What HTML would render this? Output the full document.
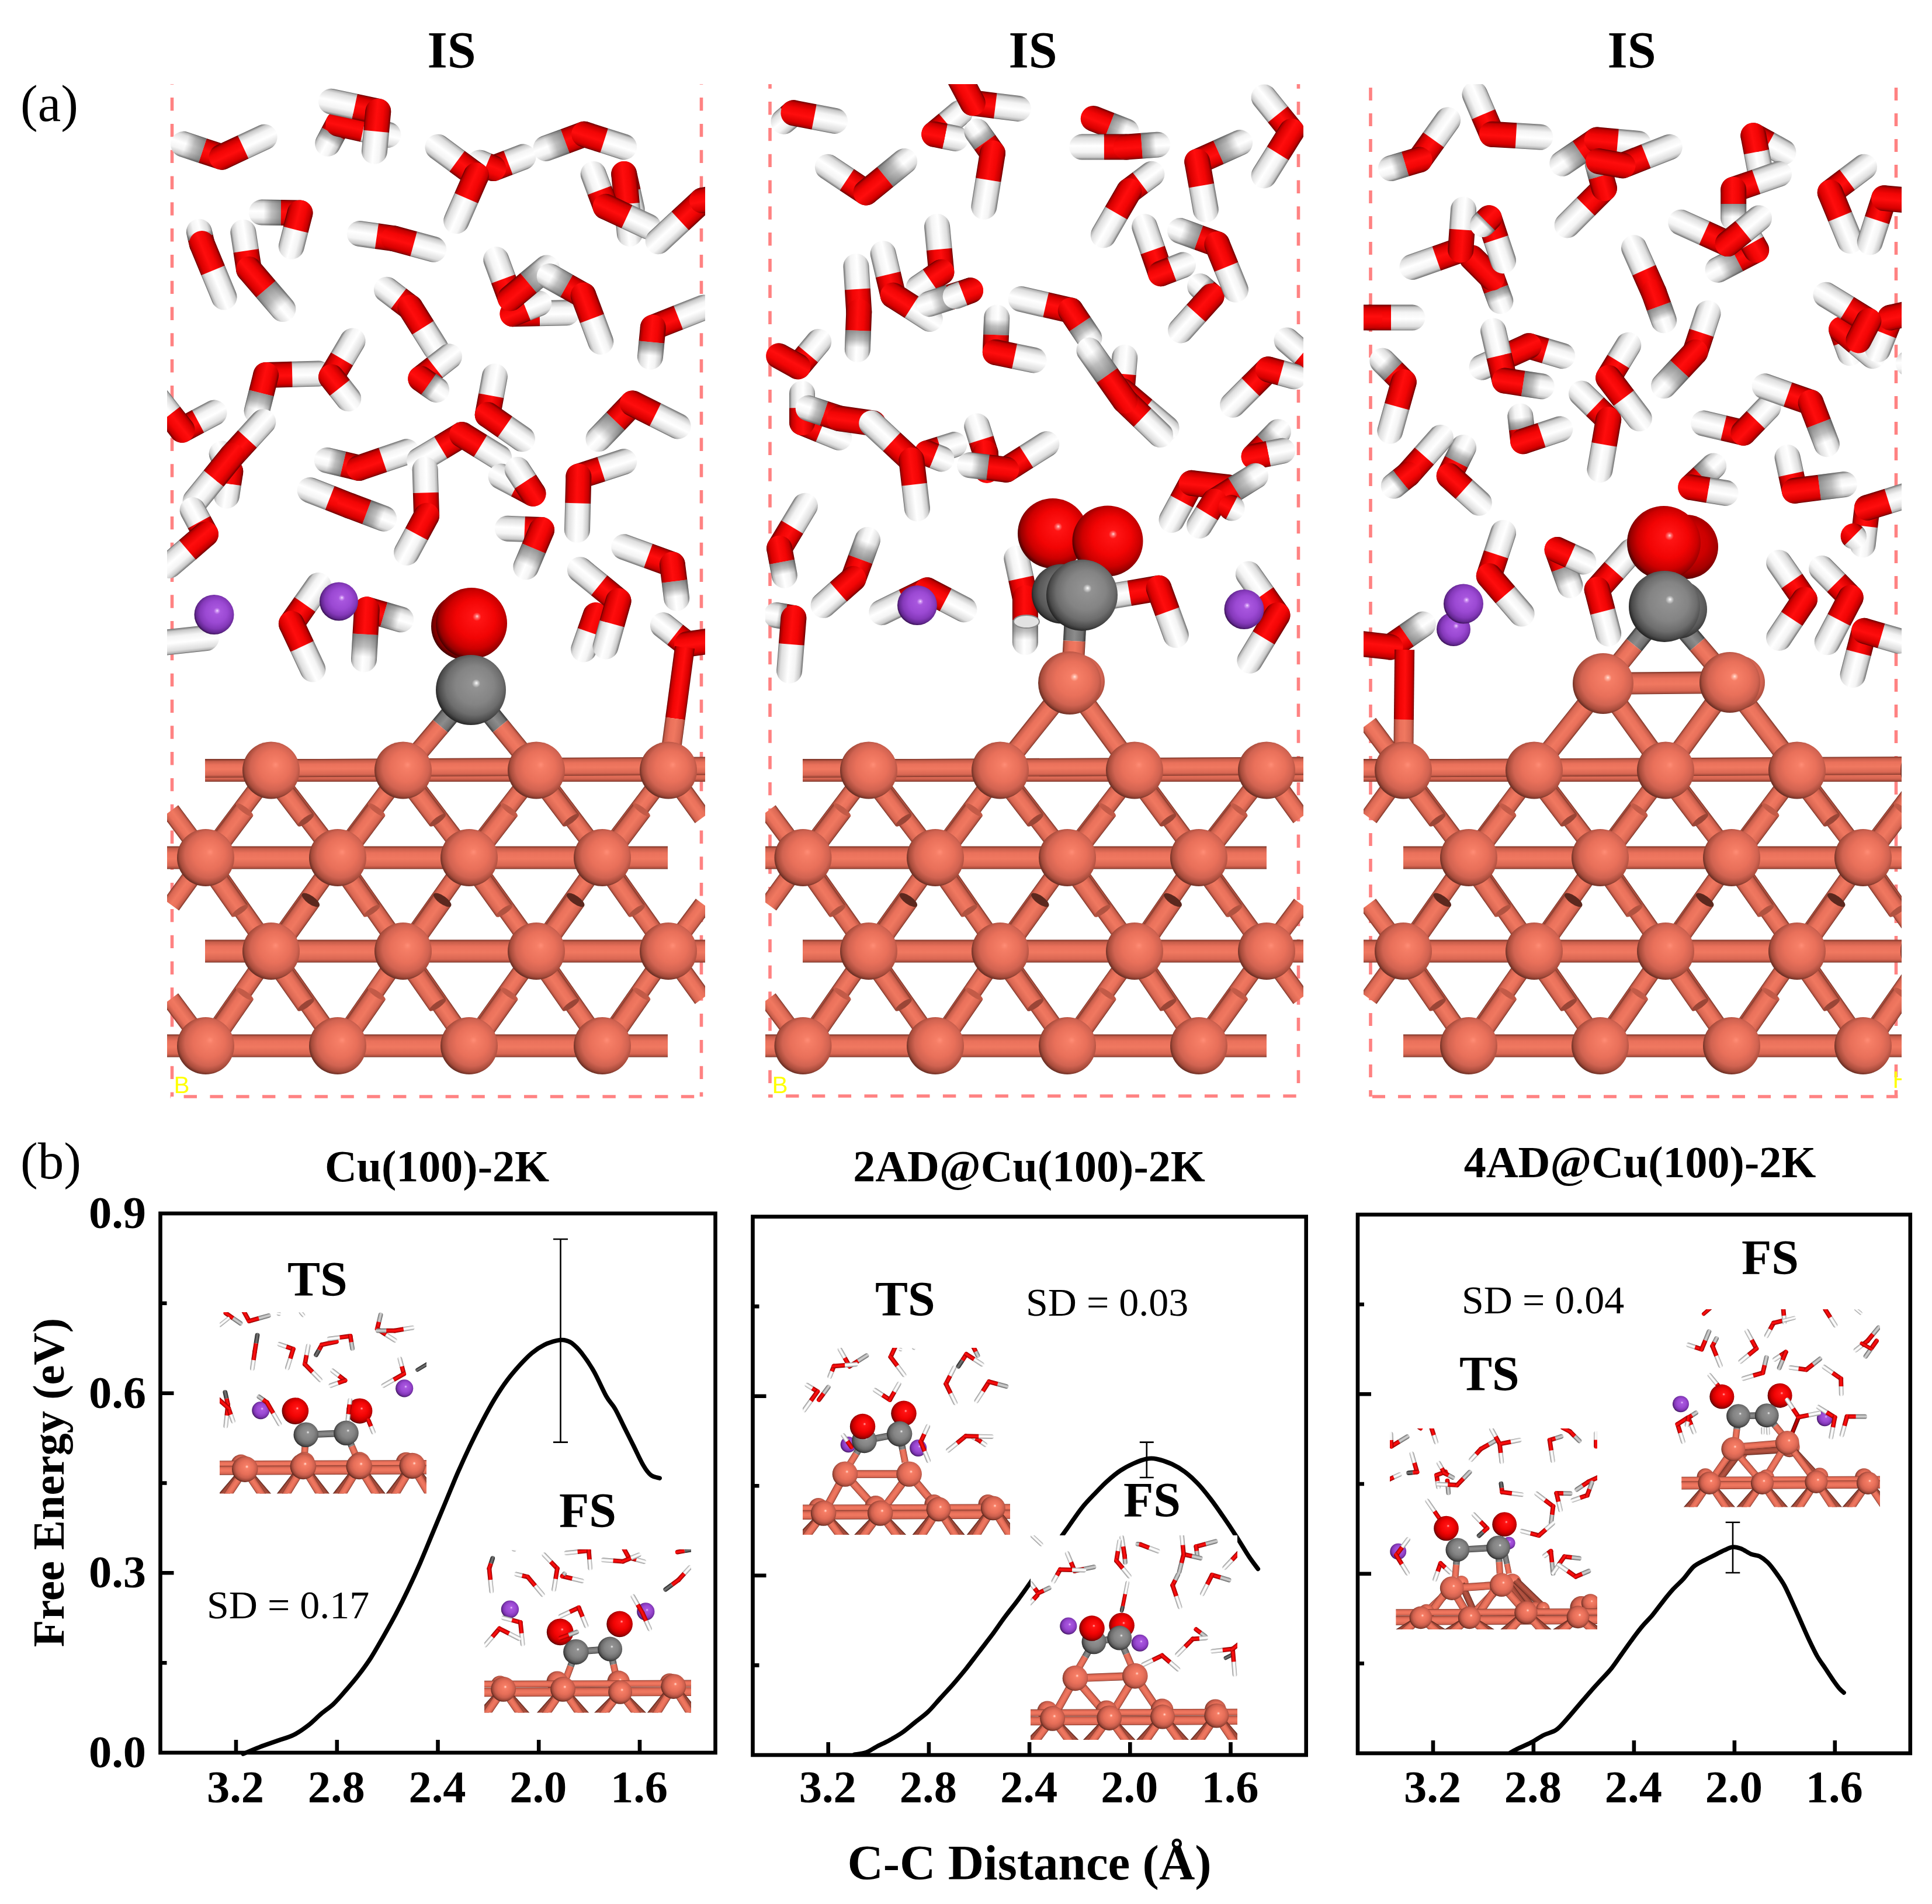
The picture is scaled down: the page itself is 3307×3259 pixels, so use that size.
<!DOCTYPE html><html><head><meta charset="utf-8"><title>figure</title><style>html,body{margin:0;padding:0;background:#fff}svg{display:block}text{font-family:"Liberation Serif",serif;fill:#000}.b{font-weight:bold}</style></head><body><svg width="3307" height="3259" viewBox="0 0 3307 3259"><defs><linearGradient id="sW" x1="0" y1="0" x2="0" y2="1"><stop offset="0" stop-color="#6e6e6e"/><stop offset="0.1" stop-color="#c9c9c9"/><stop offset="0.3" stop-color="#f4f4f4"/><stop offset="0.55" stop-color="#ffffff"/><stop offset="0.85" stop-color="#dedede"/><stop offset="0.95" stop-color="#b4b4b4"/><stop offset="1" stop-color="#6a6a6a"/></linearGradient><linearGradient id="sG" x1="0" y1="0" x2="0" y2="1"><stop offset="0" stop-color="#3c3c3c"/><stop offset="0.12" stop-color="#8d8d8d"/><stop offset="0.4" stop-color="#c4c4c4"/><stop offset="0.6" stop-color="#c8c8c8"/><stop offset="0.88" stop-color="#909090"/><stop offset="1" stop-color="#3a3a3a"/></linearGradient><linearGradient id="sR" x1="0" y1="0" x2="0" y2="1"><stop offset="0" stop-color="#6a0000"/><stop offset="0.1" stop-color="#c40000"/><stop offset="0.3" stop-color="#f20505"/><stop offset="0.55" stop-color="#ff0d0d"/><stop offset="0.85" stop-color="#d80000"/><stop offset="0.95" stop-color="#a80000"/><stop offset="1" stop-color="#600000"/></linearGradient><linearGradient id="sD" x1="0" y1="0" x2="0" y2="1"><stop offset="0" stop-color="#4a0000"/><stop offset="0.15" stop-color="#a00000"/><stop offset="0.5" stop-color="#c80000"/><stop offset="0.85" stop-color="#980000"/><stop offset="1" stop-color="#400000"/></linearGradient><linearGradient id="sC" x1="0" y1="0" x2="0" y2="1"><stop offset="0" stop-color="#7c3427"/><stop offset="0.1" stop-color="#c65d4a"/><stop offset="0.3" stop-color="#ea715b"/><stop offset="0.55" stop-color="#f07860"/><stop offset="0.85" stop-color="#d96753"/><stop offset="0.95" stop-color="#b0503f"/><stop offset="1" stop-color="#6e2d22"/></linearGradient><linearGradient id="sCd" x1="0" y1="0" x2="0" y2="1"><stop offset="0" stop-color="#5a251c"/><stop offset="0.15" stop-color="#9c4636"/><stop offset="0.5" stop-color="#b85543"/><stop offset="0.85" stop-color="#984434"/><stop offset="1" stop-color="#52211a"/></linearGradient><linearGradient id="sGy" x1="0" y1="0" x2="0" y2="1"><stop offset="0" stop-color="#3a3a3a"/><stop offset="0.15" stop-color="#747474"/><stop offset="0.5" stop-color="#8c8c8c"/><stop offset="0.85" stop-color="#707070"/><stop offset="1" stop-color="#363636"/></linearGradient><linearGradient id="fG" x1="0" y1="0" x2="1" y2="0"><stop offset="0" stop-color="#404040" stop-opacity="0.55"/><stop offset="0.55" stop-color="#505050" stop-opacity="0.35"/><stop offset="1" stop-color="#606060" stop-opacity="0"/></linearGradient><linearGradient id="tW" x1="0" y1="0" x2="0" y2="1"><stop offset="0" stop-color="#9a9a9a"/><stop offset="0.3" stop-color="#f6f6f6"/><stop offset="0.6" stop-color="#ffffff"/><stop offset="1" stop-color="#8c8c8c"/></linearGradient><linearGradient id="tR" x1="0" y1="0" x2="0" y2="1"><stop offset="0" stop-color="#9a0000"/><stop offset="0.35" stop-color="#f40a0a"/><stop offset="0.6" stop-color="#ff1010"/><stop offset="1" stop-color="#8a0000"/></linearGradient><linearGradient id="tG" x1="0" y1="0" x2="0" y2="1"><stop offset="0" stop-color="#6a6a6a"/><stop offset="0.35" stop-color="#c6c6c6"/><stop offset="0.6" stop-color="#d0d0d0"/><stop offset="1" stop-color="#5c5c5c"/></linearGradient><linearGradient id="tK" x1="0" y1="0" x2="0" y2="1"><stop offset="0" stop-color="#202020"/><stop offset="0.4" stop-color="#6a6a6a"/><stop offset="0.6" stop-color="#727272"/><stop offset="1" stop-color="#1c1c1c"/></linearGradient><linearGradient id="tD" x1="0" y1="0" x2="0" y2="1"><stop offset="0" stop-color="#500000"/><stop offset="0.4" stop-color="#c00000"/><stop offset="0.6" stop-color="#c80000"/><stop offset="1" stop-color="#480000"/></linearGradient><radialGradient id="bCu" cx="0.535" cy="0.465" r="0.55" fx="0.58" fy="0.4"><stop offset="0" stop-color="#ff8d76"/><stop offset="0.12" stop-color="#f67e66"/><stop offset="0.5" stop-color="#e9705a"/><stop offset="0.74" stop-color="#d16351"/><stop offset="0.9" stop-color="#a64b3b"/><stop offset="1" stop-color="#612a20"/></radialGradient><radialGradient id="bCuS" cx="0.535" cy="0.465" r="0.55" fx="0.58" fy="0.4"><stop offset="0" stop-color="#ffe9e2"/><stop offset="0.045" stop-color="#ffb5a2"/><stop offset="0.12" stop-color="#f67e66"/><stop offset="0.5" stop-color="#e9705a"/><stop offset="0.74" stop-color="#d16351"/><stop offset="0.9" stop-color="#a64b3b"/><stop offset="1" stop-color="#612a20"/></radialGradient><radialGradient id="bCuI" cx="0.535" cy="0.465" r="0.55" fx="0.58" fy="0.4"><stop offset="0" stop-color="#ffe9e2"/><stop offset="0.05" stop-color="#ffb5a2"/><stop offset="0.12" stop-color="#f67e66"/><stop offset="0.5" stop-color="#e66e58"/><stop offset="0.72" stop-color="#cb5f4d"/><stop offset="0.88" stop-color="#9c4637"/><stop offset="1" stop-color="#55241b"/></radialGradient><radialGradient id="bC" cx="0.535" cy="0.465" r="0.55" fx="0.58" fy="0.4"><stop offset="0" stop-color="#ffffff"/><stop offset="0.045" stop-color="#cdcdcd"/><stop offset="0.11" stop-color="#929292"/><stop offset="0.5" stop-color="#848484"/><stop offset="0.74" stop-color="#6d6d6d"/><stop offset="0.9" stop-color="#4a4a4a"/><stop offset="1" stop-color="#202020"/></radialGradient><radialGradient id="bCb" cx="0.535" cy="0.465" r="0.55" fx="0.58" fy="0.4"><stop offset="0" stop-color="#7c7c7c"/><stop offset="0.5" stop-color="#707070"/><stop offset="0.78" stop-color="#585858"/><stop offset="0.92" stop-color="#3c3c3c"/><stop offset="1" stop-color="#1c1c1c"/></radialGradient><radialGradient id="bO" cx="0.535" cy="0.465" r="0.55" fx="0.58" fy="0.4"><stop offset="0" stop-color="#ffd6d6"/><stop offset="0.045" stop-color="#ff6a6a"/><stop offset="0.11" stop-color="#ff1414"/><stop offset="0.5" stop-color="#f20404"/><stop offset="0.74" stop-color="#cd0000"/><stop offset="0.9" stop-color="#960000"/><stop offset="1" stop-color="#420000"/></radialGradient><radialGradient id="bOb" cx="0.535" cy="0.465" r="0.55" fx="0.58" fy="0.4"><stop offset="0" stop-color="#dc0606"/><stop offset="0.5" stop-color="#cc0000"/><stop offset="0.78" stop-color="#a60000"/><stop offset="0.92" stop-color="#780000"/><stop offset="1" stop-color="#380000"/></radialGradient><radialGradient id="bK" cx="0.535" cy="0.465" r="0.55" fx="0.58" fy="0.4"><stop offset="0" stop-color="#f6e2ff"/><stop offset="0.06" stop-color="#cf95f3"/><stop offset="0.15" stop-color="#a856de"/><stop offset="0.5" stop-color="#9b49d3"/><stop offset="0.74" stop-color="#8539ba"/><stop offset="0.9" stop-color="#632791"/><stop offset="1" stop-color="#340f4c"/></radialGradient></defs><rect width="3307" height="3259" fill="#fff"/><clipPath id="cp1"><rect x="286" y="144" width="921" height="1740"/></clipPath><clipPath id="cp2"><rect x="1310" y="144" width="921" height="1740"/></clipPath><clipPath id="cp3"><rect x="2334" y="144" width="921" height="1740"/></clipPath><g clip-path="url(#cp1)"><path d="M294.5 144V1877M1200.5 144V1877M291.5 1877H1203.5" fill="none" stroke="#ff8282" stroke-width="5.6" stroke-dasharray="22.4 22.4" stroke-dashoffset="21.7"/><path transform="translate(579.2 211.7) rotate(117.9)" d="M19.3 -22H38.5A22 22 0 0 1 38.5 22H19.3Z" fill="url(#sW)"/><path transform="translate(579.2 211.7) rotate(117.9)" d="M19.3 -22H0A22 22 0 0 0 0 22H19.3Z" fill="url(#sR)"/><rect transform="translate(579.2 211.7) rotate(117.9)" x="19.3" y="-22" width="17.3" height="44" fill="url(#fG)"/><path transform="translate(579.2 211.7) rotate(12.6)" d="M43.6 -22H87.2A22 22 0 0 1 87.2 22H43.6Z" fill="url(#sW)"/><path transform="translate(579.2 211.7) rotate(12.6)" d="M43.6 -22H0A22 22 0 0 0 0 22H43.6Z" fill="url(#sR)"/><path transform="translate(1068.2 297.9) rotate(77.4)" d="M31.2 -22H62.3A22 22 0 0 1 62.3 22H31.2Z" fill="url(#sW)"/><path transform="translate(1068.2 297.9) rotate(77.4)" d="M31.2 -22H0A22 22 0 0 0 0 22H31.2Z" fill="url(#sR)"/><path transform="translate(1068.2 297.9) rotate(84.6)" d="M51.3 -22H102.6A22 22 0 0 1 102.6 22H51.3Z" fill="url(#sW)"/><path transform="translate(1068.2 297.9) rotate(84.6)" d="M51.3 -22H0A22 22 0 0 0 0 22H51.3Z" fill="url(#sR)"/><path transform="translate(877.5 537.2) rotate(-1.2)" d="M46.2 -22H92.5A22 22 0 0 1 92.5 22H46.2Z" fill="url(#sW)"/><path transform="translate(877.5 537.2) rotate(-1.2)" d="M46.2 -22H0A22 22 0 0 0 0 22H46.2Z" fill="url(#sR)"/><path transform="translate(877.5 537.2) rotate(-21.9)" d="M24.1 -22H48.2A22 22 0 0 1 48.2 22H24.1Z" fill="url(#sW)"/><path transform="translate(877.5 537.2) rotate(-21.9)" d="M24.1 -22H0A22 22 0 0 0 0 22H24.1Z" fill="url(#sR)"/><path transform="translate(379.7 268.7) rotate(-161.6)" d="M34.6 -22H69.2A22 22 0 0 1 69.2 22H34.6Z" fill="url(#sW)"/><path transform="translate(379.7 268.7) rotate(-161.6)" d="M34.6 -22H0A22 22 0 0 0 0 22H34.6Z" fill="url(#sR)"/><rect transform="translate(379.7 268.7) rotate(-161.6)" x="34.6" y="-22" width="31.2" height="44" fill="url(#fG)"/><path transform="translate(379.7 268.7) rotate(-25)" d="M40.3 -22H80.5A22 22 0 0 1 80.5 22H40.3Z" fill="url(#sW)"/><path transform="translate(379.7 268.7) rotate(-25)" d="M40.3 -22H0A22 22 0 0 0 0 22H40.3Z" fill="url(#sR)"/><path transform="translate(647.3 190.8) rotate(-168)" d="M41 -22H82.1A22 22 0 0 1 82.1 22H41Z" fill="url(#sW)"/><path transform="translate(647.3 190.8) rotate(-168)" d="M41 -22H0A22 22 0 0 0 0 22H41Z" fill="url(#sR)"/><path transform="translate(647.3 190.8) rotate(95.3)" d="M34.2 -22H68.4A22 22 0 0 1 68.4 22H34.2Z" fill="url(#sW)"/><path transform="translate(647.3 190.8) rotate(95.3)" d="M34.2 -22H0A22 22 0 0 0 0 22H34.2Z" fill="url(#sR)"/><path transform="translate(844.4 288.1) rotate(-20.9)" d="M27.3 -22H54.7A22 22 0 0 1 54.7 22H27.3Z" fill="url(#sW)"/><path transform="translate(844.4 288.1) rotate(-20.9)" d="M27.3 -22H0A22 22 0 0 0 0 22H27.3Z" fill="url(#sR)"/><path transform="translate(844.4 288.1) rotate(-157.4)" d="M12.7 -22H25.3A22 22 0 0 1 25.3 22H12.7Z" fill="url(#sW)"/><path transform="translate(844.4 288.1) rotate(-157.4)" d="M12.7 -22H0A22 22 0 0 0 0 22H12.7Z" fill="url(#sR)"/><path transform="translate(815.2 300.3) rotate(-143.5)" d="M40.9 -22H81.7A22 22 0 0 1 81.7 22H40.9Z" fill="url(#sW)"/><path transform="translate(815.2 300.3) rotate(-143.5)" d="M40.9 -22H0A22 22 0 0 0 0 22H40.9Z" fill="url(#sR)"/><path transform="translate(815.2 300.3) rotate(113.6)" d="M42.5 -22H85A22 22 0 0 1 85 22H42.5Z" fill="url(#sW)"/><path transform="translate(815.2 300.3) rotate(113.6)" d="M42.5 -22H0A22 22 0 0 0 0 22H42.5Z" fill="url(#sR)"/><path transform="translate(1000.1 229.7) rotate(159.7)" d="M35 -22H70A22 22 0 0 1 70 22H35Z" fill="url(#sW)"/><path transform="translate(1000.1 229.7) rotate(159.7)" d="M35 -22H0A22 22 0 0 0 0 22H35Z" fill="url(#sR)"/><rect transform="translate(1000.1 229.7) rotate(159.7)" x="35" y="-22" width="31.5" height="44" fill="url(#fG)"/><path transform="translate(1000.1 229.7) rotate(17.8)" d="M35.8 -22H71.5A22 22 0 0 1 71.5 22H35.8Z" fill="url(#sW)"/><path transform="translate(1000.1 229.7) rotate(17.8)" d="M35.8 -22H0A22 22 0 0 0 0 22H35.8Z" fill="url(#sR)"/><path transform="translate(1036.6 353.8) rotate(-110.5)" d="M29.9 -22H59.7A22 22 0 0 1 59.7 22H29.9Z" fill="url(#sW)"/><path transform="translate(1036.6 353.8) rotate(-110.5)" d="M29.9 -22H0A22 22 0 0 0 0 22H29.9Z" fill="url(#sR)"/><path transform="translate(1036.6 353.8) rotate(25)" d="M40.3 -22H80.5A22 22 0 0 1 80.5 22H40.3Z" fill="url(#sW)"/><path transform="translate(1036.6 353.8) rotate(25)" d="M40.3 -22H0A22 22 0 0 0 0 22H40.3Z" fill="url(#sR)"/><path transform="translate(1202 343.1) rotate(137.1)" d="M51.5 -22H102.9A22 22 0 0 1 102.9 22H51.5Z" fill="url(#sW)"/><path transform="translate(1202 343.1) rotate(137.1)" d="M51.5 -22H0A22 22 0 0 0 0 22H51.5Z" fill="url(#sR)"/><path transform="translate(1202 343.1) rotate(-10.7)" d="M23.5 -22H47A22 22 0 0 1 47 22H23.5Z" fill="url(#sW)"/><path transform="translate(1202 343.1) rotate(-10.7)" d="M23.5 -22H0A22 22 0 0 0 0 22H23.5Z" fill="url(#sR)"/><path transform="translate(513.5 364.5) rotate(-179.2)" d="M32.8 -22H65.7A22 22 0 0 1 65.7 22H32.8Z" fill="url(#sW)"/><path transform="translate(513.5 364.5) rotate(-179.2)" d="M32.8 -22H0A22 22 0 0 0 0 22H32.8Z" fill="url(#sR)"/><rect transform="translate(513.5 364.5) rotate(-179.2)" x="32.8" y="-22" width="29.6" height="44" fill="url(#fG)"/><path transform="translate(513.5 364.5) rotate(104.3)" d="M29.6 -22H59.2A22 22 0 0 1 59.2 22H29.6Z" fill="url(#sW)"/><path transform="translate(513.5 364.5) rotate(104.3)" d="M29.6 -22H0A22 22 0 0 0 0 22H29.6Z" fill="url(#sR)"/><path transform="translate(345.7 417.1) rotate(-103.4)" d="M10.5 -22H21A22 22 0 0 1 21 22H10.5Z" fill="url(#sW)"/><path transform="translate(345.7 417.1) rotate(-103.4)" d="M10.5 -22H0A22 22 0 0 0 0 22H10.5Z" fill="url(#sR)"/><rect transform="translate(345.7 417.1) rotate(-103.4)" x="10.5" y="-22" width="9.5" height="44" fill="url(#fG)"/><path transform="translate(345.7 417.1) rotate(67.5)" d="M49.5 -22H99A22 22 0 0 1 99 22H49.5Z" fill="url(#sW)"/><path transform="translate(345.7 417.1) rotate(67.5)" d="M49.5 -22H0A22 22 0 0 0 0 22H49.5Z" fill="url(#sR)"/><path transform="translate(426 460.9) rotate(-98.7)" d="M32 -22H64A22 22 0 0 1 64 22H32Z" fill="url(#sW)"/><path transform="translate(426 460.9) rotate(-98.7)" d="M32 -22H0A22 22 0 0 0 0 22H32Z" fill="url(#sR)"/><path transform="translate(426 460.9) rotate(49.4)" d="M44.9 -22H89.7A22 22 0 0 1 89.7 22H44.9Z" fill="url(#sW)"/><path transform="translate(426 460.9) rotate(49.4)" d="M44.9 -22H0A22 22 0 0 0 0 22H44.9Z" fill="url(#sR)"/><rect transform="translate(426 460.9) rotate(49.4)" x="44.9" y="-22" width="40.4" height="44" fill="url(#fG)"/><path transform="translate(674.1 408.3) rotate(-171.9)" d="M29.5 -22H59A22 22 0 0 1 59 22H29.5Z" fill="url(#sW)"/><path transform="translate(674.1 408.3) rotate(-171.9)" d="M29.5 -22H0A22 22 0 0 0 0 22H29.5Z" fill="url(#sR)"/><path transform="translate(674.1 408.3) rotate(15.2)" d="M35.3 -22H70.6A22 22 0 0 1 70.6 22H35.3Z" fill="url(#sW)"/><path transform="translate(674.1 408.3) rotate(15.2)" d="M35.3 -22H0A22 22 0 0 0 0 22H35.3Z" fill="url(#sR)"/><path transform="translate(702.3 526.5) rotate(-142.8)" d="M25.3 -22H50.7A22 22 0 0 1 50.7 22H25.3Z" fill="url(#sW)"/><path transform="translate(702.3 526.5) rotate(-142.8)" d="M25.3 -22H0A22 22 0 0 0 0 22H25.3Z" fill="url(#sR)"/><path transform="translate(702.3 526.5) rotate(57.9)" d="M40.8 -22H81.5A22 22 0 0 1 81.5 22H40.8Z" fill="url(#sW)"/><path transform="translate(702.3 526.5) rotate(57.9)" d="M40.8 -22H0A22 22 0 0 0 0 22H40.8Z" fill="url(#sR)"/><path transform="translate(873.6 510.5) rotate(-110.2)" d="M35.3 -22H70.5A22 22 0 0 1 70.5 22H35.3Z" fill="url(#sW)"/><path transform="translate(873.6 510.5) rotate(-110.2)" d="M35.3 -22H0A22 22 0 0 0 0 22H35.3Z" fill="url(#sR)"/><path transform="translate(873.6 510.5) rotate(-39.9)" d="M40.6 -22H81.2A22 22 0 0 1 81.2 22H40.6Z" fill="url(#sW)"/><path transform="translate(873.6 510.5) rotate(-39.9)" d="M40.6 -22H0A22 22 0 0 0 0 22H40.6Z" fill="url(#sR)"/><rect transform="translate(873.6 510.5) rotate(-39.9)" x="40.6" y="-22" width="36.5" height="44" fill="url(#fG)"/><path transform="translate(998.6 505.6) rotate(-150.6)" d="M33.2 -22H66.4A22 22 0 0 1 66.4 22H33.2Z" fill="url(#sW)"/><path transform="translate(998.6 505.6) rotate(-150.6)" d="M33.2 -22H0A22 22 0 0 0 0 22H33.2Z" fill="url(#sR)"/><rect transform="translate(998.6 505.6) rotate(-150.6)" x="33.2" y="-22" width="29.9" height="44" fill="url(#fG)"/><path transform="translate(998.6 505.6) rotate(69.5)" d="M42.3 -22H84.7A22 22 0 0 1 84.7 22H42.3Z" fill="url(#sW)"/><path transform="translate(998.6 505.6) rotate(69.5)" d="M42.3 -22H0A22 22 0 0 0 0 22H42.3Z" fill="url(#sR)"/><path transform="translate(1117.8 560.6) rotate(-21.5)" d="M46.5 -22H93.1A22 22 0 0 1 93.1 22H46.5Z" fill="url(#sW)"/><path transform="translate(1117.8 560.6) rotate(-21.5)" d="M46.5 -22H0A22 22 0 0 0 0 22H46.5Z" fill="url(#sR)"/><path transform="translate(1117.8 560.6) rotate(95.5)" d="M25.2 -22H50.3A22 22 0 0 1 50.3 22H25.2Z" fill="url(#sW)"/><path transform="translate(1117.8 560.6) rotate(95.5)" d="M25.2 -22H0A22 22 0 0 0 0 22H25.2Z" fill="url(#sR)"/><rect transform="translate(1117.8 560.6) rotate(95.5)" x="25.2" y="-22" width="22.7" height="44" fill="url(#fG)"/><path transform="translate(394.3 807.3) rotate(-115.5)" d="M17 -22H34A22 22 0 0 1 34 22H17Z" fill="url(#sW)"/><path transform="translate(394.3 807.3) rotate(-115.5)" d="M17 -22H0A22 22 0 0 0 0 22H17Z" fill="url(#sR)"/><rect transform="translate(394.3 807.3) rotate(-115.5)" x="17" y="-22" width="15.3" height="44" fill="url(#fG)"/><path transform="translate(394.3 807.3) rotate(98.7)" d="M20.9 -22H41.8A22 22 0 0 1 41.8 22H20.9Z" fill="url(#sW)"/><path transform="translate(394.3 807.3) rotate(98.7)" d="M20.9 -22H0A22 22 0 0 0 0 22H20.9Z" fill="url(#sR)"/><path transform="translate(455.2 641.9) rotate(-1.5)" d="M45 -22H90A22 22 0 0 1 90 22H45Z" fill="url(#sW)"/><path transform="translate(455.2 641.9) rotate(-1.5)" d="M45 -22H0A22 22 0 0 0 0 22H45Z" fill="url(#sR)"/><path transform="translate(455.2 641.9) rotate(104.1)" d="M31.9 -22H63.7A22 22 0 0 1 63.7 22H31.9Z" fill="url(#sW)"/><path transform="translate(455.2 641.9) rotate(104.1)" d="M31.9 -22H0A22 22 0 0 0 0 22H31.9Z" fill="url(#sR)"/><rect transform="translate(455.2 641.9) rotate(104.1)" x="31.9" y="-22" width="28.7" height="44" fill="url(#fG)"/><path transform="translate(567.1 645.3) rotate(-59.4)" d="M35.9 -22H71.8A22 22 0 0 1 71.8 22H35.9Z" fill="url(#sW)"/><path transform="translate(567.1 645.3) rotate(-59.4)" d="M35.9 -22H0A22 22 0 0 0 0 22H35.9Z" fill="url(#sR)"/><path transform="translate(567.1 645.3) rotate(51.7)" d="M23.6 -22H47.1A22 22 0 0 1 47.1 22H23.6Z" fill="url(#sW)"/><path transform="translate(567.1 645.3) rotate(51.7)" d="M23.6 -22H0A22 22 0 0 0 0 22H23.6Z" fill="url(#sR)"/><path transform="translate(720.3 648.2) rotate(-38)" d="M30.9 -22H61.7A22 22 0 0 1 61.7 22H30.9Z" fill="url(#sW)"/><path transform="translate(720.3 648.2) rotate(-38)" d="M30.9 -22H0A22 22 0 0 0 0 22H30.9Z" fill="url(#sR)"/><path transform="translate(720.3 648.2) rotate(35.3)" d="M16.4 -22H32.8A22 22 0 0 1 32.8 22H16.4Z" fill="url(#sW)"/><path transform="translate(720.3 648.2) rotate(35.3)" d="M16.4 -22H0A22 22 0 0 0 0 22H16.4Z" fill="url(#sR)"/><rect transform="translate(720.3 648.2) rotate(35.3)" x="16.4" y="-22" width="14.8" height="44" fill="url(#fG)"/><path transform="translate(834.7 710) rotate(-79.5)" d="M33.4 -22H66.8A22 22 0 0 1 66.8 22H33.4Z" fill="url(#sW)"/><path transform="translate(834.7 710) rotate(-79.5)" d="M33.4 -22H0A22 22 0 0 0 0 22H33.4Z" fill="url(#sR)"/><path transform="translate(834.7 710) rotate(34.9)" d="M36.2 -22H72.3A22 22 0 0 1 72.3 22H36.2Z" fill="url(#sW)"/><path transform="translate(834.7 710) rotate(34.9)" d="M36.2 -22H0A22 22 0 0 0 0 22H36.2Z" fill="url(#sR)"/><path transform="translate(311.6 735.8) rotate(-28)" d="M31.1 -22H62.2A22 22 0 0 1 62.2 22H31.1Z" fill="url(#sW)"/><path transform="translate(311.6 735.8) rotate(-28)" d="M31.1 -22H0A22 22 0 0 0 0 22H31.1Z" fill="url(#sR)"/><path transform="translate(311.6 735.8) rotate(-128.2)" d="M33.4 -22H66.9A22 22 0 0 1 66.9 22H33.4Z" fill="url(#sW)"/><path transform="translate(311.6 735.8) rotate(-128.2)" d="M33.4 -22H0A22 22 0 0 0 0 22H33.4Z" fill="url(#sR)"/><path transform="translate(396.8 780.6) rotate(-47.5)" d="M39.6 -22H79.2A22 22 0 0 1 79.2 22H39.6Z" fill="url(#sW)"/><path transform="translate(396.8 780.6) rotate(-47.5)" d="M39.6 -22H0A22 22 0 0 0 0 22H39.6Z" fill="url(#sR)"/><path transform="translate(396.8 780.6) rotate(129)" d="M49.5 -22H98.9A22 22 0 0 1 98.9 22H49.5Z" fill="url(#sW)"/><path transform="translate(396.8 780.6) rotate(129)" d="M49.5 -22H0A22 22 0 0 0 0 22H49.5Z" fill="url(#sR)"/><path transform="translate(352 914.4) rotate(-118.4)" d="M23.5 -22H47A22 22 0 0 1 47 22H23.5Z" fill="url(#sW)"/><path transform="translate(352 914.4) rotate(-118.4)" d="M23.5 -22H0A22 22 0 0 0 0 22H23.5Z" fill="url(#sR)"/><path transform="translate(352 914.4) rotate(139.3)" d="M41.1 -22H82.1A22 22 0 0 1 82.1 22H41.1Z" fill="url(#sW)"/><path transform="translate(352 914.4) rotate(139.3)" d="M41.1 -22H0A22 22 0 0 0 0 22H41.1Z" fill="url(#sR)"/><path transform="translate(614.7 801) rotate(-166.6)" d="M28.3 -22H56.5A22 22 0 0 1 56.5 22H28.3Z" fill="url(#sW)"/><path transform="translate(614.7 801) rotate(-166.6)" d="M28.3 -22H0A22 22 0 0 0 0 22H28.3Z" fill="url(#sR)"/><rect transform="translate(614.7 801) rotate(-166.6)" x="28.3" y="-22" width="25.4" height="44" fill="url(#fG)"/><path transform="translate(614.7 801) rotate(-18.8)" d="M42.9 -22H85.9A22 22 0 0 1 85.9 22H42.9Z" fill="url(#sW)"/><path transform="translate(614.7 801) rotate(-18.8)" d="M42.9 -22H0A22 22 0 0 0 0 22H42.9Z" fill="url(#sR)"/><path transform="translate(790.9 744.1) rotate(149)" d="M42.6 -22H85.1A22 22 0 0 1 85.1 22H42.6Z" fill="url(#sW)"/><path transform="translate(790.9 744.1) rotate(149)" d="M42.6 -22H0A22 22 0 0 0 0 22H42.6Z" fill="url(#sR)"/><path transform="translate(790.9 744.1) rotate(31.6)" d="M37.1 -22H74.3A22 22 0 0 1 74.3 22H37.1Z" fill="url(#sW)"/><path transform="translate(790.9 744.1) rotate(31.6)" d="M37.1 -22H0A22 22 0 0 0 0 22H37.1Z" fill="url(#sR)"/><path transform="translate(730.1 882.7) rotate(-91.8)" d="M39.4 -22H78.9A22 22 0 0 1 78.9 22H39.4Z" fill="url(#sW)"/><path transform="translate(730.1 882.7) rotate(-91.8)" d="M39.4 -22H0A22 22 0 0 0 0 22H39.4Z" fill="url(#sR)"/><path transform="translate(730.1 882.7) rotate(118.3)" d="M35.9 -22H71.8A22 22 0 0 1 71.8 22H35.9Z" fill="url(#sW)"/><path transform="translate(730.1 882.7) rotate(118.3)" d="M35.9 -22H0A22 22 0 0 0 0 22H35.9Z" fill="url(#sR)"/><path transform="translate(912.5 844.8) rotate(-152)" d="M31.1 -22H62.2A22 22 0 0 1 62.2 22H31.1Z" fill="url(#sW)"/><path transform="translate(912.5 844.8) rotate(-152)" d="M31.1 -22H0A22 22 0 0 0 0 22H31.1Z" fill="url(#sR)"/><path transform="translate(912.5 844.8) rotate(-123.2)" d="M24.4 -22H48.9A22 22 0 0 1 48.9 22H24.4Z" fill="url(#sW)"/><path transform="translate(912.5 844.8) rotate(-123.2)" d="M24.4 -22H0A22 22 0 0 0 0 22H24.4Z" fill="url(#sR)"/><path transform="translate(598.7 865.7) rotate(-158.6)" d="M36.6 -22H73.2A22 22 0 0 1 73.2 22H36.6Z" fill="url(#sW)"/><path transform="translate(598.7 865.7) rotate(-158.6)" d="M36.6 -22H0A22 22 0 0 0 0 22H36.6Z" fill="url(#sR)"/><path transform="translate(598.7 865.7) rotate(20.6)" d="M31.2 -22H62.4A22 22 0 0 1 62.4 22H31.2Z" fill="url(#sW)"/><path transform="translate(598.7 865.7) rotate(20.6)" d="M31.2 -22H0A22 22 0 0 0 0 22H31.2Z" fill="url(#sR)"/><rect transform="translate(598.7 865.7) rotate(20.6)" x="31.2" y="-22" width="28.1" height="44" fill="url(#fG)"/><path transform="translate(990.4 815.6) rotate(-18)" d="M40.9 -22H81.9A22 22 0 0 1 81.9 22H40.9Z" fill="url(#sW)"/><path transform="translate(990.4 815.6) rotate(-18)" d="M40.9 -22H0A22 22 0 0 0 0 22H40.9Z" fill="url(#sR)"/><path transform="translate(990.4 815.6) rotate(91.5)" d="M45.8 -22H91.5A22 22 0 0 1 91.5 22H45.8Z" fill="url(#sW)"/><path transform="translate(990.4 815.6) rotate(91.5)" d="M45.8 -22H0A22 22 0 0 0 0 22H45.8Z" fill="url(#sR)"/><path transform="translate(1082.8 690.5) rotate(133.8)" d="M42.2 -22H84.3A22 22 0 0 1 84.3 22H42.2Z" fill="url(#sW)"/><path transform="translate(1082.8 690.5) rotate(133.8)" d="M42.2 -22H0A22 22 0 0 0 0 22H42.2Z" fill="url(#sR)"/><rect transform="translate(1082.8 690.5) rotate(133.8)" x="42.2" y="-22" width="37.9" height="44" fill="url(#fG)"/><path transform="translate(1082.8 690.5) rotate(26.6)" d="M43.5 -22H87A22 22 0 0 1 87 22H43.5Z" fill="url(#sW)"/><path transform="translate(1082.8 690.5) rotate(26.6)" d="M43.5 -22H0A22 22 0 0 0 0 22H43.5Z" fill="url(#sR)"/><path transform="translate(927.1 907.1) rotate(-177.6)" d="M29.2 -22H58.4A22 22 0 0 1 58.4 22H29.2Z" fill="url(#sW)"/><path transform="translate(927.1 907.1) rotate(-177.6)" d="M29.2 -22H0A22 22 0 0 0 0 22H29.2Z" fill="url(#sR)"/><path transform="translate(927.1 907.1) rotate(112.9)" d="M34.3 -22H68.7A22 22 0 0 1 68.7 22H34.3Z" fill="url(#sW)"/><path transform="translate(927.1 907.1) rotate(112.9)" d="M34.3 -22H0A22 22 0 0 0 0 22H34.3Z" fill="url(#sR)"/><rect transform="translate(927.1 907.1) rotate(112.9)" x="34.3" y="-22" width="30.9" height="44" fill="url(#fG)"/><path transform="translate(1150.9 966.4) rotate(-160)" d="M44 -22H88A22 22 0 0 1 88 22H44Z" fill="url(#sW)"/><path transform="translate(1150.9 966.4) rotate(-160)" d="M44 -22H0A22 22 0 0 0 0 22H44Z" fill="url(#sR)"/><path transform="translate(1150.9 966.4) rotate(82.8)" d="M28.9 -22H57.9A22 22 0 0 1 57.9 22H28.9Z" fill="url(#sW)"/><path transform="translate(1150.9 966.4) rotate(82.8)" d="M28.9 -22H0A22 22 0 0 0 0 22H28.9Z" fill="url(#sR)"/><rect transform="translate(1150.9 966.4) rotate(82.8)" x="28.9" y="-22" width="26" height="44" fill="url(#fG)"/><path transform="translate(1019.6 1053) rotate(109.3)" d="M30.9 -22H61.9A22 22 0 0 1 61.9 22H30.9Z" fill="url(#sW)"/><path transform="translate(1019.6 1053) rotate(109.3)" d="M30.9 -22H0A22 22 0 0 0 0 22H30.9Z" fill="url(#sR)"/><path transform="translate(1058.5 1028.7) rotate(-140.8)" d="M42.4 -22H84.7A22 22 0 0 1 84.7 22H42.4Z" fill="url(#sW)"/><path transform="translate(1058.5 1028.7) rotate(-140.8)" d="M42.4 -22H0A22 22 0 0 0 0 22H42.4Z" fill="url(#sR)"/><path transform="translate(1058.5 1028.7) rotate(105.7)" d="M40.4 -22H80.9A22 22 0 0 1 80.9 22H40.4Z" fill="url(#sW)"/><path transform="translate(1058.5 1028.7) rotate(105.7)" d="M40.4 -22H0A22 22 0 0 0 0 22H40.4Z" fill="url(#sR)"/><path transform="translate(498.9 1067.6) rotate(-54.9)" d="M40.2 -22H80.3A22 22 0 0 1 80.3 22H40.2Z" fill="url(#sW)"/><path transform="translate(498.9 1067.6) rotate(-54.9)" d="M40.2 -22H0A22 22 0 0 0 0 22H40.2Z" fill="url(#sR)"/><path transform="translate(498.9 1067.6) rotate(64.9)" d="M43 -22H86A22 22 0 0 1 86 22H43Z" fill="url(#sW)"/><path transform="translate(498.9 1067.6) rotate(64.9)" d="M43 -22H0A22 22 0 0 0 0 22H43Z" fill="url(#sR)"/><path transform="translate(627.9 1043.3) rotate(16.3)" d="M30.4 -22H60.8A22 22 0 0 1 60.8 22H30.4Z" fill="url(#sW)"/><path transform="translate(627.9 1043.3) rotate(16.3)" d="M30.4 -22H0A22 22 0 0 0 0 22H30.4Z" fill="url(#sR)"/><rect transform="translate(627.9 1043.3) rotate(16.3)" x="30.4" y="-22" width="27.4" height="44" fill="url(#fG)"/><path transform="translate(627.9 1043.3) rotate(93.3)" d="M42.6 -22H85.3A22 22 0 0 1 85.3 22H42.6Z" fill="url(#sW)"/><path transform="translate(627.9 1043.3) rotate(93.3)" d="M42.6 -22H0A22 22 0 0 0 0 22H42.6Z" fill="url(#sR)"/><rect transform="translate(627.9 1043.3) rotate(93.3)" x="42.6" y="-22" width="38.4" height="44" fill="url(#fG)"/><path transform="translate(197.3 1109) rotate(-6.2)" d="M78.3 -22H156.6A22 22 0 0 1 156.6 22H78.3Z" fill="url(#sW)"/><path transform="translate(197.3 1109) rotate(-6.2)" d="M78.3 -22H0A22 22 0 0 0 0 22H78.3Z" fill="url(#sR)"/><path transform="translate(1176.2 1102.7) rotate(-141.8)" d="M26.3 -22H52.7A22 22 0 0 1 52.7 22H26.3Z" fill="url(#sW)"/><path transform="translate(1176.2 1102.7) rotate(-141.8)" d="M26.3 -22H0A22 22 0 0 0 0 22H26.3Z" fill="url(#sR)"/><rect transform="translate(1176.2 1102.7) rotate(-8.2)" x="-22" y="-22" width="102" height="44" rx="22" fill="url(#sR)"/><rect transform="translate(1144 1318.5) rotate(-82.4)" x="89.2" y="-17" width="123.2" height="34" fill="url(#sR)"/><rect transform="translate(1144 1318.5) rotate(-82.4)" x="0" y="-17" width="89.2" height="34" fill="url(#sC)"/><circle cx="366.5" cy="1052" r="34" fill="url(#bK)"/><circle cx="580" cy="1029.5" r="33" fill="url(#bK)"/><rect transform="translate(690 1318.5) rotate(-49.8)" x="98.9" y="-17" width="81" height="34" fill="url(#sGy)"/><rect transform="translate(690 1318.5) rotate(-49.8)" x="0" y="-17" width="98.9" height="34" fill="url(#sC)"/><rect transform="translate(918 1318.5) rotate(-129.2)" x="97.5" y="-17" width="79.8" height="34" fill="url(#sGy)"/><rect transform="translate(918 1318.5) rotate(-129.2)" x="0" y="-17" width="97.5" height="34" fill="url(#sC)"/><circle cx="795" cy="1072" r="57" fill="url(#bOb)"/><circle cx="807" cy="1067" r="61" fill="url(#bO)"/><circle cx="806" cy="1181" r="60" fill="url(#bC)"/><rect transform="translate(351 1318.5) rotate(0)" x="0" y="-19.5" width="949" height="39" fill="url(#sC)"/><rect transform="translate(351 1315.5) rotate(-0.3)" x="0" y="-15.5" width="949" height="31" fill="url(#sC)"/><rect transform="translate(200 1468) rotate(0)" x="0" y="-19.5" width="943" height="39" fill="url(#sC)"/><rect transform="translate(351 1628) rotate(0)" x="0" y="-19.5" width="949" height="39" fill="url(#sC)"/><rect transform="translate(200 1790) rotate(0)" x="0" y="-19.5" width="943" height="39" fill="url(#sC)"/><rect transform="translate(464 1318.5) rotate(126.8)" x="0" y="-16" width="186.8" height="32" fill="url(#sC)"/><rect transform="translate(356 1470) rotate(-53.2)" x="37.4" y="-18" width="67.2" height="36" fill="url(#sC)"/><ellipse transform="translate(356 1470) rotate(-53.2)" cx="104.6" cy="0" rx="5" ry="18" fill="#c25a47"/><rect transform="translate(464 1318.5) rotate(52.7)" x="0" y="-16" width="188" height="32" fill="url(#sC)"/><rect transform="translate(461 1321.5) rotate(52.7)" x="37.6" y="-17" width="65.8" height="34" fill="url(#sC)"/><ellipse transform="translate(461 1321.5) rotate(52.7)" cx="103.4" cy="0" rx="5" ry="17" fill="#9a4536"/><rect transform="translate(690 1318.5) rotate(126.8)" x="0" y="-16" width="186.8" height="32" fill="url(#sC)"/><rect transform="translate(582 1470) rotate(-53.2)" x="37.4" y="-18" width="67.2" height="36" fill="url(#sC)"/><ellipse transform="translate(582 1470) rotate(-53.2)" cx="104.6" cy="0" rx="5" ry="18" fill="#c25a47"/><rect transform="translate(690 1318.5) rotate(52.9)" x="0" y="-16" width="187.4" height="32" fill="url(#sC)"/><rect transform="translate(687 1321.5) rotate(52.9)" x="37.5" y="-17" width="65.6" height="34" fill="url(#sC)"/><ellipse transform="translate(687 1321.5) rotate(52.9)" cx="103.1" cy="0" rx="5" ry="17" fill="#9a4536"/><rect transform="translate(918 1318.5) rotate(127.6)" x="0" y="-16" width="188.6" height="32" fill="url(#sC)"/><rect transform="translate(807 1470) rotate(-52.4)" x="37.7" y="-18" width="67.9" height="36" fill="url(#sC)"/><ellipse transform="translate(807 1470) rotate(-52.4)" cx="105.6" cy="0" rx="5" ry="18" fill="#c25a47"/><rect transform="translate(918 1318.5) rotate(52.9)" x="0" y="-16" width="187.4" height="32" fill="url(#sC)"/><rect transform="translate(915 1321.5) rotate(52.9)" x="37.5" y="-17" width="65.6" height="34" fill="url(#sC)"/><ellipse transform="translate(915 1321.5) rotate(52.9)" cx="103.1" cy="0" rx="5" ry="17" fill="#9a4536"/><rect transform="translate(1144 1318.5) rotate(127.1)" x="0" y="-16" width="187.4" height="32" fill="url(#sC)"/><rect transform="translate(1035 1470) rotate(-52.9)" x="37.5" y="-18" width="67.5" height="36" fill="url(#sC)"/><ellipse transform="translate(1035 1470) rotate(-52.9)" cx="104.9" cy="0" rx="5" ry="18" fill="#c25a47"/><rect transform="translate(352 1468) rotate(55)" x="0" y="-16" width="195.3" height="32" fill="url(#sC)"/><rect transform="translate(349 1471) rotate(55)" x="39.1" y="-17" width="68.4" height="34" fill="url(#sC)"/><ellipse transform="translate(349 1471) rotate(55)" cx="107.4" cy="0" rx="5" ry="17" fill="#b05240"/><rect transform="translate(578 1468) rotate(125.5)" x="0" y="-16" width="196.5" height="32" fill="url(#sC)"/><rect transform="translate(468 1630) rotate(-54.5)" x="39.3" y="-18" width="70.7" height="36" fill="url(#sC)"/><ellipse transform="translate(468 1630) rotate(-54.5)" cx="110" cy="0" rx="7" ry="18" fill="#5c281e"/><rect transform="translate(578 1468) rotate(55)" x="0" y="-16" width="195.3" height="32" fill="url(#sC)"/><rect transform="translate(575 1471) rotate(55)" x="39.1" y="-17" width="68.4" height="34" fill="url(#sC)"/><ellipse transform="translate(575 1471) rotate(55)" cx="107.4" cy="0" rx="5" ry="17" fill="#b05240"/><rect transform="translate(803 1468) rotate(125.2)" x="0" y="-16" width="195.9" height="32" fill="url(#sC)"/><rect transform="translate(694 1630) rotate(-54.8)" x="39.2" y="-18" width="70.5" height="36" fill="url(#sC)"/><ellipse transform="translate(694 1630) rotate(-54.8)" cx="109.7" cy="0" rx="7" ry="18" fill="#5c281e"/><rect transform="translate(803 1468) rotate(54.3)" x="0" y="-16" width="197" height="32" fill="url(#sC)"/><rect transform="translate(800 1471) rotate(54.3)" x="39.4" y="-17" width="69" height="34" fill="url(#sC)"/><ellipse transform="translate(800 1471) rotate(54.3)" cx="108.4" cy="0" rx="5" ry="17" fill="#b05240"/><rect transform="translate(1031 1468) rotate(125.2)" x="0" y="-16" width="195.9" height="32" fill="url(#sC)"/><rect transform="translate(922 1630) rotate(-54.8)" x="39.2" y="-18" width="70.5" height="36" fill="url(#sC)"/><ellipse transform="translate(922 1630) rotate(-54.8)" cx="109.7" cy="0" rx="7" ry="18" fill="#5c281e"/><rect transform="translate(1031 1468) rotate(54.8)" x="0" y="-16" width="195.9" height="32" fill="url(#sC)"/><rect transform="translate(1028 1471) rotate(54.8)" x="39.2" y="-17" width="68.6" height="34" fill="url(#sC)"/><ellipse transform="translate(1028 1471) rotate(54.8)" cx="107.7" cy="0" rx="5" ry="17" fill="#b05240"/><rect transform="translate(464 1628) rotate(124.7)" x="0" y="-16" width="196.9" height="32" fill="url(#sC)"/><rect transform="translate(356 1792) rotate(-55.3)" x="39.4" y="-18" width="70.9" height="36" fill="url(#sC)"/><ellipse transform="translate(356 1792) rotate(-55.3)" cx="110.3" cy="0" rx="5" ry="18" fill="#c25a47"/><rect transform="translate(464 1628) rotate(54.9)" x="0" y="-16" width="198.1" height="32" fill="url(#sC)"/><rect transform="translate(461 1631) rotate(54.9)" x="39.6" y="-17" width="69.3" height="34" fill="url(#sC)"/><ellipse transform="translate(461 1631) rotate(54.9)" cx="108.9" cy="0" rx="5" ry="17" fill="#9a4536"/><rect transform="translate(690 1628) rotate(124.7)" x="0" y="-16" width="196.9" height="32" fill="url(#sC)"/><rect transform="translate(582 1792) rotate(-55.3)" x="39.4" y="-18" width="70.9" height="36" fill="url(#sC)"/><ellipse transform="translate(582 1792) rotate(-55.3)" cx="110.3" cy="0" rx="5" ry="18" fill="#c25a47"/><rect transform="translate(690 1628) rotate(55.1)" x="0" y="-16" width="197.5" height="32" fill="url(#sC)"/><rect transform="translate(687 1631) rotate(55.1)" x="39.5" y="-17" width="69.1" height="34" fill="url(#sC)"/><ellipse transform="translate(687 1631) rotate(55.1)" cx="108.6" cy="0" rx="5" ry="17" fill="#9a4536"/><rect transform="translate(918 1628) rotate(125.4)" x="0" y="-16" width="198.7" height="32" fill="url(#sC)"/><rect transform="translate(807 1792) rotate(-54.6)" x="39.7" y="-18" width="71.5" height="36" fill="url(#sC)"/><ellipse transform="translate(807 1792) rotate(-54.6)" cx="111.3" cy="0" rx="5" ry="18" fill="#c25a47"/><rect transform="translate(918 1628) rotate(55.1)" x="0" y="-16" width="197.5" height="32" fill="url(#sC)"/><rect transform="translate(915 1631) rotate(55.1)" x="39.5" y="-17" width="69.1" height="34" fill="url(#sC)"/><ellipse transform="translate(915 1631) rotate(55.1)" cx="108.6" cy="0" rx="5" ry="17" fill="#9a4536"/><rect transform="translate(1144 1628) rotate(124.9)" x="0" y="-16" width="197.5" height="32" fill="url(#sC)"/><rect transform="translate(1035 1792) rotate(-55.1)" x="39.5" y="-18" width="71.1" height="36" fill="url(#sC)"/><ellipse transform="translate(1035 1792) rotate(-55.1)" cx="110.6" cy="0" rx="5" ry="18" fill="#c25a47"/><rect transform="translate(352 1468) rotate(-126.7)" x="0" y="-16" width="100" height="32" fill="url(#sC)"/><rect transform="translate(352 1468) rotate(125.9)" x="0" y="-16" width="100" height="32" fill="url(#sC)"/><rect transform="translate(352 1790) rotate(-126.7)" x="0" y="-16" width="100" height="32" fill="url(#sC)"/><rect transform="translate(1144 1318.5) rotate(54.1)" x="0" y="-16" width="100" height="32" fill="url(#sC)"/><rect transform="translate(1144 1628) rotate(54.1)" x="0" y="-16" width="100" height="32" fill="url(#sC)"/><rect transform="translate(1144 1628) rotate(-53.3)" x="0" y="-16" width="100" height="32" fill="url(#sC)"/><circle cx="464" cy="1318.5" r="49" fill="url(#bCu)"/><circle cx="690" cy="1318.5" r="49" fill="url(#bCu)"/><circle cx="918" cy="1318.5" r="49" fill="url(#bCu)"/><circle cx="1144" cy="1318.5" r="49" fill="url(#bCu)"/><circle cx="352" cy="1468" r="49" fill="url(#bCu)"/><circle cx="578" cy="1468" r="49" fill="url(#bCu)"/><circle cx="803" cy="1468" r="49" fill="url(#bCu)"/><circle cx="1031" cy="1468" r="49" fill="url(#bCu)"/><circle cx="464" cy="1628" r="49" fill="url(#bCu)"/><circle cx="690" cy="1628" r="49" fill="url(#bCu)"/><circle cx="918" cy="1628" r="49" fill="url(#bCu)"/><circle cx="1144" cy="1628" r="49" fill="url(#bCu)"/><circle cx="352" cy="1790" r="49" fill="url(#bCu)"/><circle cx="578" cy="1790" r="49" fill="url(#bCu)"/><circle cx="803" cy="1790" r="49" fill="url(#bCu)"/><circle cx="1031" cy="1790" r="49" fill="url(#bCu)"/><text x="298" y="1871" font-size="40" style="font-family:'Liberation Sans',sans-serif;fill:#ffff00">B</text></g><g clip-path="url(#cp2)"><path d="M1318 144V1876M2222.5 144V1876M1315 1876H2225.5" fill="none" stroke="#ff8282" stroke-width="5.6" stroke-dasharray="22.4 22.4" stroke-dashoffset="14.7"/><path transform="translate(1599.2 229.7) rotate(-39.8)" d="M28.5 -22H57A22 22 0 0 1 57 22H28.5Z" fill="url(#sW)"/><path transform="translate(1599.2 229.7) rotate(-39.8)" d="M28.5 -22H0A22 22 0 0 0 0 22H28.5Z" fill="url(#sR)"/><path transform="translate(1599.2 229.7) rotate(11.3)" d="M18.6 -22H37.2A22 22 0 0 1 37.2 22H18.6Z" fill="url(#sW)"/><path transform="translate(1599.2 229.7) rotate(11.3)" d="M18.6 -22H0A22 22 0 0 0 0 22H18.6Z" fill="url(#sR)"/><path transform="translate(1358.4 193.3) rotate(139.4)" d="M11.2 -22H22.4A22 22 0 0 1 22.4 22H11.2Z" fill="url(#sW)"/><path transform="translate(1358.4 193.3) rotate(139.4)" d="M11.2 -22H0A22 22 0 0 0 0 22H11.2Z" fill="url(#sR)"/><path transform="translate(1358.4 193.3) rotate(10.9)" d="M35.9 -22H71.9A22 22 0 0 1 71.9 22H35.9Z" fill="url(#sW)"/><path transform="translate(1358.4 193.3) rotate(10.9)" d="M35.9 -22H0A22 22 0 0 0 0 22H35.9Z" fill="url(#sR)"/><path transform="translate(1482.5 329.5) rotate(-146.3)" d="M39.5 -22H78.9A22 22 0 0 1 78.9 22H39.5Z" fill="url(#sW)"/><path transform="translate(1482.5 329.5) rotate(-146.3)" d="M39.5 -22H0A22 22 0 0 0 0 22H39.5Z" fill="url(#sR)"/><path transform="translate(1482.5 329.5) rotate(-39.2)" d="M42.4 -22H84.7A22 22 0 0 1 84.7 22H42.4Z" fill="url(#sW)"/><path transform="translate(1482.5 329.5) rotate(-39.2)" d="M42.4 -22H0A22 22 0 0 0 0 22H42.4Z" fill="url(#sR)"/><rect transform="translate(1482.5 329.5) rotate(-39.2)" x="42.4" y="-22" width="38.1" height="44" fill="url(#fG)"/><path transform="translate(1664.9 176.2) rotate(7.1)" d="M39.2 -22H78.5A22 22 0 0 1 78.5 22H39.2Z" fill="url(#sW)"/><path transform="translate(1664.9 176.2) rotate(7.1)" d="M39.2 -22H0A22 22 0 0 0 0 22H39.2Z" fill="url(#sR)"/><rect transform="translate(1664.9 176.2) rotate(-117.9)" x="-22" y="-22" width="90.8" height="44" rx="22" fill="url(#sR)"/><path transform="translate(1699 262.3) rotate(-125.5)" d="M23 -22H46A22 22 0 0 1 46 22H23Z" fill="url(#sW)"/><path transform="translate(1699 262.3) rotate(-125.5)" d="M23 -22H0A22 22 0 0 0 0 22H23Z" fill="url(#sR)"/><rect transform="translate(1699 262.3) rotate(-125.5)" x="23" y="-22" width="20.7" height="44" fill="url(#fG)"/><path transform="translate(1699 262.3) rotate(99.1)" d="M46.3 -22H92.6A22 22 0 0 1 92.6 22H46.3Z" fill="url(#sW)"/><path transform="translate(1699 262.3) rotate(99.1)" d="M46.3 -22H0A22 22 0 0 0 0 22H46.3Z" fill="url(#sR)"/><path transform="translate(1871.7 203) rotate(21.4)" d="M30 -22H60.1A22 22 0 0 1 60.1 22H30Z" fill="url(#sW)"/><path transform="translate(1871.7 203) rotate(21.4)" d="M30 -22H0A22 22 0 0 0 0 22H30Z" fill="url(#sR)"/><rect transform="translate(1871.7 203) rotate(21.4)" x="30" y="-22" width="27" height="44" fill="url(#fG)"/><path transform="translate(1927.6 251.6) rotate(180)" d="M37.7 -22H75.4A22 22 0 0 1 75.4 22H37.7Z" fill="url(#sW)"/><path transform="translate(1927.6 251.6) rotate(180)" d="M37.7 -22H0A22 22 0 0 0 0 22H37.7Z" fill="url(#sR)"/><path transform="translate(1927.6 251.6) rotate(-4.2)" d="M26.8 -22H53.7A22 22 0 0 1 53.7 22H26.8Z" fill="url(#sW)"/><path transform="translate(1927.6 251.6) rotate(-4.2)" d="M26.8 -22H0A22 22 0 0 0 0 22H26.8Z" fill="url(#sR)"/><rect transform="translate(1927.6 251.6) rotate(-4.2)" x="26.8" y="-22" width="24.1" height="44" fill="url(#fG)"/><path transform="translate(1932.5 327.1) rotate(-36.9)" d="M24.3 -22H48.7A22 22 0 0 1 48.7 22H24.3Z" fill="url(#sW)"/><path transform="translate(1932.5 327.1) rotate(-36.9)" d="M24.3 -22H0A22 22 0 0 0 0 22H24.3Z" fill="url(#sR)"/><path transform="translate(1932.5 327.1) rotate(120.1)" d="M43.6 -22H87.2A22 22 0 0 1 87.2 22H43.6Z" fill="url(#sW)"/><path transform="translate(1932.5 327.1) rotate(120.1)" d="M43.6 -22H0A22 22 0 0 0 0 22H43.6Z" fill="url(#sR)"/><path transform="translate(2049.3 276.9) rotate(-24.1)" d="M40 -22H79.9A22 22 0 0 1 79.9 22H40Z" fill="url(#sW)"/><path transform="translate(2049.3 276.9) rotate(-24.1)" d="M40 -22H0A22 22 0 0 0 0 22H40Z" fill="url(#sR)"/><rect transform="translate(2049.3 276.9) rotate(-24.1)" x="40" y="-22" width="36" height="44" fill="url(#fG)"/><path transform="translate(2049.3 276.9) rotate(79.9)" d="M41.5 -22H83A22 22 0 0 1 83 22H41.5Z" fill="url(#sW)"/><path transform="translate(2049.3 276.9) rotate(79.9)" d="M41.5 -22H0A22 22 0 0 0 0 22H41.5Z" fill="url(#sR)"/><path transform="translate(2210.8 224.9) rotate(-128.9)" d="M37.5 -22H75.1A22 22 0 0 1 75.1 22H37.5Z" fill="url(#sW)"/><path transform="translate(2210.8 224.9) rotate(-128.9)" d="M37.5 -22H0A22 22 0 0 0 0 22H37.5Z" fill="url(#sR)"/><path transform="translate(2210.8 224.9) rotate(122)" d="M44.5 -22H89A22 22 0 0 1 89 22H44.5Z" fill="url(#sW)"/><path transform="translate(2210.8 224.9) rotate(122)" d="M44.5 -22H0A22 22 0 0 0 0 22H44.5Z" fill="url(#sR)"/><path transform="translate(1611.4 465.7) rotate(-95.4)" d="M39.1 -22H78.2A22 22 0 0 1 78.2 22H39.1Z" fill="url(#sW)"/><path transform="translate(1611.4 465.7) rotate(-95.4)" d="M39.1 -22H0A22 22 0 0 0 0 22H39.1Z" fill="url(#sR)"/><path transform="translate(1611.4 465.7) rotate(145.5)" d="M23.6 -22H47.2A22 22 0 0 1 47.2 22H23.6Z" fill="url(#sW)"/><path transform="translate(1611.4 465.7) rotate(145.5)" d="M23.6 -22H0A22 22 0 0 0 0 22H23.6Z" fill="url(#sR)"/><path transform="translate(1528.7 505.6) rotate(-103.4)" d="M36.8 -22H73.5A22 22 0 0 1 73.5 22H36.8Z" fill="url(#sW)"/><path transform="translate(1528.7 505.6) rotate(-103.4)" d="M36.8 -22H0A22 22 0 0 0 0 22H36.8Z" fill="url(#sR)"/><path transform="translate(1528.7 505.6) rotate(32.6)" d="M37.5 -22H75A22 22 0 0 1 75 22H37.5Z" fill="url(#sW)"/><path transform="translate(1528.7 505.6) rotate(32.6)" d="M37.5 -22H0A22 22 0 0 0 0 22H37.5Z" fill="url(#sR)"/><path transform="translate(1661 497.3) rotate(161.9)" d="M36.9 -22H73.7A22 22 0 0 1 73.7 22H36.9Z" fill="url(#sW)"/><path transform="translate(1661 497.3) rotate(161.9)" d="M36.9 -22H0A22 22 0 0 0 0 22H36.9Z" fill="url(#sR)"/><rect transform="translate(1661 497.3) rotate(161.9)" x="36.9" y="-22" width="33.2" height="44" fill="url(#fG)"/><path transform="translate(1661 497.3) rotate(159)" d="M13.6 -22H27.1A22 22 0 0 1 27.1 22H13.6Z" fill="url(#sW)"/><path transform="translate(1661 497.3) rotate(159)" d="M13.6 -22H0A22 22 0 0 0 0 22H13.6Z" fill="url(#sR)"/><path transform="translate(1470.3 533.8) rotate(-93.6)" d="M39 -22H78A22 22 0 0 1 78 22H39Z" fill="url(#sW)"/><path transform="translate(1470.3 533.8) rotate(-93.6)" d="M39 -22H0A22 22 0 0 0 0 22H39Z" fill="url(#sR)"/><path transform="translate(1470.3 533.8) rotate(92.2)" d="M32.1 -22H64.3A22 22 0 0 1 64.3 22H32.1Z" fill="url(#sW)"/><path transform="translate(1470.3 533.8) rotate(92.2)" d="M32.1 -22H0A22 22 0 0 0 0 22H32.1Z" fill="url(#sR)"/><rect transform="translate(1470.3 533.8) rotate(92.2)" x="32.1" y="-22" width="28.9" height="44" fill="url(#fG)"/><path transform="translate(1365.7 627.3) rotate(-50)" d="M27.6 -22H55.3A22 22 0 0 1 55.3 22H27.6Z" fill="url(#sW)"/><path transform="translate(1365.7 627.3) rotate(-50)" d="M27.6 -22H0A22 22 0 0 0 0 22H27.6Z" fill="url(#sR)"/><rect transform="translate(1365.7 627.3) rotate(-151.1)" x="-22" y="-22" width="81.2" height="44" rx="22" fill="url(#sR)"/><path transform="translate(1832.8 531.4) rotate(-167.1)" d="M43.7 -22H87.3A22 22 0 0 1 87.3 22H43.7Z" fill="url(#sW)"/><path transform="translate(1832.8 531.4) rotate(-167.1)" d="M43.7 -22H0A22 22 0 0 0 0 22H43.7Z" fill="url(#sR)"/><path transform="translate(1832.8 531.4) rotate(56.2)" d="M28.4 -22H56.8A22 22 0 0 1 56.8 22H28.4Z" fill="url(#sW)"/><path transform="translate(1832.8 531.4) rotate(56.2)" d="M28.4 -22H0A22 22 0 0 0 0 22H28.4Z" fill="url(#sR)"/><rect transform="translate(1832.8 531.4) rotate(56.2)" x="28.4" y="-22" width="25.6" height="44" fill="url(#fG)"/><path transform="translate(1703.8 602.9) rotate(-87.7)" d="M29.7 -22H59.4A22 22 0 0 1 59.4 22H29.7Z" fill="url(#sW)"/><path transform="translate(1703.8 602.9) rotate(-87.7)" d="M29.7 -22H0A22 22 0 0 0 0 22H29.7Z" fill="url(#sR)"/><rect transform="translate(1703.8 602.9) rotate(-87.7)" x="29.7" y="-22" width="26.7" height="44" fill="url(#fG)"/><path transform="translate(1703.8 602.9) rotate(11.7)" d="M33.5 -22H67.1A22 22 0 0 1 67.1 22H33.5Z" fill="url(#sW)"/><path transform="translate(1703.8 602.9) rotate(11.7)" d="M33.5 -22H0A22 22 0 0 0 0 22H33.5Z" fill="url(#sR)"/><path transform="translate(1987 468.2) rotate(-109.1)" d="M42.5 -22H84.9A22 22 0 0 1 84.9 22H42.5Z" fill="url(#sW)"/><path transform="translate(1987 468.2) rotate(-109.1)" d="M42.5 -22H0A22 22 0 0 0 0 22H42.5Z" fill="url(#sR)"/><path transform="translate(1987 468.2) rotate(-21)" d="M20.3 -22H40.7A22 22 0 0 1 40.7 22H20.3Z" fill="url(#sW)"/><path transform="translate(1987 468.2) rotate(-21)" d="M20.3 -22H0A22 22 0 0 0 0 22H20.3Z" fill="url(#sR)"/><path transform="translate(2073.6 507.1) rotate(-138.8)" d="M12.9 -22H25.9A22 22 0 0 1 25.9 22H12.9Z" fill="url(#sW)"/><path transform="translate(2073.6 507.1) rotate(-138.8)" d="M12.9 -22H0A22 22 0 0 0 0 22H12.9Z" fill="url(#sR)"/><rect transform="translate(2073.6 507.1) rotate(-138.8)" x="12.9" y="-22" width="11.6" height="44" fill="url(#fG)"/><path transform="translate(2073.6 507.1) rotate(132)" d="M39.3 -22H78.5A22 22 0 0 1 78.5 22H39.3Z" fill="url(#sW)"/><path transform="translate(2073.6 507.1) rotate(132)" d="M39.3 -22H0A22 22 0 0 0 0 22H39.3Z" fill="url(#sR)"/><path transform="translate(2083.3 418) rotate(-160.1)" d="M33.6 -22H67.3A22 22 0 0 1 67.3 22H33.6Z" fill="url(#sW)"/><path transform="translate(2083.3 418) rotate(-160.1)" d="M33.6 -22H0A22 22 0 0 0 0 22H33.6Z" fill="url(#sR)"/><rect transform="translate(2083.3 418) rotate(-160.1)" x="33.6" y="-22" width="30.3" height="44" fill="url(#fG)"/><path transform="translate(2083.3 418) rotate(67.9)" d="M42 -22H84A22 22 0 0 1 84 22H42Z" fill="url(#sW)"/><path transform="translate(2083.3 418) rotate(67.9)" d="M42 -22H0A22 22 0 0 0 0 22H42Z" fill="url(#sR)"/><path transform="translate(2256.1 628.7) rotate(-139.2)" d="M35.4 -22H70.7A22 22 0 0 1 70.7 22H35.4Z" fill="url(#sW)"/><path transform="translate(2256.1 628.7) rotate(-139.2)" d="M35.4 -22H0A22 22 0 0 0 0 22H35.4Z" fill="url(#sR)"/><path transform="translate(1373 723.1) rotate(22.2)" d="M34.2 -22H68.3A22 22 0 0 1 68.3 22H34.2Z" fill="url(#sW)"/><path transform="translate(1373 723.1) rotate(22.2)" d="M34.2 -22H0A22 22 0 0 0 0 22H34.2Z" fill="url(#sR)"/><path transform="translate(1373 723.1) rotate(-90)" d="M24.8 -22H49.6A22 22 0 0 1 49.6 22H24.8Z" fill="url(#sW)"/><path transform="translate(1373 723.1) rotate(-90)" d="M24.8 -22H0A22 22 0 0 0 0 22H24.8Z" fill="url(#sR)"/><path transform="translate(1437.2 716.3) rotate(-161.9)" d="M28.2 -22H56.3A22 22 0 0 1 56.3 22H28.2Z" fill="url(#sW)"/><path transform="translate(1437.2 716.3) rotate(-161.9)" d="M28.2 -22H0A22 22 0 0 0 0 22H28.2Z" fill="url(#sR)"/><rect transform="translate(1437.2 716.3) rotate(-161.9)" x="28.2" y="-22" width="25.3" height="44" fill="url(#fG)"/><rect transform="translate(1437.2 716.3) rotate(8.2)" x="-22" y="-22" width="102" height="44" rx="22" fill="url(#sR)"/><path transform="translate(1587.1 775.7) rotate(-17.5)" d="M24.2 -22H48.5A22 22 0 0 1 48.5 22H24.2Z" fill="url(#sW)"/><path transform="translate(1587.1 775.7) rotate(-17.5)" d="M24.2 -22H0A22 22 0 0 0 0 22H24.2Z" fill="url(#sR)"/><path transform="translate(1587.1 775.7) rotate(21.8)" d="M13.1 -22H26.2A22 22 0 0 1 26.2 22H13.1Z" fill="url(#sW)"/><path transform="translate(1587.1 775.7) rotate(21.8)" d="M13.1 -22H0A22 22 0 0 0 0 22H13.1Z" fill="url(#sR)"/><path transform="translate(1560.3 787.9) rotate(-137.1)" d="M46.5 -22H93A22 22 0 0 1 93 22H46.5Z" fill="url(#sW)"/><path transform="translate(1560.3 787.9) rotate(-137.1)" d="M46.5 -22H0A22 22 0 0 0 0 22H46.5Z" fill="url(#sR)"/><path transform="translate(1560.3 787.9) rotate(83.3)" d="M41.6 -22H83.3A22 22 0 0 1 83.3 22H41.6Z" fill="url(#sW)"/><path transform="translate(1560.3 787.9) rotate(83.3)" d="M41.6 -22H0A22 22 0 0 0 0 22H41.6Z" fill="url(#sR)"/><path transform="translate(1686.8 775.7) rotate(-107.5)" d="M24.2 -22H48.5A22 22 0 0 1 48.5 22H24.2Z" fill="url(#sW)"/><path transform="translate(1686.8 775.7) rotate(-107.5)" d="M24.2 -22H0A22 22 0 0 0 0 22H24.2Z" fill="url(#sR)"/><rect transform="translate(1686.8 775.7) rotate(85.2)" x="-22" y="-22" width="73.3" height="44" rx="22" fill="url(#sR)"/><path transform="translate(1722.3 803.9) rotate(-32.4)" d="M40.9 -22H81.8A22 22 0 0 1 81.8 22H40.9Z" fill="url(#sW)"/><path transform="translate(1722.3 803.9) rotate(-32.4)" d="M40.9 -22H0A22 22 0 0 0 0 22H40.9Z" fill="url(#sR)"/><path transform="translate(1722.3 803.9) rotate(-172.9)" d="M31.4 -22H62.8A22 22 0 0 1 62.8 22H31.4Z" fill="url(#sW)"/><path transform="translate(1722.3 803.9) rotate(-172.9)" d="M31.4 -22H0A22 22 0 0 0 0 22H31.4Z" fill="url(#sR)"/><rect transform="translate(1722.3 803.9) rotate(-172.9)" x="31.4" y="-22" width="28.2" height="44" fill="url(#fG)"/><path transform="translate(1920.3 668.7) rotate(-85.1)" d="M28.6 -22H57.1A22 22 0 0 1 57.1 22H28.6Z" fill="url(#sW)"/><path transform="translate(1920.3 668.7) rotate(-85.1)" d="M28.6 -22H0A22 22 0 0 0 0 22H28.6Z" fill="url(#sR)"/><path transform="translate(1920.3 668.7) rotate(40.1)" d="M49.9 -22H99.8A22 22 0 0 1 99.8 22H49.9Z" fill="url(#sW)"/><path transform="translate(1920.3 668.7) rotate(40.1)" d="M49.9 -22H0A22 22 0 0 0 0 22H49.9Z" fill="url(#sR)"/><path transform="translate(1925.2 685.7) rotate(43.8)" d="M42.2 -22H84.3A22 22 0 0 1 84.3 22H42.2Z" fill="url(#sW)"/><path transform="translate(1925.2 685.7) rotate(43.8)" d="M42.2 -22H0A22 22 0 0 0 0 22H42.2Z" fill="url(#sR)"/><path transform="translate(1925.2 685.7) rotate(-125.2)" d="M52.7 -22H105.4A22 22 0 0 1 105.4 22H52.7Z" fill="url(#sW)"/><path transform="translate(1925.2 685.7) rotate(-125.2)" d="M52.7 -22H0A22 22 0 0 0 0 22H52.7Z" fill="url(#sR)"/><rect transform="translate(1925.2 685.7) rotate(-125.2)" x="52.7" y="-22" width="47.4" height="44" fill="url(#fG)"/><path transform="translate(2170.9 632.2) rotate(135)" d="M43 -22H86A22 22 0 0 1 86 22H43Z" fill="url(#sW)"/><path transform="translate(2170.9 632.2) rotate(135)" d="M43 -22H0A22 22 0 0 0 0 22H43Z" fill="url(#sR)"/><path transform="translate(2170.9 632.2) rotate(15.5)" d="M22.7 -22H45.4A22 22 0 0 1 45.4 22H22.7Z" fill="url(#sW)"/><path transform="translate(2170.9 632.2) rotate(15.5)" d="M22.7 -22H0A22 22 0 0 0 0 22H22.7Z" fill="url(#sR)"/><path transform="translate(2146.6 781.5) rotate(-45.7)" d="M29.6 -22H59.2A22 22 0 0 1 59.2 22H29.6Z" fill="url(#sW)"/><path transform="translate(2146.6 781.5) rotate(-45.7)" d="M29.6 -22H0A22 22 0 0 0 0 22H29.6Z" fill="url(#sR)"/><rect transform="translate(2146.6 781.5) rotate(-45.7)" x="29.6" y="-22" width="26.6" height="44" fill="url(#fG)"/><path transform="translate(2146.6 781.5) rotate(-11.3)" d="M24.8 -22H49.6A22 22 0 0 1 49.6 22H24.8Z" fill="url(#sW)"/><path transform="translate(2146.6 781.5) rotate(-11.3)" d="M24.8 -22H0A22 22 0 0 0 0 22H24.8Z" fill="url(#sR)"/><path transform="translate(2039.6 826.8) rotate(118.3)" d="M35.9 -22H71.8A22 22 0 0 1 71.8 22H35.9Z" fill="url(#sW)"/><path transform="translate(2039.6 826.8) rotate(118.3)" d="M35.9 -22H0A22 22 0 0 0 0 22H35.9Z" fill="url(#sR)"/><rect transform="translate(2039.6 826.8) rotate(6.6)" x="-22" y="-22" width="107.7" height="44" rx="22" fill="url(#sR)"/><path transform="translate(2078.5 858.4) rotate(-31.8)" d="M41.5 -22H83A22 22 0 0 1 83 22H41.5Z" fill="url(#sW)"/><path transform="translate(2078.5 858.4) rotate(-31.8)" d="M41.5 -22H0A22 22 0 0 0 0 22H41.5Z" fill="url(#sR)"/><rect transform="translate(2078.5 858.4) rotate(-31.8)" x="41.5" y="-22" width="37.4" height="44" fill="url(#fG)"/><path transform="translate(2078.5 858.4) rotate(121.5)" d="M24.2 -22H48.5A22 22 0 0 1 48.5 22H24.2Z" fill="url(#sW)"/><path transform="translate(2078.5 858.4) rotate(121.5)" d="M24.2 -22H0A22 22 0 0 0 0 22H24.2Z" fill="url(#sR)"/><path transform="translate(2107.7 869.1) rotate(26.6)" d="M0.5 -22H1.1A22 22 0 0 1 1.1 22H0.5Z" fill="url(#sW)"/><path transform="translate(2107.7 869.1) rotate(26.6)" d="M0.5 -22H0A22 22 0 0 0 0 22H0.5Z" fill="url(#sR)"/><path transform="translate(1334.1 938.7) rotate(-59)" d="M42.6 -22H85.1A22 22 0 0 1 85.1 22H42.6Z" fill="url(#sW)"/><path transform="translate(1334.1 938.7) rotate(-59)" d="M42.6 -22H0A22 22 0 0 0 0 22H42.6Z" fill="url(#sR)"/><path transform="translate(1334.1 938.7) rotate(79.3)" d="M23.5 -22H47A22 22 0 0 1 47 22H23.5Z" fill="url(#sW)"/><path transform="translate(1334.1 938.7) rotate(79.3)" d="M23.5 -22H0A22 22 0 0 0 0 22H23.5Z" fill="url(#sR)"/><rect transform="translate(1334.1 938.7) rotate(79.3)" x="23.5" y="-22" width="21.2" height="44" fill="url(#fG)"/><path transform="translate(1460.6 990.7) rotate(-69.9)" d="M35.5 -22H71A22 22 0 0 1 71 22H35.5Z" fill="url(#sW)"/><path transform="translate(1460.6 990.7) rotate(-69.9)" d="M35.5 -22H0A22 22 0 0 0 0 22H35.5Z" fill="url(#sR)"/><rect transform="translate(1460.6 990.7) rotate(-69.9)" x="35.5" y="-22" width="31.9" height="44" fill="url(#fG)"/><path transform="translate(1460.6 990.7) rotate(138.5)" d="M34.1 -22H68.2A22 22 0 0 1 68.2 22H34.1Z" fill="url(#sW)"/><path transform="translate(1460.6 990.7) rotate(138.5)" d="M34.1 -22H0A22 22 0 0 0 0 22H34.1Z" fill="url(#sR)"/><path transform="translate(1358.4 1057.9) rotate(-170.5)" d="M14.8 -22H29.6A22 22 0 0 1 29.6 22H14.8Z" fill="url(#sW)"/><path transform="translate(1358.4 1057.9) rotate(-170.5)" d="M14.8 -22H0A22 22 0 0 0 0 22H14.8Z" fill="url(#sR)"/><rect transform="translate(1358.4 1057.9) rotate(-170.5)" x="14.8" y="-22" width="13.3" height="44" fill="url(#fG)"/><path transform="translate(1358.4 1057.9) rotate(94.6)" d="M45.2 -22H90.3A22 22 0 0 1 90.3 22H45.2Z" fill="url(#sW)"/><path transform="translate(1358.4 1057.9) rotate(94.6)" d="M45.2 -22H0A22 22 0 0 0 0 22H45.2Z" fill="url(#sR)"/><path transform="translate(1587.1 1010.2) rotate(154)" d="M43.3 -22H86.6A22 22 0 0 1 86.6 22H43.3Z" fill="url(#sW)"/><path transform="translate(1587.1 1010.2) rotate(154)" d="M43.3 -22H0A22 22 0 0 0 0 22H43.3Z" fill="url(#sR)"/><path transform="translate(1587.1 1010.2) rotate(27.6)" d="M35.7 -22H71.4A22 22 0 0 1 71.4 22H35.7Z" fill="url(#sW)"/><path transform="translate(1587.1 1010.2) rotate(27.6)" d="M35.7 -22H0A22 22 0 0 0 0 22H35.7Z" fill="url(#sR)"/><path transform="translate(1754.9 1023.8) rotate(-102.1)" d="M34.8 -22H69.7A22 22 0 0 1 69.7 22H34.8Z" fill="url(#sW)"/><path transform="translate(1754.9 1023.8) rotate(-102.1)" d="M34.8 -22H0A22 22 0 0 0 0 22H34.8Z" fill="url(#sR)"/><path transform="translate(1754.9 1023.8) rotate(90)" d="M37.7 -22H75.4A22 22 0 0 1 75.4 22H37.7Z" fill="url(#sW)"/><path transform="translate(1754.9 1023.8) rotate(90)" d="M37.7 -22H0A22 22 0 0 0 0 22H37.7Z" fill="url(#sR)"/><rect transform="translate(1754.9 1023.8) rotate(90)" x="37.7" y="-22" width="33.9" height="44" fill="url(#fG)"/><path transform="translate(1983.6 1006.8) rotate(170.4)" d="M51.1 -22H102.1A22 22 0 0 1 102.1 22H51.1Z" fill="url(#sW)"/><path transform="translate(1983.6 1006.8) rotate(170.4)" d="M51.1 -22H0A22 22 0 0 0 0 22H51.1Z" fill="url(#sR)"/><path transform="translate(1983.6 1006.8) rotate(70)" d="M42.7 -22H85.4A22 22 0 0 1 85.4 22H42.7Z" fill="url(#sW)"/><path transform="translate(1983.6 1006.8) rotate(70)" d="M42.7 -22H0A22 22 0 0 0 0 22H42.7Z" fill="url(#sR)"/><path transform="translate(2186.5 1053) rotate(-125.1)" d="M43.1 -22H86.3A22 22 0 0 1 86.3 22H43.1Z" fill="url(#sW)"/><path transform="translate(2186.5 1053) rotate(-125.1)" d="M43.1 -22H0A22 22 0 0 0 0 22H43.1Z" fill="url(#sR)"/><path transform="translate(2186.5 1053) rotate(121.2)" d="M45.5 -22H91A22 22 0 0 1 91 22H45.5Z" fill="url(#sW)"/><path transform="translate(2186.5 1053) rotate(121.2)" d="M45.5 -22H0A22 22 0 0 0 0 22H45.5Z" fill="url(#sR)"/><circle cx="1570" cy="1036" r="34" fill="url(#bK)"/><circle cx="2129.5" cy="1043" r="34" fill="url(#bK)"/><ellipse cx="1757" cy="1064" rx="22" ry="11" fill="#e2e2e2" stroke="#8a8a8a" stroke-width="2"/><circle cx="1802" cy="913" r="60" fill="url(#bO)"/><rect transform="translate(1836 1150) rotate(-86.9)" x="52.9" y="-19" width="57.3" height="38" fill="url(#sGy)"/><rect transform="translate(1836 1150) rotate(-86.9)" x="0" y="-19" width="52.9" height="38" fill="url(#sC)"/><circle cx="1817" cy="1016.5" r="51" fill="url(#bCb)"/><circle cx="1896" cy="926" r="60.5" fill="url(#bO)"/><circle cx="1852" cy="1018.7" r="61" fill="url(#bC)"/><rect transform="translate(1712 1318.5) rotate(-51.4)" x="0" y="-17" width="192.5" height="34" fill="url(#sC)"/><rect transform="translate(1942 1318.5) rotate(-126.2)" x="0" y="-17" width="186.4" height="34" fill="url(#sC)"/><circle cx="1845" cy="1166.5" r="46" fill="url(#bCu)"/><circle cx="1831" cy="1169" r="54" fill="url(#bCuS)"/><rect transform="translate(1374 1318.5) rotate(0)" x="0" y="-19.5" width="926" height="39" fill="url(#sC)"/><rect transform="translate(1374 1315.5) rotate(-0.3)" x="0" y="-15.5" width="926" height="31" fill="url(#sC)"/><rect transform="translate(1250 1468) rotate(0)" x="0" y="-19.5" width="918" height="39" fill="url(#sC)"/><rect transform="translate(1374 1628) rotate(0)" x="0" y="-19.5" width="926" height="39" fill="url(#sC)"/><rect transform="translate(1250 1790) rotate(0)" x="0" y="-19.5" width="918" height="39" fill="url(#sC)"/><rect transform="translate(1487 1318.5) rotate(127)" x="0" y="-16" width="187.1" height="32" fill="url(#sC)"/><rect transform="translate(1378.5 1470) rotate(-53)" x="37.4" y="-18" width="67.4" height="36" fill="url(#sC)"/><ellipse transform="translate(1378.5 1470) rotate(-53)" cx="104.8" cy="0" rx="5" ry="18" fill="#c25a47"/><rect transform="translate(1487 1318.5) rotate(52.7)" x="0" y="-16" width="188" height="32" fill="url(#sC)"/><rect transform="translate(1484 1321.5) rotate(52.7)" x="37.6" y="-17" width="65.8" height="34" fill="url(#sC)"/><ellipse transform="translate(1484 1321.5) rotate(52.7)" cx="103.4" cy="0" rx="5" ry="17" fill="#9a4536"/><rect transform="translate(1712 1318.5) rotate(126.6)" x="0" y="-16" width="186.2" height="32" fill="url(#sC)"/><rect transform="translate(1605 1470) rotate(-53.4)" x="37.2" y="-18" width="67" height="36" fill="url(#sC)"/><ellipse transform="translate(1605 1470) rotate(-53.4)" cx="104.3" cy="0" rx="5" ry="18" fill="#c25a47"/><rect transform="translate(1712 1318.5) rotate(52.4)" x="0" y="-16" width="188.6" height="32" fill="url(#sC)"/><rect transform="translate(1709 1321.5) rotate(52.4)" x="37.7" y="-17" width="66" height="34" fill="url(#sC)"/><ellipse transform="translate(1709 1321.5) rotate(52.4)" cx="103.7" cy="0" rx="5" ry="17" fill="#9a4536"/><rect transform="translate(1942 1318.5) rotate(127.6)" x="0" y="-16" width="188.6" height="32" fill="url(#sC)"/><rect transform="translate(1831 1470) rotate(-52.4)" x="37.7" y="-18" width="67.9" height="36" fill="url(#sC)"/><ellipse transform="translate(1831 1470) rotate(-52.4)" cx="105.6" cy="0" rx="5" ry="18" fill="#c25a47"/><rect transform="translate(1942 1318.5) rotate(53.7)" x="0" y="-16" width="185.6" height="32" fill="url(#sC)"/><rect transform="translate(1939 1321.5) rotate(53.7)" x="37.1" y="-17" width="65" height="34" fill="url(#sC)"/><ellipse transform="translate(1939 1321.5) rotate(53.7)" cx="102.1" cy="0" rx="5" ry="17" fill="#9a4536"/><rect transform="translate(2168 1318.5) rotate(127.8)" x="0" y="-16" width="189.2" height="32" fill="url(#sC)"/><rect transform="translate(2056 1470) rotate(-52.2)" x="37.8" y="-18" width="68.1" height="36" fill="url(#sC)"/><ellipse transform="translate(2056 1470) rotate(-52.2)" cx="106" cy="0" rx="5" ry="18" fill="#c25a47"/><rect transform="translate(1374.5 1468) rotate(54.9)" x="0" y="-16" width="195.6" height="32" fill="url(#sC)"/><rect transform="translate(1371.5 1471) rotate(54.9)" x="39.1" y="-17" width="68.5" height="34" fill="url(#sC)"/><ellipse transform="translate(1371.5 1471) rotate(54.9)" cx="107.6" cy="0" rx="5" ry="17" fill="#b05240"/><rect transform="translate(1601 1468) rotate(125.5)" x="0" y="-16" width="196.5" height="32" fill="url(#sC)"/><rect transform="translate(1491 1630) rotate(-54.5)" x="39.3" y="-18" width="70.7" height="36" fill="url(#sC)"/><ellipse transform="translate(1491 1630) rotate(-54.5)" cx="110" cy="0" rx="7" ry="18" fill="#5c281e"/><rect transform="translate(1601 1468) rotate(55.2)" x="0" y="-16" width="194.7" height="32" fill="url(#sC)"/><rect transform="translate(1598 1471) rotate(55.2)" x="38.9" y="-17" width="68.2" height="34" fill="url(#sC)"/><ellipse transform="translate(1598 1471) rotate(55.2)" cx="107.1" cy="0" rx="5" ry="17" fill="#b05240"/><rect transform="translate(1827 1468) rotate(125.7)" x="0" y="-16" width="197" height="32" fill="url(#sC)"/><rect transform="translate(1716 1630) rotate(-54.3)" x="39.4" y="-18" width="70.9" height="36" fill="url(#sC)"/><ellipse transform="translate(1716 1630) rotate(-54.3)" cx="110.3" cy="0" rx="7" ry="18" fill="#5c281e"/><rect transform="translate(1827 1468) rotate(54.3)" x="0" y="-16" width="197" height="32" fill="url(#sC)"/><rect transform="translate(1824 1471) rotate(54.3)" x="39.4" y="-17" width="69" height="34" fill="url(#sC)"/><ellipse transform="translate(1824 1471) rotate(54.3)" cx="108.4" cy="0" rx="5" ry="17" fill="#b05240"/><rect transform="translate(2052 1468) rotate(124.5)" x="0" y="-16" width="194.2" height="32" fill="url(#sC)"/><rect transform="translate(1946 1630) rotate(-55.5)" x="38.8" y="-18" width="69.9" height="36" fill="url(#sC)"/><ellipse transform="translate(1946 1630) rotate(-55.5)" cx="108.7" cy="0" rx="7" ry="18" fill="#5c281e"/><rect transform="translate(2052 1468) rotate(54.1)" x="0" y="-16" width="197.6" height="32" fill="url(#sC)"/><rect transform="translate(2049 1471) rotate(54.1)" x="39.5" y="-17" width="69.2" height="34" fill="url(#sC)"/><ellipse transform="translate(2049 1471) rotate(54.1)" cx="108.7" cy="0" rx="5" ry="17" fill="#b05240"/><rect transform="translate(1487 1628) rotate(124.8)" x="0" y="-16" width="197.2" height="32" fill="url(#sC)"/><rect transform="translate(1378.5 1792) rotate(-55.2)" x="39.4" y="-18" width="71" height="36" fill="url(#sC)"/><ellipse transform="translate(1378.5 1792) rotate(-55.2)" cx="110.4" cy="0" rx="5" ry="18" fill="#c25a47"/><rect transform="translate(1487 1628) rotate(54.9)" x="0" y="-16" width="198.1" height="32" fill="url(#sC)"/><rect transform="translate(1484 1631) rotate(54.9)" x="39.6" y="-17" width="69.3" height="34" fill="url(#sC)"/><ellipse transform="translate(1484 1631) rotate(54.9)" cx="108.9" cy="0" rx="5" ry="17" fill="#9a4536"/><rect transform="translate(1712 1628) rotate(124.4)" x="0" y="-16" width="196.4" height="32" fill="url(#sC)"/><rect transform="translate(1605 1792) rotate(-55.6)" x="39.3" y="-18" width="70.7" height="36" fill="url(#sC)"/><ellipse transform="translate(1605 1792) rotate(-55.6)" cx="110" cy="0" rx="5" ry="18" fill="#c25a47"/><rect transform="translate(1712 1628) rotate(54.6)" x="0" y="-16" width="198.7" height="32" fill="url(#sC)"/><rect transform="translate(1709 1631) rotate(54.6)" x="39.7" y="-17" width="69.5" height="34" fill="url(#sC)"/><ellipse transform="translate(1709 1631) rotate(54.6)" cx="109.3" cy="0" rx="5" ry="17" fill="#9a4536"/><rect transform="translate(1942 1628) rotate(125.4)" x="0" y="-16" width="198.7" height="32" fill="url(#sC)"/><rect transform="translate(1831 1792) rotate(-54.6)" x="39.7" y="-18" width="71.5" height="36" fill="url(#sC)"/><ellipse transform="translate(1831 1792) rotate(-54.6)" cx="111.3" cy="0" rx="5" ry="18" fill="#c25a47"/><rect transform="translate(1942 1628) rotate(55.8)" x="0" y="-16" width="195.8" height="32" fill="url(#sC)"/><rect transform="translate(1939 1631) rotate(55.8)" x="39.2" y="-17" width="68.5" height="34" fill="url(#sC)"/><ellipse transform="translate(1939 1631) rotate(55.8)" cx="107.7" cy="0" rx="5" ry="17" fill="#9a4536"/><rect transform="translate(2168 1628) rotate(125.6)" x="0" y="-16" width="199.2" height="32" fill="url(#sC)"/><rect transform="translate(2056 1792) rotate(-54.4)" x="39.8" y="-18" width="71.7" height="36" fill="url(#sC)"/><ellipse transform="translate(2056 1792) rotate(-54.4)" cx="111.6" cy="0" rx="5" ry="18" fill="#c25a47"/><rect transform="translate(1374.5 1468) rotate(-126.7)" x="0" y="-16" width="100" height="32" fill="url(#sC)"/><rect transform="translate(1374.5 1468) rotate(125.9)" x="0" y="-16" width="100" height="32" fill="url(#sC)"/><rect transform="translate(1374.5 1790) rotate(-126.7)" x="0" y="-16" width="100" height="32" fill="url(#sC)"/><rect transform="translate(2168 1318.5) rotate(54.1)" x="0" y="-16" width="100" height="32" fill="url(#sC)"/><rect transform="translate(2168 1628) rotate(54.1)" x="0" y="-16" width="100" height="32" fill="url(#sC)"/><rect transform="translate(2168 1628) rotate(-53.3)" x="0" y="-16" width="100" height="32" fill="url(#sC)"/><circle cx="1487" cy="1318.5" r="49" fill="url(#bCu)"/><circle cx="1712" cy="1318.5" r="49" fill="url(#bCu)"/><circle cx="1942" cy="1318.5" r="49" fill="url(#bCu)"/><circle cx="2168" cy="1318.5" r="49" fill="url(#bCu)"/><circle cx="1374.5" cy="1468" r="49" fill="url(#bCu)"/><circle cx="1601" cy="1468" r="49" fill="url(#bCu)"/><circle cx="1827" cy="1468" r="49" fill="url(#bCu)"/><circle cx="2052" cy="1468" r="49" fill="url(#bCu)"/><circle cx="1487" cy="1628" r="49" fill="url(#bCu)"/><circle cx="1712" cy="1628" r="49" fill="url(#bCu)"/><circle cx="1942" cy="1628" r="49" fill="url(#bCu)"/><circle cx="2168" cy="1628" r="49" fill="url(#bCu)"/><circle cx="1374.5" cy="1790" r="49" fill="url(#bCu)"/><circle cx="1601" cy="1790" r="49" fill="url(#bCu)"/><circle cx="1827" cy="1790" r="49" fill="url(#bCu)"/><circle cx="2052" cy="1790" r="49" fill="url(#bCu)"/><text x="1322" y="1871" font-size="40" style="font-family:'Liberation Sans',sans-serif;fill:#ffff00">B</text></g><g clip-path="url(#cp3)"><path d="M2346 144V1877M3245.5 144V1877M2343 1877H3248.5" fill="none" stroke="#ff8282" stroke-width="5.6" stroke-dasharray="22 22" stroke-dashoffset="38"/><path transform="translate(2429.6 273.5) rotate(-54.5)" d="M41.9 -22H83.7A22 22 0 0 1 83.7 22H41.9Z" fill="url(#sW)"/><path transform="translate(2429.6 273.5) rotate(-54.5)" d="M41.9 -22H0A22 22 0 0 0 0 22H41.9Z" fill="url(#sR)"/><path transform="translate(2429.6 273.5) rotate(163.3)" d="M25.4 -22H50.8A22 22 0 0 1 50.8 22H25.4Z" fill="url(#sW)"/><path transform="translate(2429.6 273.5) rotate(163.3)" d="M25.4 -22H0A22 22 0 0 0 0 22H25.4Z" fill="url(#sR)"/><rect transform="translate(2429.6 273.5) rotate(163.3)" x="25.4" y="-22" width="22.9" height="44" fill="url(#fG)"/><path transform="translate(2553.7 229.7) rotate(-113.2)" d="M37.1 -22H74.1A22 22 0 0 1 74.1 22H37.1Z" fill="url(#sW)"/><path transform="translate(2553.7 229.7) rotate(-113.2)" d="M37.1 -22H0A22 22 0 0 0 0 22H37.1Z" fill="url(#sR)"/><path transform="translate(2553.7 229.7) rotate(3.4)" d="M41.4 -22H82.9A22 22 0 0 1 82.9 22H41.4Z" fill="url(#sW)"/><path transform="translate(2553.7 229.7) rotate(3.4)" d="M41.4 -22H0A22 22 0 0 0 0 22H41.4Z" fill="url(#sR)"/><path transform="translate(2745.9 322.2) rotate(135)" d="M44.7 -22H89.5A22 22 0 0 1 89.5 22H44.7Z" fill="url(#sW)"/><path transform="translate(2745.9 322.2) rotate(135)" d="M44.7 -22H0A22 22 0 0 0 0 22H44.7Z" fill="url(#sR)"/><path transform="translate(2745.9 322.2) rotate(-105.1)" d="M21.4 -22H42.8A22 22 0 0 1 42.8 22H21.4Z" fill="url(#sW)"/><path transform="translate(2745.9 322.2) rotate(-105.1)" d="M21.4 -22H0A22 22 0 0 0 0 22H21.4Z" fill="url(#sR)"/><rect transform="translate(2745.9 322.2) rotate(-105.1)" x="21.4" y="-22" width="19.3" height="44" fill="url(#fG)"/><path transform="translate(2733.7 239.5) rotate(145.8)" d="M35.9 -22H71.8A22 22 0 0 1 71.8 22H35.9Z" fill="url(#sW)"/><path transform="translate(2733.7 239.5) rotate(145.8)" d="M35.9 -22H0A22 22 0 0 0 0 22H35.9Z" fill="url(#sR)"/><rect transform="translate(2733.7 239.5) rotate(145.8)" x="35.9" y="-22" width="32.3" height="44" fill="url(#fG)"/><path transform="translate(2733.7 239.5) rotate(5.1)" d="M35.4 -22H70.8A22 22 0 0 1 70.8 22H35.4Z" fill="url(#sW)"/><path transform="translate(2733.7 239.5) rotate(5.1)" d="M35.4 -22H0A22 22 0 0 0 0 22H35.4Z" fill="url(#sR)"/><path transform="translate(2777.5 283.3) rotate(-21.5)" d="M43.1 -22H86.3A22 22 0 0 1 86.3 22H43.1Z" fill="url(#sW)"/><path transform="translate(2777.5 283.3) rotate(-21.5)" d="M43.1 -22H0A22 22 0 0 0 0 22H43.1Z" fill="url(#sR)"/><rect transform="translate(2777.5 283.3) rotate(-170)" x="-22" y="-22" width="86" height="44" rx="22" fill="url(#sR)"/><path transform="translate(3001.3 232.2) rotate(28.9)" d="M29.2 -22H58.4A22 22 0 0 1 58.4 22H29.2Z" fill="url(#sW)"/><path transform="translate(3001.3 232.2) rotate(28.9)" d="M29.2 -22H0A22 22 0 0 0 0 22H29.2Z" fill="url(#sR)"/><path transform="translate(3001.3 232.2) rotate(79.2)" d="M28.5 -22H57A22 22 0 0 1 57 22H28.5Z" fill="url(#sW)"/><path transform="translate(3001.3 232.2) rotate(79.2)" d="M28.5 -22H0A22 22 0 0 0 0 22H28.5Z" fill="url(#sR)"/><path transform="translate(2967.2 324.6) rotate(-19)" d="M41.2 -22H82.3A22 22 0 0 1 82.3 22H41.2Z" fill="url(#sW)"/><path transform="translate(2967.2 324.6) rotate(-19)" d="M41.2 -22H0A22 22 0 0 0 0 22H41.2Z" fill="url(#sR)"/><path transform="translate(2967.2 324.6) rotate(90)" d="M24.3 -22H48.7A22 22 0 0 1 48.7 22H24.3Z" fill="url(#sW)"/><path transform="translate(2967.2 324.6) rotate(90)" d="M24.3 -22H0A22 22 0 0 0 0 22H24.3Z" fill="url(#sR)"/><rect transform="translate(2967.2 324.6) rotate(90)" x="24.3" y="-22" width="21.9" height="44" fill="url(#fG)"/><path transform="translate(3132.7 329.5) rotate(-36.9)" d="M36.5 -22H73A22 22 0 0 1 73 22H36.5Z" fill="url(#sW)"/><path transform="translate(3132.7 329.5) rotate(-36.9)" d="M36.5 -22H0A22 22 0 0 0 0 22H36.5Z" fill="url(#sR)"/><path transform="translate(3132.7 329.5) rotate(67.6)" d="M44.7 -22H89.5A22 22 0 0 1 89.5 22H44.7Z" fill="url(#sW)"/><path transform="translate(3132.7 329.5) rotate(67.6)" d="M44.7 -22H0A22 22 0 0 0 0 22H44.7Z" fill="url(#sR)"/><path transform="translate(3225.1 339.2) rotate(107.9)" d="M39.6 -22H79.2A22 22 0 0 1 79.2 22H39.6Z" fill="url(#sW)"/><path transform="translate(3225.1 339.2) rotate(107.9)" d="M39.6 -22H0A22 22 0 0 0 0 22H39.6Z" fill="url(#sR)"/><rect transform="translate(3225.1 339.2) rotate(5.2)" x="-22" y="-22" width="97.7" height="44" rx="22" fill="url(#sR)"/><path transform="translate(2553.7 475.4) rotate(69.9)" d="M21.2 -22H42.5A22 22 0 0 1 42.5 22H21.2Z" fill="url(#sW)"/><path transform="translate(2553.7 475.4) rotate(69.9)" d="M21.2 -22H0A22 22 0 0 0 0 22H21.2Z" fill="url(#sR)"/><rect transform="translate(2553.7 475.4) rotate(69.9)" x="21.2" y="-22" width="19.1" height="44" fill="url(#fG)"/><rect transform="translate(2553.7 475.4) rotate(-135)" x="-22" y="-22" width="92.2" height="44" rx="22" fill="url(#sR)"/><path transform="translate(2500.2 427.8) rotate(160.6)" d="M43.9 -22H87.7A22 22 0 0 1 87.7 22H43.9Z" fill="url(#sW)"/><path transform="translate(2500.2 427.8) rotate(160.6)" d="M43.9 -22H0A22 22 0 0 0 0 22H43.9Z" fill="url(#sR)"/><path transform="translate(2500.2 427.8) rotate(-86)" d="M34.6 -22H69.3A22 22 0 0 1 69.3 22H34.6Z" fill="url(#sW)"/><path transform="translate(2500.2 427.8) rotate(-86)" d="M34.6 -22H0A22 22 0 0 0 0 22H34.6Z" fill="url(#sR)"/><path transform="translate(2548.8 373.3) rotate(71.6)" d="M38.5 -22H76.9A22 22 0 0 1 76.9 22H38.5Z" fill="url(#sW)"/><path transform="translate(2548.8 373.3) rotate(71.6)" d="M38.5 -22H0A22 22 0 0 0 0 22H38.5Z" fill="url(#sR)"/><path transform="translate(2548.8 373.3) rotate(135)" d="M7.6 -22H15.1A22 22 0 0 1 15.1 22H7.6Z" fill="url(#sW)"/><path transform="translate(2548.8 373.3) rotate(135)" d="M7.6 -22H0A22 22 0 0 0 0 22H7.6Z" fill="url(#sR)"/><rect transform="translate(2548.8 373.3) rotate(135)" x="7.6" y="-22" width="6.8" height="44" fill="url(#fG)"/><path transform="translate(2831 500.7) rotate(-114)" d="M41.8 -22H83.6A22 22 0 0 1 83.6 22H41.8Z" fill="url(#sW)"/><path transform="translate(2831 500.7) rotate(-114)" d="M41.8 -22H0A22 22 0 0 0 0 22H41.8Z" fill="url(#sR)"/><path transform="translate(2831 500.7) rotate(70.3)" d="M25.3 -22H50.6A22 22 0 0 1 50.6 22H25.3Z" fill="url(#sW)"/><path transform="translate(2831 500.7) rotate(70.3)" d="M25.3 -22H0A22 22 0 0 0 0 22H25.3Z" fill="url(#sR)"/><rect transform="translate(2831 500.7) rotate(70.3)" x="25.3" y="-22" width="22.8" height="44" fill="url(#fG)"/><path transform="translate(3006.2 427.8) rotate(152.6)" d="M37 -22H74A22 22 0 0 1 74 22H37Z" fill="url(#sW)"/><path transform="translate(3006.2 427.8) rotate(152.6)" d="M37 -22H0A22 22 0 0 0 0 22H37Z" fill="url(#sR)"/><rect transform="translate(3006.2 427.8) rotate(152.6)" x="37" y="-22" width="33.3" height="44" fill="url(#fG)"/><path transform="translate(3006.2 427.8) rotate(-119.2)" d="M13.9 -22H27.9A22 22 0 0 1 27.9 22H13.9Z" fill="url(#sW)"/><path transform="translate(3006.2 427.8) rotate(-119.2)" d="M13.9 -22H0A22 22 0 0 0 0 22H13.9Z" fill="url(#sR)"/><path transform="translate(2957.5 417.1) rotate(-155.6)" d="M44.1 -22H88.2A22 22 0 0 1 88.2 22H44.1Z" fill="url(#sW)"/><path transform="translate(2957.5 417.1) rotate(-155.6)" d="M44.1 -22H0A22 22 0 0 0 0 22H44.1Z" fill="url(#sR)"/><path transform="translate(2957.5 417.1) rotate(-39.3)" d="M34.6 -22H69.2A22 22 0 0 1 69.2 22H34.6Z" fill="url(#sW)"/><path transform="translate(2957.5 417.1) rotate(-39.3)" d="M34.6 -22H0A22 22 0 0 0 0 22H34.6Z" fill="url(#sR)"/><path transform="translate(2344.5 543.6) rotate(0)" d="M36.5 -22H73A22 22 0 0 1 73 22H36.5Z" fill="url(#sW)"/><path transform="translate(2344.5 543.6) rotate(0)" d="M36.5 -22H0A22 22 0 0 0 0 22H36.5Z" fill="url(#sR)"/><rect transform="translate(2344.5 543.6) rotate(180)" x="-22" y="-22" width="92.7" height="44" rx="22" fill="url(#sR)"/><path transform="translate(2616.9 592.2) rotate(16.5)" d="M29.9 -22H59.9A22 22 0 0 1 59.9 22H29.9Z" fill="url(#sW)"/><path transform="translate(2616.9 592.2) rotate(16.5)" d="M29.9 -22H0A22 22 0 0 0 0 22H29.9Z" fill="url(#sR)"/><path transform="translate(2616.9 592.2) rotate(155.6)" d="M44.1 -22H88.2A22 22 0 0 1 88.2 22H44.1Z" fill="url(#sW)"/><path transform="translate(2616.9 592.2) rotate(155.6)" d="M44.1 -22H0A22 22 0 0 0 0 22H44.1Z" fill="url(#sR)"/><path transform="translate(2901.6 602.9) rotate(-71.8)" d="M35.1 -22H70.2A22 22 0 0 1 70.2 22H35.1Z" fill="url(#sW)"/><path transform="translate(2901.6 602.9) rotate(-71.8)" d="M35.1 -22H0A22 22 0 0 0 0 22H35.1Z" fill="url(#sR)"/><path transform="translate(2901.6 602.9) rotate(133)" d="M39.2 -22H78.5A22 22 0 0 1 78.5 22H39.2Z" fill="url(#sW)"/><path transform="translate(2901.6 602.9) rotate(133)" d="M39.2 -22H0A22 22 0 0 0 0 22H39.2Z" fill="url(#sR)"/><rect transform="translate(2901.6 602.9) rotate(133)" x="39.2" y="-22" width="35.3" height="44" fill="url(#fG)"/><path transform="translate(3152.1 564) rotate(70.1)" d="M21.5 -22H42.9A22 22 0 0 1 42.9 22H21.5Z" fill="url(#sW)"/><path transform="translate(3152.1 564) rotate(70.1)" d="M21.5 -22H0A22 22 0 0 0 0 22H21.5Z" fill="url(#sR)"/><path transform="translate(3152.1 564) rotate(40.2)" d="M35 -22H70.1A22 22 0 0 1 70.1 22H35Z" fill="url(#sW)"/><path transform="translate(3152.1 564) rotate(40.2)" d="M35 -22H0A22 22 0 0 0 0 22H35Z" fill="url(#sR)"/><path transform="translate(3235.8 543.6) rotate(111.4)" d="M29.3 -22H58.5A22 22 0 0 1 58.5 22H29.3Z" fill="url(#sW)"/><path transform="translate(3235.8 543.6) rotate(111.4)" d="M29.3 -22H0A22 22 0 0 0 0 22H29.3Z" fill="url(#sR)"/><rect transform="translate(3235.8 543.6) rotate(-12.8)" x="-22" y="-22" width="87.9" height="44" rx="22" fill="url(#sR)"/><path transform="translate(3198.4 549.4) rotate(-148.5)" d="M42.8 -22H85.6A22 22 0 0 1 85.6 22H42.8Z" fill="url(#sW)"/><path transform="translate(3198.4 549.4) rotate(-148.5)" d="M42.8 -22H0A22 22 0 0 0 0 22H42.8Z" fill="url(#sR)"/><rect transform="translate(3198.4 549.4) rotate(117.2)" x="-22" y="-22" width="81.2" height="44" rx="22" fill="url(#sR)"/><path transform="translate(3273.8 621.4) rotate(176.2)" d="M3.7 -22H7.3A22 22 0 0 1 7.3 22H3.7Z" fill="url(#sW)"/><path transform="translate(3273.8 621.4) rotate(176.2)" d="M3.7 -22H0A22 22 0 0 0 0 22H3.7Z" fill="url(#sR)"/><path transform="translate(2402.8 654.1) rotate(-135)" d="M25.8 -22H51.6A22 22 0 0 1 51.6 22H25.8Z" fill="url(#sW)"/><path transform="translate(2402.8 654.1) rotate(-135)" d="M25.8 -22H0A22 22 0 0 0 0 22H25.8Z" fill="url(#sR)"/><rect transform="translate(2402.8 654.1) rotate(-135)" x="25.8" y="-22" width="23.2" height="44" fill="url(#fG)"/><path transform="translate(2402.8 654.1) rotate(105.6)" d="M43.4 -22H86.9A22 22 0 0 1 86.9 22H43.4Z" fill="url(#sW)"/><path transform="translate(2402.8 654.1) rotate(105.6)" d="M43.4 -22H0A22 22 0 0 0 0 22H43.4Z" fill="url(#sR)"/><path transform="translate(2575.6 651.6) rotate(-102.9)" d="M43.7 -22H87.3A22 22 0 0 1 87.3 22H43.7Z" fill="url(#sW)"/><path transform="translate(2575.6 651.6) rotate(-102.9)" d="M43.7 -22H0A22 22 0 0 0 0 22H43.7Z" fill="url(#sR)"/><path transform="translate(2575.6 651.6) rotate(8.7)" d="M32 -22H64A22 22 0 0 1 64 22H32Z" fill="url(#sW)"/><path transform="translate(2575.6 651.6) rotate(8.7)" d="M32 -22H0A22 22 0 0 0 0 22H32Z" fill="url(#sR)"/><rect transform="translate(2575.6 651.6) rotate(8.7)" x="32" y="-22" width="28.8" height="44" fill="url(#fG)"/><path transform="translate(2753.2 718.3) rotate(-135.9)" d="M32.2 -22H64.3A22 22 0 0 1 64.3 22H32.2Z" fill="url(#sW)"/><path transform="translate(2753.2 718.3) rotate(-135.9)" d="M32.2 -22H0A22 22 0 0 0 0 22H32.2Z" fill="url(#sR)"/><path transform="translate(2753.2 718.3) rotate(99.7)" d="M43.4 -22H86.9A22 22 0 0 1 86.9 22H43.4Z" fill="url(#sW)"/><path transform="translate(2753.2 718.3) rotate(99.7)" d="M43.4 -22H0A22 22 0 0 0 0 22H43.4Z" fill="url(#sR)"/><path transform="translate(2753.2 646.8) rotate(-58.7)" d="M32.8 -22H65.5A22 22 0 0 1 65.5 22H32.8Z" fill="url(#sW)"/><path transform="translate(2753.2 646.8) rotate(-58.7)" d="M32.8 -22H0A22 22 0 0 0 0 22H32.8Z" fill="url(#sR)"/><path transform="translate(2753.2 646.8) rotate(52.9)" d="M43.6 -22H87.2A22 22 0 0 1 87.2 22H43.6Z" fill="url(#sW)"/><path transform="translate(2753.2 646.8) rotate(52.9)" d="M43.6 -22H0A22 22 0 0 0 0 22H43.6Z" fill="url(#sR)"/><path transform="translate(2984.3 740.7) rotate(-166.7)" d="M35 -22H70A22 22 0 0 1 70 22H35Z" fill="url(#sW)"/><path transform="translate(2984.3 740.7) rotate(-166.7)" d="M35 -22H0A22 22 0 0 0 0 22H35Z" fill="url(#sR)"/><path transform="translate(2984.3 740.7) rotate(-46)" d="M30.5 -22H60.9A22 22 0 0 1 60.9 22H30.5Z" fill="url(#sW)"/><path transform="translate(2984.3 740.7) rotate(-46)" d="M30.5 -22H0A22 22 0 0 0 0 22H30.5Z" fill="url(#sR)"/><path transform="translate(3099.6 689.1) rotate(-160.6)" d="M41.8 -22H83.6A22 22 0 0 1 83.6 22H41.8Z" fill="url(#sW)"/><path transform="translate(3099.6 689.1) rotate(-160.6)" d="M41.8 -22H0A22 22 0 0 0 0 22H41.8Z" fill="url(#sR)"/><path transform="translate(3099.6 689.1) rotate(69)" d="M38 -22H76.1A22 22 0 0 1 76.1 22H38Z" fill="url(#sW)"/><path transform="translate(3099.6 689.1) rotate(69)" d="M38 -22H0A22 22 0 0 0 0 22H38Z" fill="url(#sR)"/><rect transform="translate(3099.6 689.1) rotate(69)" x="38" y="-22" width="34.2" height="44" fill="url(#fG)"/><path transform="translate(2607.2 755.3) rotate(-96.5)" d="M21.5 -22H43.1A22 22 0 0 1 43.1 22H21.5Z" fill="url(#sW)"/><path transform="translate(2607.2 755.3) rotate(-96.5)" d="M21.5 -22H0A22 22 0 0 0 0 22H21.5Z" fill="url(#sR)"/><rect transform="translate(2607.2 755.3) rotate(-96.5)" x="21.5" y="-22" width="19.4" height="44" fill="url(#fG)"/><path transform="translate(2607.2 755.3) rotate(-18.3)" d="M33.3 -22H66.6A22 22 0 0 1 66.6 22H33.3Z" fill="url(#sW)"/><path transform="translate(2607.2 755.3) rotate(-18.3)" d="M33.3 -22H0A22 22 0 0 0 0 22H33.3Z" fill="url(#sR)"/><path transform="translate(2480.7 814.6) rotate(-63.4)" d="M27.2 -22H54.4A22 22 0 0 1 54.4 22H27.2Z" fill="url(#sW)"/><path transform="translate(2480.7 814.6) rotate(-63.4)" d="M27.2 -22H0A22 22 0 0 0 0 22H27.2Z" fill="url(#sR)"/><rect transform="translate(2480.7 814.6) rotate(-63.4)" x="27.2" y="-22" width="24.5" height="44" fill="url(#fG)"/><path transform="translate(2480.7 814.6) rotate(42.1)" d="M34.4 -22H68.9A22 22 0 0 1 68.9 22H34.4Z" fill="url(#sW)"/><path transform="translate(2480.7 814.6) rotate(42.1)" d="M34.4 -22H0A22 22 0 0 0 0 22H34.4Z" fill="url(#sR)"/><path transform="translate(2410.1 812.2) rotate(-48.5)" d="M42.2 -22H84.4A22 22 0 0 1 84.4 22H42.2Z" fill="url(#sW)"/><path transform="translate(2410.1 812.2) rotate(-48.5)" d="M42.2 -22H0A22 22 0 0 0 0 22H42.2Z" fill="url(#sR)"/><path transform="translate(2410.1 812.2) rotate(141.3)" d="M15.6 -22H31.2A22 22 0 0 1 31.2 22H15.6Z" fill="url(#sW)"/><path transform="translate(2410.1 812.2) rotate(141.3)" d="M15.6 -22H0A22 22 0 0 0 0 22H15.6Z" fill="url(#sR)"/><rect transform="translate(2410.1 812.2) rotate(141.3)" x="15.6" y="-22" width="14" height="44" fill="url(#fG)"/><path transform="translate(2894.3 834.1) rotate(-43.2)" d="M26.7 -22H53.4A22 22 0 0 1 53.4 22H26.7Z" fill="url(#sW)"/><path transform="translate(2894.3 834.1) rotate(-43.2)" d="M26.7 -22H0A22 22 0 0 0 0 22H26.7Z" fill="url(#sR)"/><rect transform="translate(2894.3 834.1) rotate(-43.2)" x="26.7" y="-22" width="24" height="44" fill="url(#fG)"/><path transform="translate(2894.3 834.1) rotate(9.3)" d="M30.1 -22H60.2A22 22 0 0 1 60.2 22H30.1Z" fill="url(#sW)"/><path transform="translate(2894.3 834.1) rotate(9.3)" d="M30.1 -22H0A22 22 0 0 0 0 22H30.1Z" fill="url(#sR)"/><path transform="translate(3071.8 839.9) rotate(-102.1)" d="M29.1 -22H58.2A22 22 0 0 1 58.2 22H29.1Z" fill="url(#sW)"/><path transform="translate(3071.8 839.9) rotate(-102.1)" d="M29.1 -22H0A22 22 0 0 0 0 22H29.1Z" fill="url(#sR)"/><path transform="translate(3071.8 839.9) rotate(-7.2)" d="M42.9 -22H85.8A22 22 0 0 1 85.8 22H42.9Z" fill="url(#sW)"/><path transform="translate(3071.8 839.9) rotate(-7.2)" d="M42.9 -22H0A22 22 0 0 0 0 22H42.9Z" fill="url(#sR)"/><rect transform="translate(3071.8 839.9) rotate(-7.2)" x="42.9" y="-22" width="38.6" height="44" fill="url(#fG)"/><path transform="translate(3195.9 869.1) rotate(96.6)" d="M31.8 -22H63.7A22 22 0 0 1 63.7 22H31.8Z" fill="url(#sW)"/><path transform="translate(3195.9 869.1) rotate(96.6)" d="M31.8 -22H0A22 22 0 0 0 0 22H31.8Z" fill="url(#sR)"/><path transform="translate(3195.9 869.1) rotate(-17.4)" d="M38.2 -22H76.5A22 22 0 0 1 76.5 22H38.2Z" fill="url(#sW)"/><path transform="translate(3195.9 869.1) rotate(-17.4)" d="M38.2 -22H0A22 22 0 0 0 0 22H38.2Z" fill="url(#sR)"/><path transform="translate(3172.6 917.8) rotate(45)" d="M0.3 -22H0.7A22 22 0 0 1 0.7 22H0.3Z" fill="url(#sW)"/><path transform="translate(3172.6 917.8) rotate(45)" d="M0.3 -22H0A22 22 0 0 0 0 22H0.3Z" fill="url(#sR)"/><path transform="translate(2548.8 985.9) rotate(-71.8)" d="M38.9 -22H77.9A22 22 0 0 1 77.9 22H38.9Z" fill="url(#sW)"/><path transform="translate(2548.8 985.9) rotate(-71.8)" d="M38.9 -22H0A22 22 0 0 0 0 22H38.9Z" fill="url(#sR)"/><path transform="translate(2548.8 985.9) rotate(49.2)" d="M42.8 -22H85.5A22 22 0 0 1 85.5 22H42.8Z" fill="url(#sW)"/><path transform="translate(2548.8 985.9) rotate(49.2)" d="M42.8 -22H0A22 22 0 0 0 0 22H42.8Z" fill="url(#sR)"/><path transform="translate(2665.6 941.1) rotate(70.2)" d="M32.3 -22H64.6A22 22 0 0 1 64.6 22H32.3Z" fill="url(#sW)"/><path transform="translate(2665.6 941.1) rotate(70.2)" d="M32.3 -22H0A22 22 0 0 0 0 22H32.3Z" fill="url(#sR)"/><rect transform="translate(2665.6 941.1) rotate(70.2)" x="32.3" y="-22" width="29.1" height="44" fill="url(#fG)"/><path transform="translate(2665.6 941.1) rotate(24.5)" d="M24.6 -22H49.2A22 22 0 0 1 49.2 22H24.6Z" fill="url(#sW)"/><path transform="translate(2665.6 941.1) rotate(24.5)" d="M24.6 -22H0A22 22 0 0 0 0 22H24.6Z" fill="url(#sR)"/><path transform="translate(2733.7 1009.2) rotate(-48.4)" d="M43.9 -22H87.9A22 22 0 0 1 87.9 22H43.9Z" fill="url(#sW)"/><path transform="translate(2733.7 1009.2) rotate(-48.4)" d="M43.9 -22H0A22 22 0 0 0 0 22H43.9Z" fill="url(#sR)"/><path transform="translate(2733.7 1009.2) rotate(75.5)" d="M38.9 -22H77.9A22 22 0 0 1 77.9 22H38.9Z" fill="url(#sW)"/><path transform="translate(2733.7 1009.2) rotate(75.5)" d="M38.9 -22H0A22 22 0 0 0 0 22H38.9Z" fill="url(#sR)"/><path transform="translate(3088.9 1026.3) rotate(-124.7)" d="M38.5 -22H76.9A22 22 0 0 1 76.9 22H38.5Z" fill="url(#sW)"/><path transform="translate(3088.9 1026.3) rotate(-124.7)" d="M38.5 -22H0A22 22 0 0 0 0 22H38.5Z" fill="url(#sR)"/><path transform="translate(3088.9 1026.3) rotate(123.7)" d="M39.5 -22H78.9A22 22 0 0 1 78.9 22H39.5Z" fill="url(#sW)"/><path transform="translate(3088.9 1026.3) rotate(123.7)" d="M39.5 -22H0A22 22 0 0 0 0 22H39.5Z" fill="url(#sR)"/><path transform="translate(3191.1 1079.8) rotate(104.5)" d="M38.9 -22H77.9A22 22 0 0 1 77.9 22H38.9Z" fill="url(#sW)"/><path transform="translate(3191.1 1079.8) rotate(104.5)" d="M38.9 -22H0A22 22 0 0 0 0 22H38.9Z" fill="url(#sR)"/><path transform="translate(3191.1 1079.8) rotate(16.3)" d="M30.4 -22H60.8A22 22 0 0 1 60.8 22H30.4Z" fill="url(#sW)"/><path transform="translate(3191.1 1079.8) rotate(16.3)" d="M30.4 -22H0A22 22 0 0 0 0 22H30.4Z" fill="url(#sR)"/><path transform="translate(3167.7 1022.9) rotate(-134.7)" d="M35.3 -22H70.5A22 22 0 0 1 70.5 22H35.3Z" fill="url(#sW)"/><path transform="translate(3167.7 1022.9) rotate(-134.7)" d="M35.3 -22H0A22 22 0 0 0 0 22H35.3Z" fill="url(#sR)"/><path transform="translate(3167.7 1022.9) rotate(117.6)" d="M43.1 -22H86.2A22 22 0 0 1 86.2 22H43.1Z" fill="url(#sW)"/><path transform="translate(3167.7 1022.9) rotate(117.6)" d="M43.1 -22H0A22 22 0 0 0 0 22H43.1Z" fill="url(#sR)"/><path transform="translate(2379.5 1107.5) rotate(-34.6)" d="M34.3 -22H68.6A22 22 0 0 1 68.6 22H34.3Z" fill="url(#sW)"/><path transform="translate(2379.5 1107.5) rotate(-34.6)" d="M34.3 -22H0A22 22 0 0 0 0 22H34.3Z" fill="url(#sR)"/><rect transform="translate(2379.5 1107.5) rotate(-34.6)" x="34.3" y="-22" width="30.9" height="44" fill="url(#fG)"/><rect transform="translate(2379.5 1107.5) rotate(-173.6)" x="-22" y="-22" width="118.4" height="44" rx="22" fill="url(#sR)"/><rect transform="translate(2402 1318.5) rotate(-89.4)" x="86.7" y="-17" width="119.8" height="34" fill="url(#sR)"/><rect transform="translate(2402 1318.5) rotate(-89.4)" x="0" y="-17" width="86.7" height="34" fill="url(#sC)"/><circle cx="2488" cy="1077" r="29" fill="url(#bK)"/><circle cx="2505" cy="1033.5" r="34" fill="url(#bK)"/><circle cx="2886" cy="936" r="55" fill="url(#bOb)"/><circle cx="2848" cy="929" r="63" fill="url(#bO)"/><rect transform="translate(2744 1170) rotate(-51.2)" x="84.6" y="-17" width="84.6" height="34" fill="url(#sGy)"/><rect transform="translate(2744 1170) rotate(-51.2)" x="0" y="-17" width="84.6" height="34" fill="url(#sC)"/><rect transform="translate(2961 1168) rotate(-130.5)" x="85.5" y="-17" width="85.5" height="34" fill="url(#sGy)"/><rect transform="translate(2961 1168) rotate(-130.5)" x="0" y="-17" width="85.5" height="34" fill="url(#sC)"/><circle cx="2872" cy="1043" r="50" fill="url(#bCb)"/><circle cx="2849" cy="1038" r="61" fill="url(#bC)"/><rect transform="translate(2744 1170) rotate(-0.5)" x="0" y="-19" width="217" height="38" fill="url(#sC)"/><rect transform="translate(2744 1170) rotate(128.5)" x="0" y="-17" width="189.7" height="34" fill="url(#sC)"/><rect transform="translate(2744 1170) rotate(54.2)" x="0" y="-17" width="183" height="34" fill="url(#sC)"/><rect transform="translate(2961 1168) rotate(126.2)" x="0" y="-17" width="186.4" height="34" fill="url(#sC)"/><rect transform="translate(2961 1168) rotate(52.6)" x="0" y="-17" width="189.4" height="34" fill="url(#sC)"/><circle cx="2975" cy="1168" r="46" fill="url(#bCu)"/><circle cx="2744" cy="1170" r="52" fill="url(#bCuS)"/><circle cx="2961" cy="1168" r="52" fill="url(#bCuS)"/><rect transform="translate(2300 1318.5) rotate(0)" x="0" y="-19.5" width="1000" height="39" fill="url(#sC)"/><rect transform="translate(2300 1315.5) rotate(-0.3)" x="0" y="-15.5" width="1000" height="31" fill="url(#sC)"/><rect transform="translate(2402 1468) rotate(0)" x="0" y="-19.5" width="898" height="39" fill="url(#sC)"/><rect transform="translate(2300 1628) rotate(0)" x="0" y="-19.5" width="1000" height="39" fill="url(#sC)"/><rect transform="translate(2402 1790) rotate(0)" x="0" y="-19.5" width="898" height="39" fill="url(#sC)"/><rect transform="translate(2402 1318.5) rotate(53.2)" x="0" y="-16" width="186.8" height="32" fill="url(#sC)"/><rect transform="translate(2399 1321.5) rotate(53.2)" x="37.4" y="-17" width="65.4" height="34" fill="url(#sC)"/><ellipse transform="translate(2399 1321.5) rotate(53.2)" cx="102.7" cy="0" rx="5" ry="17" fill="#9a4536"/><rect transform="translate(2626 1318.5) rotate(126.8)" x="0" y="-16" width="186.8" height="32" fill="url(#sC)"/><rect transform="translate(2518 1470) rotate(-53.2)" x="37.4" y="-18" width="67.2" height="36" fill="url(#sC)"/><ellipse transform="translate(2518 1470) rotate(-53.2)" cx="104.6" cy="0" rx="5" ry="18" fill="#c25a47"/><rect transform="translate(2626 1318.5) rotate(52.9)" x="0" y="-16" width="187.4" height="32" fill="url(#sC)"/><rect transform="translate(2623 1321.5) rotate(52.9)" x="37.5" y="-17" width="65.6" height="34" fill="url(#sC)"/><ellipse transform="translate(2623 1321.5) rotate(52.9)" cx="103.1" cy="0" rx="5" ry="17" fill="#9a4536"/><rect transform="translate(2851 1318.5) rotate(126.8)" x="0" y="-16" width="186.8" height="32" fill="url(#sC)"/><rect transform="translate(2743 1470) rotate(-53.2)" x="37.4" y="-18" width="67.2" height="36" fill="url(#sC)"/><ellipse transform="translate(2743 1470) rotate(-53.2)" cx="104.6" cy="0" rx="5" ry="18" fill="#c25a47"/><rect transform="translate(2851 1318.5) rotate(52.9)" x="0" y="-16" width="187.4" height="32" fill="url(#sC)"/><rect transform="translate(2848 1321.5) rotate(52.9)" x="37.5" y="-17" width="65.6" height="34" fill="url(#sC)"/><ellipse transform="translate(2848 1321.5) rotate(52.9)" cx="103.1" cy="0" rx="5" ry="17" fill="#9a4536"/><rect transform="translate(3076 1318.5) rotate(126.8)" x="0" y="-16" width="186.8" height="32" fill="url(#sC)"/><rect transform="translate(2968 1470) rotate(-53.2)" x="37.4" y="-18" width="67.2" height="36" fill="url(#sC)"/><ellipse transform="translate(2968 1470) rotate(-53.2)" cx="104.6" cy="0" rx="5" ry="18" fill="#c25a47"/><rect transform="translate(3076 1318.5) rotate(52.9)" x="0" y="-16" width="187.4" height="32" fill="url(#sC)"/><rect transform="translate(3073 1321.5) rotate(52.9)" x="37.5" y="-17" width="65.6" height="34" fill="url(#sC)"/><ellipse transform="translate(3073 1321.5) rotate(52.9)" cx="103.1" cy="0" rx="5" ry="17" fill="#9a4536"/><rect transform="translate(3302 1318.5) rotate(127.1)" x="0" y="-16" width="187.4" height="32" fill="url(#sC)"/><rect transform="translate(3193 1470) rotate(-52.9)" x="37.5" y="-18" width="67.5" height="36" fill="url(#sC)"/><ellipse transform="translate(3193 1470) rotate(-52.9)" cx="104.9" cy="0" rx="5" ry="18" fill="#c25a47"/><rect transform="translate(2514 1468) rotate(125)" x="0" y="-16" width="195.3" height="32" fill="url(#sC)"/><rect transform="translate(2406 1630) rotate(-55)" x="39.1" y="-18" width="70.3" height="36" fill="url(#sC)"/><ellipse transform="translate(2406 1630) rotate(-55)" cx="109.4" cy="0" rx="7" ry="18" fill="#5c281e"/><rect transform="translate(2514 1468) rotate(55)" x="0" y="-16" width="195.3" height="32" fill="url(#sC)"/><rect transform="translate(2511 1471) rotate(55)" x="39.1" y="-17" width="68.4" height="34" fill="url(#sC)"/><ellipse transform="translate(2511 1471) rotate(55)" cx="107.4" cy="0" rx="5" ry="17" fill="#b05240"/><rect transform="translate(2739 1468) rotate(125.2)" x="0" y="-16" width="195.9" height="32" fill="url(#sC)"/><rect transform="translate(2630 1630) rotate(-54.8)" x="39.2" y="-18" width="70.5" height="36" fill="url(#sC)"/><ellipse transform="translate(2630 1630) rotate(-54.8)" cx="109.7" cy="0" rx="7" ry="18" fill="#5c281e"/><rect transform="translate(2739 1468) rotate(55)" x="0" y="-16" width="195.3" height="32" fill="url(#sC)"/><rect transform="translate(2736 1471) rotate(55)" x="39.1" y="-17" width="68.4" height="34" fill="url(#sC)"/><ellipse transform="translate(2736 1471) rotate(55)" cx="107.4" cy="0" rx="5" ry="17" fill="#b05240"/><rect transform="translate(2964 1468) rotate(125.2)" x="0" y="-16" width="195.9" height="32" fill="url(#sC)"/><rect transform="translate(2855 1630) rotate(-54.8)" x="39.2" y="-18" width="70.5" height="36" fill="url(#sC)"/><ellipse transform="translate(2855 1630) rotate(-54.8)" cx="109.7" cy="0" rx="7" ry="18" fill="#5c281e"/><rect transform="translate(2964 1468) rotate(55)" x="0" y="-16" width="195.3" height="32" fill="url(#sC)"/><rect transform="translate(2961 1471) rotate(55)" x="39.1" y="-17" width="68.4" height="34" fill="url(#sC)"/><ellipse transform="translate(2961 1471) rotate(55)" cx="107.4" cy="0" rx="5" ry="17" fill="#b05240"/><rect transform="translate(3189 1468) rotate(125.2)" x="0" y="-16" width="195.9" height="32" fill="url(#sC)"/><rect transform="translate(3080 1630) rotate(-54.8)" x="39.2" y="-18" width="70.5" height="36" fill="url(#sC)"/><ellipse transform="translate(3080 1630) rotate(-54.8)" cx="109.7" cy="0" rx="7" ry="18" fill="#5c281e"/><rect transform="translate(3189 1468) rotate(54.8)" x="0" y="-16" width="195.9" height="32" fill="url(#sC)"/><rect transform="translate(3186 1471) rotate(54.8)" x="39.2" y="-17" width="68.6" height="34" fill="url(#sC)"/><ellipse transform="translate(3186 1471) rotate(54.8)" cx="107.7" cy="0" rx="5" ry="17" fill="#b05240"/><rect transform="translate(2402 1628) rotate(55.3)" x="0" y="-16" width="196.9" height="32" fill="url(#sC)"/><rect transform="translate(2399 1631) rotate(55.3)" x="39.4" y="-17" width="68.9" height="34" fill="url(#sC)"/><ellipse transform="translate(2399 1631) rotate(55.3)" cx="108.3" cy="0" rx="5" ry="17" fill="#9a4536"/><rect transform="translate(2626 1628) rotate(124.7)" x="0" y="-16" width="196.9" height="32" fill="url(#sC)"/><rect transform="translate(2518 1792) rotate(-55.3)" x="39.4" y="-18" width="70.9" height="36" fill="url(#sC)"/><ellipse transform="translate(2518 1792) rotate(-55.3)" cx="110.3" cy="0" rx="5" ry="18" fill="#c25a47"/><rect transform="translate(2626 1628) rotate(55.1)" x="0" y="-16" width="197.5" height="32" fill="url(#sC)"/><rect transform="translate(2623 1631) rotate(55.1)" x="39.5" y="-17" width="69.1" height="34" fill="url(#sC)"/><ellipse transform="translate(2623 1631) rotate(55.1)" cx="108.6" cy="0" rx="5" ry="17" fill="#9a4536"/><rect transform="translate(2851 1628) rotate(124.7)" x="0" y="-16" width="196.9" height="32" fill="url(#sC)"/><rect transform="translate(2743 1792) rotate(-55.3)" x="39.4" y="-18" width="70.9" height="36" fill="url(#sC)"/><ellipse transform="translate(2743 1792) rotate(-55.3)" cx="110.3" cy="0" rx="5" ry="18" fill="#c25a47"/><rect transform="translate(2851 1628) rotate(55.1)" x="0" y="-16" width="197.5" height="32" fill="url(#sC)"/><rect transform="translate(2848 1631) rotate(55.1)" x="39.5" y="-17" width="69.1" height="34" fill="url(#sC)"/><ellipse transform="translate(2848 1631) rotate(55.1)" cx="108.6" cy="0" rx="5" ry="17" fill="#9a4536"/><rect transform="translate(3076 1628) rotate(124.7)" x="0" y="-16" width="196.9" height="32" fill="url(#sC)"/><rect transform="translate(2968 1792) rotate(-55.3)" x="39.4" y="-18" width="70.9" height="36" fill="url(#sC)"/><ellipse transform="translate(2968 1792) rotate(-55.3)" cx="110.3" cy="0" rx="5" ry="18" fill="#c25a47"/><rect transform="translate(3076 1628) rotate(55.1)" x="0" y="-16" width="197.5" height="32" fill="url(#sC)"/><rect transform="translate(3073 1631) rotate(55.1)" x="39.5" y="-17" width="69.1" height="34" fill="url(#sC)"/><ellipse transform="translate(3073 1631) rotate(55.1)" cx="108.6" cy="0" rx="5" ry="17" fill="#9a4536"/><rect transform="translate(3302 1628) rotate(124.9)" x="0" y="-16" width="197.5" height="32" fill="url(#sC)"/><rect transform="translate(3193 1792) rotate(-55.1)" x="39.5" y="-18" width="71.1" height="36" fill="url(#sC)"/><ellipse transform="translate(3193 1792) rotate(-55.1)" cx="110.6" cy="0" rx="5" ry="18" fill="#c25a47"/><rect transform="translate(2402 1318.5) rotate(-126.7)" x="0" y="-16" width="100" height="32" fill="url(#sC)"/><rect transform="translate(2402 1318.5) rotate(125.9)" x="0" y="-16" width="100" height="32" fill="url(#sC)"/><rect transform="translate(2402 1628) rotate(-126.7)" x="0" y="-16" width="100" height="32" fill="url(#sC)"/><rect transform="translate(2402 1628) rotate(125.9)" x="0" y="-16" width="100" height="32" fill="url(#sC)"/><circle cx="2402" cy="1318.5" r="49" fill="url(#bCu)"/><circle cx="2626" cy="1318.5" r="49" fill="url(#bCu)"/><circle cx="2851" cy="1318.5" r="49" fill="url(#bCu)"/><circle cx="3076" cy="1318.5" r="49" fill="url(#bCu)"/><circle cx="3302" cy="1318.5" r="49" fill="url(#bCu)"/><circle cx="2514" cy="1468" r="49" fill="url(#bCu)"/><circle cx="2739" cy="1468" r="49" fill="url(#bCu)"/><circle cx="2964" cy="1468" r="49" fill="url(#bCu)"/><circle cx="3189" cy="1468" r="49" fill="url(#bCu)"/><circle cx="2402" cy="1628" r="49" fill="url(#bCu)"/><circle cx="2626" cy="1628" r="49" fill="url(#bCu)"/><circle cx="2851" cy="1628" r="49" fill="url(#bCu)"/><circle cx="3076" cy="1628" r="49" fill="url(#bCu)"/><circle cx="3302" cy="1628" r="49" fill="url(#bCu)"/><circle cx="2514" cy="1790" r="49" fill="url(#bCu)"/><circle cx="2739" cy="1790" r="49" fill="url(#bCu)"/><circle cx="2964" cy="1790" r="49" fill="url(#bCu)"/><circle cx="3189" cy="1790" r="49" fill="url(#bCu)"/><text x="3240" y="1862" font-size="40" style="font-family:'Liberation Sans',sans-serif;fill:#ffff00">H</text></g><text x="35" y="207" font-size="89" text-anchor="start">(a)</text><text x="773" y="115" font-size="88" text-anchor="middle" class="b">IS</text><text x="1768" y="115" font-size="88" text-anchor="middle" class="b">IS</text><text x="2793" y="115" font-size="88" text-anchor="middle" class="b">IS</text><text x="35" y="2017" font-size="89" text-anchor="start">(b)</text><text x="748" y="2022" font-size="76" text-anchor="middle" class="b">Cu(100)-2K</text><text x="1761.5" y="2021.5" font-size="76" text-anchor="middle" class="b">2AD@Cu(100)-2K</text><text x="2807" y="2015" font-size="76" text-anchor="middle" class="b">4AD@Cu(100)-2K</text><text x="1762" y="3217" font-size="85" text-anchor="middle" class="b">C-C Distance (Å)</text><text transform="translate(108.5 2537.5) rotate(-90)" font-size="76.5" text-anchor="middle" class="b">Free Energy (eV)</text><path d="M416.1 3002.1C420.7 3000.2 434.1 2994.3 443.7 2990.7C453.2 2987 463.5 2983.6 473.4 2980.1C483.3 2976.5 493.9 2974 503.1 2969.4C512.3 2964.8 520.8 2958.5 528.6 2952.5C536.3 2946.4 542.7 2939.4 549.8 2933.4C556.9 2927.3 563.9 2923.1 571 2916.4C578.1 2909.7 585.1 2901.2 592.2 2893C599.3 2884.9 606.4 2876.8 613.4 2867.6C620.5 2858.4 627.6 2848.8 634.7 2837.9C641.7 2826.9 648.8 2814.2 655.9 2801.8C663 2789.4 670 2777 677.1 2763.6C684.2 2750.1 691.3 2736 698.3 2721.1C705.4 2706.3 712.5 2690.7 719.6 2674.4C726.6 2658.2 733.7 2640.5 740.8 2623.5C747.9 2606.5 754.9 2589.6 762 2572.6C769.1 2555.6 776.2 2537.9 783.2 2521.6C790.3 2505.4 797.4 2489.8 804.4 2475C811.5 2460.1 818.6 2446 825.7 2432.5C832.7 2419.1 839.8 2406 846.9 2394.3C854 2382.6 861 2372 868.1 2362.5C875.2 2352.9 882.3 2344.8 889.3 2337C896.4 2329.2 903.5 2321.7 910.6 2315.8C917.6 2309.9 924.7 2305.3 931.8 2301.8C938.9 2298.2 947.3 2295.9 953 2294.6C958.7 2293.2 961.5 2293 965.7 2293.7C970 2294.4 973.5 2295.1 978.5 2298.8C983.4 2302.5 989.1 2307.7 995.4 2315.8C1001.8 2323.9 1009.6 2335.2 1016.7 2347.6C1023.7 2360 1031.9 2379.5 1037.9 2390.1C1043.9 2400.7 1047.8 2402.8 1052.8 2411.3C1057.7 2419.8 1062.3 2430.4 1067.6 2441C1072.9 2451.6 1078.9 2463.6 1084.6 2475C1090.2 2486.3 1096.6 2500.6 1101.6 2508.9C1106.5 2517.3 1109.7 2521.5 1114.3 2525C1118.9 2528.6 1126.7 2529.3 1129.2 2530.1" fill="none" stroke="#000" stroke-width="7.5" stroke-linejoin="round" stroke-linecap="round"/><path d="M959.5 2121V2468.6M947 2121H972M947 2468.6H972" fill="none" stroke="#000" stroke-width="2.6"/><clipPath id="ci0"><rect x="376" y="2246" width="354" height="310.5"/></clipPath><rect x="376" y="2246" width="354" height="310.5" fill="#fff"/><g clip-path="url(#ci0)"><g transform="translate(366 2236) scale(0.19358)"><path transform="translate(105 60) rotate(34.7)" d="M79.1 -20H158.1A20 20 0 0 1 158.1 20H79.1Z" fill="url(#tG)"/><path transform="translate(105 60) rotate(34.7)" d="M79.1 -20H0A20 20 0 0 0 0 20H79.1Z" fill="url(#tR)"/><rect transform="translate(55 165) rotate(-38.2)" x="-17" y="-17" width="123" height="34" rx="17" fill="url(#tW)"/><rect transform="translate(312 130) rotate(-118.9)" x="-20" y="-20" width="137.1" height="40" rx="20" fill="url(#tR)"/><path transform="translate(312 130) rotate(-15.5)" d="M89.8 -20H179.5A20 20 0 0 1 179.5 20H89.8Z" fill="url(#tG)"/><path transform="translate(312 130) rotate(-15.5)" d="M89.8 -20H0A20 20 0 0 0 0 20H89.8Z" fill="url(#tR)"/><rect transform="translate(572 66) rotate(9.5)" x="-17" y="-17" width="40.1" height="34" rx="17" fill="url(#tW)"/><rect transform="translate(770 55) rotate(49)" x="-17" y="-17" width="64.5" height="34" rx="17" fill="url(#tW)"/><path transform="translate(1445 200) rotate(-76.5)" d="M64.3 -20H128.5A20 20 0 0 1 128.5 20H64.3Z" fill="url(#tG)"/><path transform="translate(1445 200) rotate(-76.5)" d="M64.3 -20H0A20 20 0 0 0 0 20H64.3Z" fill="url(#tR)"/><path transform="translate(1445 200) rotate(32.8)" d="M92.2 -20H184.5A20 20 0 0 1 184.5 20H92.2Z" fill="url(#tW)"/><path transform="translate(1445 200) rotate(32.8)" d="M92.2 -20H0A20 20 0 0 0 0 20H92.2Z" fill="url(#tR)"/><path transform="translate(1600 215) rotate(-9.2)" d="M78.5 -20H157A20 20 0 0 1 157 20H78.5Z" fill="url(#tW)"/><path transform="translate(1600 215) rotate(-9.2)" d="M78.5 -20H0A20 20 0 0 0 0 20H78.5Z" fill="url(#tR)"/><path transform="translate(1600 215) rotate(180)" d="M75 -20H150A20 20 0 0 1 150 20H75Z" fill="url(#tG)"/><path transform="translate(1600 215) rotate(180)" d="M75 -20H0A20 20 0 0 0 0 20H75Z" fill="url(#tR)"/><path transform="translate(362 400) rotate(-81)" d="M73.4 -20H146.8A20 20 0 0 1 146.8 20H73.4Z" fill="url(#tK)"/><path transform="translate(362 400) rotate(-81)" d="M73.4 -20H0A20 20 0 0 0 0 20H73.4Z" fill="url(#tR)"/><path transform="translate(362 400) rotate(98.3)" d="M75.8 -20H151.6A20 20 0 0 1 151.6 20H75.8Z" fill="url(#tW)"/><path transform="translate(362 400) rotate(98.3)" d="M75.8 -20H0A20 20 0 0 0 0 20H75.8Z" fill="url(#tR)"/><path transform="translate(702 378) rotate(-160.6)" d="M64.7 -20H129.4A20 20 0 0 1 129.4 20H64.7Z" fill="url(#tW)"/><path transform="translate(702 378) rotate(-160.6)" d="M64.7 -20H0A20 20 0 0 0 0 20H64.7Z" fill="url(#tR)"/><path transform="translate(702 378) rotate(107.3)" d="M87.5 -20H174.9A20 20 0 0 1 174.9 20H87.5Z" fill="url(#tW)"/><path transform="translate(702 378) rotate(107.3)" d="M87.5 -20H0A20 20 0 0 0 0 20H87.5Z" fill="url(#tR)"/><path transform="translate(805 512) rotate(-79.5)" d="M82.4 -20H164.8A20 20 0 0 1 164.8 20H82.4Z" fill="url(#tW)"/><path transform="translate(805 512) rotate(-79.5)" d="M82.4 -20H0A20 20 0 0 0 0 20H82.4Z" fill="url(#tR)"/><path transform="translate(805 512) rotate(45.6)" d="M96.5 -20H193.1A20 20 0 0 1 193.1 20H96.5Z" fill="url(#tW)"/><path transform="translate(805 512) rotate(45.6)" d="M96.5 -20H0A20 20 0 0 0 0 20H96.5Z" fill="url(#tR)"/><path transform="translate(955 340) rotate(119.1)" d="M51.5 -20H103A20 20 0 0 1 103 20H51.5Z" fill="url(#tK)"/><path transform="translate(955 340) rotate(119.1)" d="M51.5 -20H0A20 20 0 0 0 0 20H51.5Z" fill="url(#tR)"/><rect transform="translate(955 340) rotate(-12.2)" x="-20" y="-20" width="173" height="40" rx="20" fill="url(#tR)"/><path transform="translate(1207 263) rotate(172.7)" d="M94.3 -20H188.5A20 20 0 0 1 188.5 20H94.3Z" fill="url(#tW)"/><path transform="translate(1207 263) rotate(172.7)" d="M94.3 -20H0A20 20 0 0 0 0 20H94.3Z" fill="url(#tR)"/><path transform="translate(1207 263) rotate(80.6)" d="M55.2 -20H110.5A20 20 0 0 1 110.5 20H55.2Z" fill="url(#tG)"/><path transform="translate(1207 263) rotate(80.6)" d="M55.2 -20H0A20 20 0 0 0 0 20H55.2Z" fill="url(#tR)"/><path transform="translate(1160 655) rotate(-142.3)" d="M69.5 -20H139A20 20 0 0 1 139 20H69.5Z" fill="url(#tW)"/><path transform="translate(1160 655) rotate(-142.3)" d="M69.5 -20H0A20 20 0 0 0 0 20H69.5Z" fill="url(#tR)"/><path transform="translate(1160 655) rotate(160.2)" d="M66.4 -20H132.9A20 20 0 0 1 132.9 20H66.4Z" fill="url(#tW)"/><path transform="translate(1160 655) rotate(160.2)" d="M66.4 -20H0A20 20 0 0 0 0 20H66.4Z" fill="url(#tR)"/><path transform="translate(1680 597) rotate(-104.9)" d="M68.3 -20H136.6A20 20 0 0 1 136.6 20H68.3Z" fill="url(#tW)"/><path transform="translate(1680 597) rotate(-104.9)" d="M68.3 -20H0A20 20 0 0 0 0 20H68.3Z" fill="url(#tR)"/><path transform="translate(1680 597) rotate(150.2)" d="M103.7 -20H207.4A20 20 0 0 1 207.4 20H103.7Z" fill="url(#tW)"/><path transform="translate(1680 597) rotate(150.2)" d="M103.7 -20H0A20 20 0 0 0 0 20H103.7Z" fill="url(#tR)"/><rect transform="translate(1800 562) rotate(-31)" x="-17" y="-17" width="139" height="34" rx="17" fill="url(#tK)"/><path transform="translate(125 870) rotate(-102.8)" d="M56.4 -20H112.8A20 20 0 0 1 112.8 20H56.4Z" fill="url(#tK)"/><path transform="translate(125 870) rotate(-102.8)" d="M56.4 -20H0A20 20 0 0 0 0 20H56.4Z" fill="url(#tR)"/><path transform="translate(125 870) rotate(96)" d="M95.5 -20H191A20 20 0 0 1 191 20H95.5Z" fill="url(#tW)"/><path transform="translate(125 870) rotate(96)" d="M95.5 -20H0A20 20 0 0 0 0 20H95.5Z" fill="url(#tR)"/><path transform="translate(130 900) rotate(70.8)" d="M60.9 -20H121.8A20 20 0 0 1 121.8 20H60.9Z" fill="url(#tW)"/><path transform="translate(130 900) rotate(70.8)" d="M60.9 -20H0A20 20 0 0 0 0 20H60.9Z" fill="url(#tR)"/><rect transform="translate(130 900) rotate(-138.4)" x="-20" y="-20" width="160.4" height="40" rx="20" fill="url(#tR)"/><circle cx="415" cy="920" r="78" fill="url(#bK)"/><circle cx="1685" cy="725" r="78" fill="url(#bK)"/><path transform="translate(470 850) rotate(-144.5)" d="M43 -20H86A20 20 0 0 1 86 20H43Z" fill="url(#tG)"/><path transform="translate(470 850) rotate(-144.5)" d="M43 -20H0A20 20 0 0 0 0 20H43Z" fill="url(#tR)"/><path transform="translate(470 850) rotate(59.9)" d="M109.8 -20H219.5A20 20 0 0 1 219.5 20H109.8Z" fill="url(#tW)"/><path transform="translate(470 850) rotate(59.9)" d="M109.8 -20H0A20 20 0 0 0 0 20H109.8Z" fill="url(#tR)"/><circle cx="1290" cy="925" r="112" fill="url(#bO)"/><circle cx="720" cy="925" r="118" fill="url(#bO)"/><path transform="translate(1195 905) rotate(-82.4)" d="M37.8 -20H75.7A20 20 0 0 1 75.7 20H37.8Z" fill="url(#tW)"/><path transform="translate(1195 905) rotate(-82.4)" d="M37.8 -20H0A20 20 0 0 0 0 20H37.8Z" fill="url(#tR)"/><path transform="translate(1195 905) rotate(96)" d="M47.8 -20H95.5A20 20 0 0 1 95.5 20H47.8Z" fill="url(#tW)"/><path transform="translate(1195 905) rotate(96)" d="M47.8 -20H0A20 20 0 0 0 0 20H47.8Z" fill="url(#tR)"/><path transform="translate(1368 1010) rotate(67.6)" d="M55.2 -20H110.3A20 20 0 0 1 110.3 20H55.2Z" fill="url(#tW)"/><path transform="translate(1368 1010) rotate(67.6)" d="M55.2 -20H0A20 20 0 0 0 0 20H55.2Z" fill="url(#tR)"/><rect transform="translate(815 1135) rotate(-2.4)" x="0" y="-30" width="355.3" height="60" fill="url(#sGy)"/><rect transform="translate(815 1135) rotate(94.4)" x="107.6" y="-30" width="88" height="60" fill="url(#sC)"/><rect transform="translate(815 1135) rotate(94.4)" x="0" y="-30" width="107.6" height="60" fill="url(#sGy)"/><rect transform="translate(1170 1120) rotate(66.8)" x="125.7" y="-30" width="102.8" height="60" fill="url(#sC)"/><rect transform="translate(1170 1120) rotate(66.8)" x="0" y="-30" width="125.7" height="60" fill="url(#sGy)"/><circle cx="815" cy="1135" r="110" fill="url(#bC)"/><circle cx="1170" cy="1120" r="110" fill="url(#bC)"/><circle cx="800" cy="1380" r="92" fill="url(#bCuI)"/><circle cx="1290" cy="1380" r="92" fill="url(#bCuI)"/><circle cx="240" cy="1400" r="90" fill="url(#bCuI)"/><circle cx="1700" cy="1380" r="90" fill="url(#bCuI)"/><rect transform="translate(40 1394.4) rotate(-0.2)" x="0" y="-29.8" width="1860" height="59.5" fill="url(#sC)"/><rect transform="translate(40 1450.8) rotate(-0.2)" x="0" y="-40.2" width="1860" height="80.5" fill="url(#sC)"/><rect transform="translate(261 1460) rotate(130.5)" x="0" y="-38" width="309.2" height="76" fill="url(#sCd)"/><rect transform="translate(275 1440) rotate(123.7)" x="0" y="-35" width="306.5" height="70" fill="url(#sC)"/><rect transform="translate(289 1460) rotate(49.5)" x="0" y="-38" width="309.2" height="76" fill="url(#sCd)"/><rect transform="translate(275 1440) rotate(56.3)" x="0" y="-35" width="306.5" height="70" fill="url(#sC)"/><rect transform="translate(776 1435) rotate(127.7)" x="0" y="-38" width="328.6" height="76" fill="url(#sCd)"/><rect transform="translate(790 1415) rotate(121.3)" x="0" y="-35" width="327.6" height="70" fill="url(#sC)"/><rect transform="translate(804 1435) rotate(52.3)" x="0" y="-38" width="328.6" height="76" fill="url(#sCd)"/><rect transform="translate(790 1415) rotate(58.7)" x="0" y="-35" width="327.6" height="70" fill="url(#sC)"/><rect transform="translate(1271 1435) rotate(127.7)" x="0" y="-38" width="328.6" height="76" fill="url(#sCd)"/><rect transform="translate(1285 1415) rotate(121.3)" x="0" y="-35" width="327.6" height="70" fill="url(#sC)"/><rect transform="translate(1299 1435) rotate(52.3)" x="0" y="-38" width="328.6" height="76" fill="url(#sCd)"/><rect transform="translate(1285 1415) rotate(58.7)" x="0" y="-35" width="327.6" height="70" fill="url(#sC)"/><rect transform="translate(1741 1430) rotate(127.2)" x="0" y="-38" width="332.6" height="76" fill="url(#sCd)"/><rect transform="translate(1755 1410) rotate(120.8)" x="0" y="-35" width="331.9" height="70" fill="url(#sC)"/><rect transform="translate(1769 1430) rotate(52.8)" x="0" y="-38" width="332.6" height="76" fill="url(#sCd)"/><rect transform="translate(1755 1410) rotate(59.2)" x="0" y="-35" width="331.9" height="70" fill="url(#sC)"/><circle cx="275" cy="1440" r="115" fill="url(#bCuI)"/><circle cx="790" cy="1415" r="115" fill="url(#bCuI)"/><circle cx="1285" cy="1415" r="115" fill="url(#bCuI)"/><circle cx="1755" cy="1410" r="115" fill="url(#bCuI)"/></g></g><clipPath id="ci1"><rect x="829" y="2652" width="354" height="279.5"/></clipPath><rect x="829" y="2652" width="354" height="279.5" fill="#fff"/><g clip-path="url(#ci1)"><g transform="translate(818 2643) scale(0.19410)"><rect transform="translate(312 48) rotate(8.7)" x="-15" y="-15" width="43.2" height="30" rx="15" fill="url(#tW)"/><path transform="translate(100 215) rotate(-71.6)" d="M47.4 -20H94.9A20 20 0 0 1 94.9 20H47.4Z" fill="url(#tK)"/><path transform="translate(100 215) rotate(-71.6)" d="M47.4 -20H0A20 20 0 0 0 0 20H47.4Z" fill="url(#tR)"/><path transform="translate(100 215) rotate(84.3)" d="M100.5 -20H201A20 20 0 0 1 201 20H100.5Z" fill="url(#tW)"/><path transform="translate(100 215) rotate(84.3)" d="M100.5 -20H0A20 20 0 0 0 0 20H100.5Z" fill="url(#tR)"/><path transform="translate(440 290) rotate(-166)" d="M51.5 -20H103.1A20 20 0 0 1 103.1 20H51.5Z" fill="url(#tW)"/><path transform="translate(440 290) rotate(-166)" d="M51.5 -20H0A20 20 0 0 0 0 20H51.5Z" fill="url(#tR)"/><path transform="translate(440 290) rotate(50)" d="M101.1 -20H202.3A20 20 0 0 1 202.3 20H101.1Z" fill="url(#tW)"/><path transform="translate(440 290) rotate(50)" d="M101.1 -20H0A20 20 0 0 0 0 20H101.1Z" fill="url(#tR)"/><path transform="translate(745 283) rotate(13.6)" d="M89 -20H178A20 20 0 0 1 178 20H89Z" fill="url(#tW)"/><path transform="translate(745 283) rotate(13.6)" d="M89 -20H0A20 20 0 0 0 0 20H89Z" fill="url(#tR)"/><path transform="translate(745 283) rotate(-51)" d="M13.5 -20H27A20 20 0 0 1 27 20H13.5Z" fill="url(#tG)"/><path transform="translate(745 283) rotate(-51)" d="M13.5 -20H0A20 20 0 0 0 0 20H13.5Z" fill="url(#tR)"/><path transform="translate(700 215) rotate(-133.8)" d="M83.1 -20H166.2A20 20 0 0 1 166.2 20H83.1Z" fill="url(#tW)"/><path transform="translate(700 215) rotate(-133.8)" d="M83.1 -20H0A20 20 0 0 0 0 20H83.1Z" fill="url(#tR)"/><path transform="translate(700 215) rotate(99.2)" d="M93.7 -20H187.4A20 20 0 0 1 187.4 20H93.7Z" fill="url(#tW)"/><path transform="translate(700 215) rotate(99.2)" d="M93.7 -20H0A20 20 0 0 0 0 20H93.7Z" fill="url(#tR)"/><path transform="translate(978 58) rotate(174.2)" d="M99.5 -20H199A20 20 0 0 1 199 20H99.5Z" fill="url(#tW)"/><path transform="translate(978 58) rotate(174.2)" d="M99.5 -20H0A20 20 0 0 0 0 20H99.5Z" fill="url(#tR)"/><path transform="translate(978 58) rotate(85.5)" d="M77.2 -20H154.5A20 20 0 0 1 154.5 20H77.2Z" fill="url(#tW)"/><path transform="translate(978 58) rotate(85.5)" d="M77.2 -20H0A20 20 0 0 0 0 20H77.2Z" fill="url(#tR)"/><path transform="translate(1330 118) rotate(15.3)" d="M70 -20H140A20 20 0 0 1 140 20H70Z" fill="url(#tW)"/><path transform="translate(1330 118) rotate(15.3)" d="M70 -20H0A20 20 0 0 0 0 20H70Z" fill="url(#tR)"/><rect transform="translate(1330 118) rotate(-118.7)" x="-20" y="-20" width="123.2" height="40" rx="20" fill="url(#tR)"/><path transform="translate(1280 152) rotate(-176.1)" d="M87.7 -20H175.4A20 20 0 0 1 175.4 20H87.7Z" fill="url(#tW)"/><path transform="translate(1280 152) rotate(-176.1)" d="M87.7 -20H0A20 20 0 0 0 0 20H87.7Z" fill="url(#tR)"/><path transform="translate(1280 152) rotate(-22.2)" d="M75.6 -20H151.2A20 20 0 0 1 151.2 20H75.6Z" fill="url(#tW)"/><path transform="translate(1280 152) rotate(-22.2)" d="M75.6 -20H0A20 20 0 0 0 0 20H75.6Z" fill="url(#tR)"/><path transform="translate(1760 70) rotate(-10)" d="M63.5 -20H126.9A20 20 0 0 1 126.9 20H63.5Z" fill="url(#tK)"/><path transform="translate(1760 70) rotate(-10)" d="M63.5 -20H0A20 20 0 0 0 0 20H63.5Z" fill="url(#tR)"/><path transform="translate(1770 315) rotate(-47.7)" d="M74.3 -20H148.7A20 20 0 0 1 148.7 20H74.3Z" fill="url(#tW)"/><path transform="translate(1770 315) rotate(-47.7)" d="M74.3 -20H0A20 20 0 0 0 0 20H74.3Z" fill="url(#tR)"/><path transform="translate(1770 315) rotate(143.5)" d="M71.5 -20H143A20 20 0 0 1 143 20H71.5Z" fill="url(#tK)"/><path transform="translate(1770 315) rotate(143.5)" d="M71.5 -20H0A20 20 0 0 0 0 20H71.5Z" fill="url(#tR)"/><circle cx="283" cy="575" r="78" fill="url(#bK)"/><circle cx="1480" cy="595" r="78" fill="url(#bK)"/><path transform="translate(1450 605) rotate(-119.8)" d="M82.4 -20H164.8A20 20 0 0 1 164.8 20H82.4Z" fill="url(#tW)"/><path transform="translate(1450 605) rotate(-119.8)" d="M82.4 -20H0A20 20 0 0 0 0 20H82.4Z" fill="url(#tR)"/><path transform="translate(1450 605) rotate(65.6)" d="M78.5 -20H157.1A20 20 0 0 1 157.1 20H78.5Z" fill="url(#tW)"/><path transform="translate(1450 605) rotate(65.6)" d="M78.5 -20H0A20 20 0 0 0 0 20H78.5Z" fill="url(#tR)"/><path transform="translate(890 560) rotate(154.9)" d="M88.4 -20H176.7A20 20 0 0 1 176.7 20H88.4Z" fill="url(#tW)"/><path transform="translate(890 560) rotate(154.9)" d="M88.4 -20H0A20 20 0 0 0 0 20H88.4Z" fill="url(#tR)"/><path transform="translate(890 560) rotate(67.9)" d="M86.3 -20H172.7A20 20 0 0 1 172.7 20H86.3Z" fill="url(#tW)"/><path transform="translate(890 560) rotate(67.9)" d="M86.3 -20H0A20 20 0 0 0 0 20H86.3Z" fill="url(#tR)"/><path transform="translate(375 690) rotate(-165.1)" d="M77.6 -20H155.2A20 20 0 0 1 155.2 20H77.6Z" fill="url(#tW)"/><path transform="translate(375 690) rotate(-165.1)" d="M77.6 -20H0A20 20 0 0 0 0 20H77.6Z" fill="url(#tR)"/><path transform="translate(375 690) rotate(84.1)" d="M96.5 -20H193A20 20 0 0 1 193 20H96.5Z" fill="url(#tW)"/><path transform="translate(375 690) rotate(84.1)" d="M96.5 -20H0A20 20 0 0 0 0 20H96.5Z" fill="url(#tR)"/><path transform="translate(190 745) rotate(130.8)" d="M95.7 -20H191.4A20 20 0 0 1 191.4 20H95.7Z" fill="url(#tW)"/><path transform="translate(190 745) rotate(130.8)" d="M95.7 -20H0A20 20 0 0 0 0 20H95.7Z" fill="url(#tR)"/><path transform="translate(190 745) rotate(27.1)" d="M95.5 -20H191A20 20 0 0 1 191 20H95.5Z" fill="url(#tW)"/><path transform="translate(190 745) rotate(27.1)" d="M95.5 -20H0A20 20 0 0 0 0 20H95.5Z" fill="url(#tR)"/><circle cx="1250" cy="705" r="115" fill="url(#bO)"/><circle cx="725" cy="775" r="118" fill="url(#bO)"/><path transform="translate(730 828) rotate(-20.5)" d="M75.8 -20H151.6A20 20 0 0 1 151.6 20H75.8Z" fill="url(#tG)"/><path transform="translate(730 828) rotate(-20.5)" d="M75.8 -20H0A20 20 0 0 0 0 20H75.8Z" fill="url(#tR)"/><rect transform="translate(865 950) rotate(-4.8)" x="0" y="-30" width="301" height="60" fill="url(#sGy)"/><rect transform="translate(865 950) rotate(110.3)" x="134.9" y="-30" width="110.3" height="60" fill="url(#sC)"/><rect transform="translate(865 950) rotate(110.3)" x="0" y="-30" width="134.9" height="60" fill="url(#sGy)"/><rect transform="translate(1165 925) rotate(77.3)" x="138.1" y="-30" width="113" height="60" fill="url(#sC)"/><rect transform="translate(1165 925) rotate(77.3)" x="0" y="-30" width="138.1" height="60" fill="url(#sGy)"/><circle cx="865" cy="950" r="112" fill="url(#bC)"/><circle cx="1165" cy="925" r="108" fill="url(#bC)"/><circle cx="700" cy="1215" r="95" fill="url(#bCuI)"/><circle cx="1240" cy="1215" r="100" fill="url(#bCuI)"/><circle cx="195" cy="1240" r="80" fill="url(#bCuI)"/><circle cx="1690" cy="1225" r="85" fill="url(#bCuI)"/><rect transform="translate(40 1234.4) rotate(-0.2)" x="0" y="-29.8" width="1860" height="59.5" fill="url(#sC)"/><rect transform="translate(40 1305.8) rotate(-0.2)" x="0" y="-40.2" width="1860" height="80.5" fill="url(#sC)"/><rect transform="translate(211 1300) rotate(131.5)" x="0" y="-38" width="303.2" height="76" fill="url(#sCd)"/><rect transform="translate(225 1280) rotate(124.5)" x="0" y="-35" width="299.8" height="70" fill="url(#sC)"/><rect transform="translate(239 1300) rotate(48.5)" x="0" y="-38" width="303.2" height="76" fill="url(#sCd)"/><rect transform="translate(225 1280) rotate(55.5)" x="0" y="-35" width="299.8" height="70" fill="url(#sC)"/><rect transform="translate(736 1300) rotate(131.5)" x="0" y="-38" width="303.2" height="76" fill="url(#sCd)"/><rect transform="translate(750 1280) rotate(124.5)" x="0" y="-35" width="299.8" height="70" fill="url(#sC)"/><rect transform="translate(764 1300) rotate(48.5)" x="0" y="-38" width="303.2" height="76" fill="url(#sCd)"/><rect transform="translate(750 1280) rotate(55.5)" x="0" y="-35" width="299.8" height="70" fill="url(#sC)"/><rect transform="translate(1241 1325) rotate(134.9)" x="0" y="-38" width="285" height="76" fill="url(#sCd)"/><rect transform="translate(1255 1305) rotate(127.4)" x="0" y="-35" width="279.6" height="70" fill="url(#sC)"/><rect transform="translate(1269 1325) rotate(45.1)" x="0" y="-38" width="285" height="76" fill="url(#sCd)"/><rect transform="translate(1255 1305) rotate(52.6)" x="0" y="-35" width="279.6" height="70" fill="url(#sC)"/><rect transform="translate(1711 1275) rotate(128.6)" x="0" y="-38" width="322.3" height="76" fill="url(#sCd)"/><rect transform="translate(1725 1255) rotate(122)" x="0" y="-35" width="320.8" height="70" fill="url(#sC)"/><rect transform="translate(1739 1275) rotate(51.4)" x="0" y="-38" width="322.3" height="76" fill="url(#sCd)"/><rect transform="translate(1725 1255) rotate(58)" x="0" y="-35" width="320.8" height="70" fill="url(#sC)"/><circle cx="225" cy="1280" r="110" fill="url(#bCuI)"/><circle cx="750" cy="1280" r="110" fill="url(#bCuI)"/><circle cx="1255" cy="1305" r="105" fill="url(#bCuI)"/><circle cx="1725" cy="1255" r="110" fill="url(#bCuI)"/></g></g><rect x="274.5" y="2077" width="950" height="923" fill="none" stroke="#000" stroke-width="6.6"/><text x="403" y="3085" font-size="78.5" text-anchor="middle" class="b">3.2</text><text x="575.8" y="3085" font-size="78.5" text-anchor="middle" class="b">2.8</text><text x="748.5" y="3085" font-size="78.5" text-anchor="middle" class="b">2.4</text><text x="921.2" y="3085" font-size="78.5" text-anchor="middle" class="b">2.0</text><text x="1094" y="3085" font-size="78.5" text-anchor="middle" class="b">1.6</text><path d="M404 3000v-22M576.8 3000v-22M749.5 3000v-22M922.2 3000v-22M1095 3000v-22M274.5 2846.2h11M274.5 2692.3h23M274.5 2538.5h11M274.5 2384.7h23M274.5 2230.8h11" fill="none" stroke="#000" stroke-width="6.6"/><text x="250" y="3025" font-size="78.5" text-anchor="end" class="b">0.0</text><text x="250" y="2717.3" font-size="78.5" text-anchor="end" class="b">0.3</text><text x="250" y="2409.7" font-size="78.5" text-anchor="end" class="b">0.6</text><text x="250" y="2102" font-size="78.5" text-anchor="end" class="b">0.9</text><path d="M1462.6 3003.2C1465.9 3002.6 1476.2 3001.8 1482.4 2999.6C1488.6 2997.4 1493.4 2993.4 1500 2990C1506.6 2986.5 1514.7 2983 1522 2979C1529.3 2974.9 1536.7 2970.9 1544 2965.8C1551.3 2960.6 1558.7 2954 1566 2948.2C1573.3 2942.3 1580.7 2937.5 1588 2930.6C1595.3 2923.6 1602.7 2914.4 1610 2906.4C1617.3 2898.3 1624.6 2890.6 1632 2882.2C1639.3 2873.7 1646.6 2864.9 1654 2855.8C1661.3 2846.6 1668.6 2836.7 1676 2827.2C1683.3 2817.6 1690.6 2808.5 1698 2798.6C1705.3 2788.7 1712.6 2777.7 1720 2767.8C1727.3 2757.9 1734.6 2749.1 1742 2739.2C1749.3 2729.3 1755.9 2720.1 1764 2708.4C1772 2696.6 1781.2 2682.3 1790.4 2668.8C1799.5 2655.2 1812.4 2636.5 1819 2627C1825.6 2617.5 1824.5 2619.3 1830 2611.6C1835.5 2603.9 1844.6 2590 1852 2580.8C1859.3 2571.6 1866.6 2564.3 1874 2556.6C1881.3 2548.9 1888.6 2541.2 1896 2534.6C1903.3 2528 1910.6 2521.9 1918 2517C1925.3 2512.1 1932.6 2508.4 1940 2505.1C1947.3 2501.8 1955.4 2498.5 1962 2497.2C1968.6 2495.9 1972.2 2495.7 1979.6 2497.2C1986.9 2498.7 1997.9 2502.3 2006 2506C2014 2509.7 2020.6 2513.7 2028 2519.2C2035.3 2524.7 2042.6 2531.3 2049.9 2539C2057.3 2546.7 2064.6 2555.9 2071.9 2565.4C2079.3 2574.9 2086.6 2585.6 2093.9 2596.2C2101.3 2606.8 2108.6 2617.8 2115.9 2629.2C2123.3 2640.6 2131.7 2655 2137.9 2664.4C2144.2 2673.8 2150.8 2682 2153.3 2685.5" fill="none" stroke="#000" stroke-width="7.5" stroke-linejoin="round" stroke-linecap="round"/><path d="M1962.8 2468.6V2529M1950.8 2468.6H1974.8M1950.8 2529H1974.8" fill="none" stroke="#000" stroke-width="2.6"/><clipPath id="ci2"><rect x="1374" y="2307" width="355" height="320"/></clipPath><rect x="1374" y="2307" width="355" height="320" fill="#fff"/><g clip-path="url(#ci2)"><g transform="translate(1363 2297) scale(0.19410)"><path transform="translate(470 215) rotate(-119.5)" d="M86.2 -20H172.4A20 20 0 0 1 172.4 20H86.2Z" fill="url(#tW)"/><path transform="translate(470 215) rotate(-119.5)" d="M86.2 -20H0A20 20 0 0 0 0 20H86.2Z" fill="url(#tR)"/><path transform="translate(470 215) rotate(-32.3)" d="M88.8 -20H177.6A20 20 0 0 1 177.6 20H88.8Z" fill="url(#tG)"/><path transform="translate(470 215) rotate(-32.3)" d="M88.8 -20H0A20 20 0 0 0 0 20H88.8Z" fill="url(#tR)"/><path transform="translate(332 213) rotate(111.9)" d="M49.6 -20H99.2A20 20 0 0 1 99.2 20H49.6Z" fill="url(#tW)"/><path transform="translate(332 213) rotate(111.9)" d="M49.6 -20H0A20 20 0 0 0 0 20H49.6Z" fill="url(#tR)"/><path transform="translate(332 213) rotate(-4.7)" d="M96.8 -20H193.7A20 20 0 0 1 193.7 20H96.8Z" fill="url(#tW)"/><path transform="translate(332 213) rotate(-4.7)" d="M96.8 -20H0A20 20 0 0 0 0 20H96.8Z" fill="url(#tR)"/><path transform="translate(200 510) rotate(-53.8)" d="M69.4 -20H138.8A20 20 0 0 1 138.8 20H69.4Z" fill="url(#tG)"/><path transform="translate(200 510) rotate(-53.8)" d="M69.4 -20H0A20 20 0 0 0 0 20H69.4Z" fill="url(#tR)"/><path transform="translate(187 437) rotate(-148.2)" d="M54.1 -20H108.2A20 20 0 0 1 108.2 20H54.1Z" fill="url(#tW)"/><path transform="translate(187 437) rotate(-148.2)" d="M54.1 -20H0A20 20 0 0 0 0 20H54.1Z" fill="url(#tR)"/><path transform="translate(187 437) rotate(125.7)" d="M100.3 -20H200.6A20 20 0 0 1 200.6 20H100.3Z" fill="url(#tW)"/><path transform="translate(187 437) rotate(125.7)" d="M100.3 -20H0A20 20 0 0 0 0 20H100.3Z" fill="url(#tR)"/><rect transform="translate(832 132) rotate(-65.3)" x="-20" y="-20" width="135.8" height="40" rx="20" fill="url(#tR)"/><path transform="translate(832 132) rotate(53.2)" d="M98.6 -20H197.2A20 20 0 0 1 197.2 20H98.6Z" fill="url(#tW)"/><path transform="translate(832 132) rotate(53.2)" d="M98.6 -20H0A20 20 0 0 0 0 20H98.6Z" fill="url(#tR)"/><rect transform="translate(918 66) rotate(14)" x="-15" y="-15" width="34.1" height="30" rx="15" fill="url(#tW)"/><rect transform="translate(1035 52) rotate(21.8)" x="-15" y="-15" width="35.4" height="30" rx="15" fill="url(#tW)"/><path transform="translate(825 510) rotate(-146.8)" d="M77.7 -20H155.3A20 20 0 0 1 155.3 20H77.7Z" fill="url(#tW)"/><path transform="translate(825 510) rotate(-146.8)" d="M77.7 -20H0A20 20 0 0 0 0 20H77.7Z" fill="url(#tR)"/><path transform="translate(825 510) rotate(-60.3)" d="M80.6 -20H161.2A20 20 0 0 1 161.2 20H80.6Z" fill="url(#tW)"/><path transform="translate(825 510) rotate(-60.3)" d="M80.6 -20H0A20 20 0 0 0 0 20H80.6Z" fill="url(#tR)"/><path transform="translate(1320 370) rotate(-63.1)" d="M79.6 -20H159.2A20 20 0 0 1 159.2 20H79.6Z" fill="url(#tW)"/><path transform="translate(1320 370) rotate(-63.1)" d="M79.6 -20H0A20 20 0 0 0 0 20H79.6Z" fill="url(#tR)"/><path transform="translate(1320 370) rotate(63.8)" d="M93 -20H186A20 20 0 0 1 186 20H93Z" fill="url(#tW)"/><path transform="translate(1320 370) rotate(63.8)" d="M93 -20H0A20 20 0 0 0 0 20H93Z" fill="url(#tR)"/><path transform="translate(1565 50) rotate(63.4)" d="M39.1 -20H78.3A20 20 0 0 1 78.3 20H39.1Z" fill="url(#tG)"/><path transform="translate(1565 50) rotate(63.4)" d="M39.1 -20H0A20 20 0 0 0 0 20H39.1Z" fill="url(#tR)"/><path transform="translate(1500 108) rotate(123.2)" d="M63.9 -20H127.9A20 20 0 0 1 127.9 20H63.9Z" fill="url(#tK)"/><path transform="translate(1500 108) rotate(123.2)" d="M63.9 -20H0A20 20 0 0 0 0 20H63.9Z" fill="url(#tR)"/><path transform="translate(1500 108) rotate(33)" d="M81.7 -20H163.4A20 20 0 0 1 163.4 20H81.7Z" fill="url(#tW)"/><path transform="translate(1500 108) rotate(33)" d="M81.7 -20H0A20 20 0 0 0 0 20H81.7Z" fill="url(#tR)"/><path transform="translate(1700 350) rotate(122.9)" d="M101.2 -20H202.5A20 20 0 0 1 202.5 20H101.2Z" fill="url(#tW)"/><path transform="translate(1700 350) rotate(122.9)" d="M101.2 -20H0A20 20 0 0 0 0 20H101.2Z" fill="url(#tR)"/><path transform="translate(1700 350) rotate(15.4)" d="M78.8 -20H157.7A20 20 0 0 1 157.7 20H78.8Z" fill="url(#tG)"/><path transform="translate(1700 350) rotate(15.4)" d="M78.8 -20H0A20 20 0 0 0 0 20H78.8Z" fill="url(#tR)"/><circle cx="1075" cy="935" r="75" fill="url(#bK)"/><circle cx="460" cy="905" r="70" fill="url(#bK)"/><path transform="translate(1098 880) rotate(-65.3)" d="M74.3 -20H148.6A20 20 0 0 1 148.6 20H74.3Z" fill="url(#tW)"/><path transform="translate(1098 880) rotate(-65.3)" d="M74.3 -20H0A20 20 0 0 0 0 20H74.3Z" fill="url(#tR)"/><path transform="translate(1098 880) rotate(68.1)" d="M90 -20H179.9A20 20 0 0 1 179.9 20H90Z" fill="url(#tW)"/><path transform="translate(1098 880) rotate(68.1)" d="M90 -20H0A20 20 0 0 0 0 20H90Z" fill="url(#tR)"/><path transform="translate(1600 860) rotate(34.7)" d="M39.5 -20H79.1A20 20 0 0 1 79.1 20H39.5Z" fill="url(#tW)"/><path transform="translate(1600 860) rotate(34.7)" d="M39.5 -20H0A20 20 0 0 0 0 20H39.5Z" fill="url(#tR)"/><path transform="translate(1600 860) rotate(-155.8)" d="M21.9 -20H43.9A20 20 0 0 1 43.9 20H21.9Z" fill="url(#tW)"/><path transform="translate(1600 860) rotate(-155.8)" d="M21.9 -20H0A20 20 0 0 0 0 20H21.9Z" fill="url(#tR)"/><path transform="translate(1495 830) rotate(141.1)" d="M99.6 -20H199.1A20 20 0 0 1 199.1 20H99.6Z" fill="url(#tW)"/><path transform="translate(1495 830) rotate(141.1)" d="M99.6 -20H0A20 20 0 0 0 0 20H99.6Z" fill="url(#tR)"/><path transform="translate(1495 830) rotate(1.3)" d="M113.5 -20H227.1A20 20 0 0 1 227.1 20H113.5Z" fill="url(#tW)"/><path transform="translate(1495 830) rotate(1.3)" d="M113.5 -20H0A20 20 0 0 0 0 20H113.5Z" fill="url(#tR)"/><path transform="translate(485 925) rotate(-125)" d="M61 -20H122.1A20 20 0 0 1 122.1 20H61Z" fill="url(#tW)"/><path transform="translate(485 925) rotate(-125)" d="M61 -20H0A20 20 0 0 0 0 20H61Z" fill="url(#tR)"/><circle cx="948" cy="630" r="112" fill="url(#bO)"/><rect transform="translate(600 870) rotate(-11)" x="0" y="-30" width="315.8" height="60" fill="url(#sGy)"/><rect transform="translate(600 870) rotate(121.8)" x="135.8" y="-30" width="111.1" height="60" fill="url(#sC)"/><rect transform="translate(600 870) rotate(121.8)" x="0" y="-30" width="135.8" height="60" fill="url(#sGy)"/><rect transform="translate(910 810) rotate(78.7)" x="140.2" y="-30" width="114.7" height="60" fill="url(#sC)"/><rect transform="translate(910 810) rotate(78.7)" x="0" y="-30" width="140.2" height="60" fill="url(#sGy)"/><circle cx="600" cy="870" r="110" fill="url(#bC)"/><circle cx="910" cy="810" r="112" fill="url(#bC)"/><circle cx="585" cy="745" r="112" fill="url(#bO)"/><rect transform="translate(430 1165) rotate(0)" x="0" y="-35" width="565" height="70" fill="url(#sC)"/><rect transform="translate(430 1165) rotate(118.8)" x="0" y="-35" width="393.9" height="70" fill="url(#sC)"/><rect transform="translate(430 1165) rotate(48.1)" x="0" y="-35" width="463.8" height="70" fill="url(#sC)"/><rect transform="translate(995 1165) rotate(126.5)" x="0" y="-35" width="429" height="70" fill="url(#sC)"/><rect transform="translate(995 1165) rotate(50)" x="0" y="-35" width="404.6" height="70" fill="url(#sC)"/><circle cx="430" cy="1165" r="112" fill="url(#bCuS)"/><circle cx="995" cy="1165" r="112" fill="url(#bCuS)"/><circle cx="195" cy="1460" r="85" fill="url(#bCuI)"/><circle cx="700" cy="1450" r="95" fill="url(#bCuI)"/><circle cx="1690" cy="1430" r="85" fill="url(#bCuI)"/><circle cx="1215" cy="1430" r="85" fill="url(#bCuI)"/><rect transform="translate(40 1464.4) rotate(-0.2)" x="0" y="-29.8" width="1860" height="59.5" fill="url(#sC)"/><rect transform="translate(40 1525.8) rotate(-0.2)" x="0" y="-40.2" width="1860" height="80.5" fill="url(#sC)"/><rect transform="translate(226 1530) rotate(133.7)" x="0" y="-38" width="290.7" height="76" fill="url(#sCd)"/><rect transform="translate(240 1510) rotate(126.5)" x="0" y="-35" width="286" height="70" fill="url(#sC)"/><rect transform="translate(254 1530) rotate(46.3)" x="0" y="-38" width="290.7" height="76" fill="url(#sCd)"/><rect transform="translate(240 1510) rotate(53.5)" x="0" y="-35" width="286" height="70" fill="url(#sC)"/><rect transform="translate(726 1530) rotate(133.7)" x="0" y="-38" width="290.7" height="76" fill="url(#sCd)"/><rect transform="translate(740 1510) rotate(126.5)" x="0" y="-35" width="286" height="70" fill="url(#sC)"/><rect transform="translate(754 1530) rotate(46.3)" x="0" y="-38" width="290.7" height="76" fill="url(#sCd)"/><rect transform="translate(740 1510) rotate(53.5)" x="0" y="-35" width="286" height="70" fill="url(#sC)"/><rect transform="translate(1241 1495) rotate(129.4)" x="0" y="-38" width="316.9" height="76" fill="url(#sCd)"/><rect transform="translate(1255 1475) rotate(122.7)" x="0" y="-35" width="314.8" height="70" fill="url(#sC)"/><rect transform="translate(1269 1495) rotate(50.6)" x="0" y="-38" width="316.9" height="76" fill="url(#sCd)"/><rect transform="translate(1255 1475) rotate(57.3)" x="0" y="-35" width="314.8" height="70" fill="url(#sC)"/><rect transform="translate(1721 1485) rotate(128.2)" x="0" y="-38" width="324.7" height="76" fill="url(#sCd)"/><rect transform="translate(1735 1465) rotate(121.7)" x="0" y="-35" width="323.3" height="70" fill="url(#sC)"/><rect transform="translate(1749 1485) rotate(51.8)" x="0" y="-38" width="324.7" height="76" fill="url(#sCd)"/><rect transform="translate(1735 1465) rotate(58.3)" x="0" y="-35" width="323.3" height="70" fill="url(#sC)"/><circle cx="240" cy="1510" r="112" fill="url(#bCuI)"/><circle cx="740" cy="1510" r="112" fill="url(#bCuI)"/><circle cx="1255" cy="1475" r="108" fill="url(#bCuI)"/><circle cx="1735" cy="1465" r="108" fill="url(#bCuI)"/></g></g><clipPath id="ci3"><rect x="1764" y="2628" width="354" height="350"/></clipPath><rect x="1764" y="2628" width="354" height="350" fill="#fff"/><g clip-path="url(#ci3)"><g transform="translate(1754 2618) scale(0.19429)"><rect transform="translate(60 50) rotate(43.3)" x="-17" y="-17" width="150.7" height="34" rx="17" fill="url(#tW)"/><path transform="translate(110 580) rotate(132.9)" d="M47.8 -20H95.5A20 20 0 0 1 95.5 20H47.8Z" fill="url(#tW)"/><path transform="translate(110 580) rotate(132.9)" d="M47.8 -20H0A20 20 0 0 0 0 20H47.8Z" fill="url(#tR)"/><path transform="translate(120 560) rotate(-127.4)" d="M53.5 -20H107A20 20 0 0 1 107 20H53.5Z" fill="url(#tW)"/><path transform="translate(120 560) rotate(-127.4)" d="M53.5 -20H0A20 20 0 0 0 0 20H53.5Z" fill="url(#tR)"/><path transform="translate(120 560) rotate(-25.3)" d="M52.6 -20H105.1A20 20 0 0 1 105.1 20H52.6Z" fill="url(#tG)"/><path transform="translate(120 560) rotate(-25.3)" d="M52.6 -20H0A20 20 0 0 0 0 20H52.6Z" fill="url(#tR)"/><path transform="translate(440 365) rotate(-112.8)" d="M84 -20H168.1A20 20 0 0 1 168.1 20H84Z" fill="url(#tW)"/><path transform="translate(440 365) rotate(-112.8)" d="M84 -20H0A20 20 0 0 0 0 20H84Z" fill="url(#tR)"/><path transform="translate(440 365) rotate(-11.6)" d="M86.8 -20H173.6A20 20 0 0 1 173.6 20H86.8Z" fill="url(#tG)"/><path transform="translate(440 365) rotate(-11.6)" d="M86.8 -20H0A20 20 0 0 0 0 20H86.8Z" fill="url(#tR)"/><path transform="translate(312 353) rotate(119.2)" d="M58.4 -20H116.8A20 20 0 0 1 116.8 20H58.4Z" fill="url(#tW)"/><path transform="translate(312 353) rotate(119.2)" d="M58.4 -20H0A20 20 0 0 0 0 20H58.4Z" fill="url(#tR)"/><path transform="translate(312 353) rotate(1.4)" d="M105 -20H210.1A20 20 0 0 1 210.1 20H105Z" fill="url(#tW)"/><path transform="translate(312 353) rotate(1.4)" d="M105 -20H0A20 20 0 0 0 0 20H105Z" fill="url(#tR)"/><path transform="translate(880 230) rotate(-98.9)" d="M81 -20H161.9A20 20 0 0 1 161.9 20H81Z" fill="url(#tW)"/><path transform="translate(880 230) rotate(-98.9)" d="M81 -20H0A20 20 0 0 0 0 20H81Z" fill="url(#tR)"/><path transform="translate(880 230) rotate(85.2)" d="M30.1 -20H60.2A20 20 0 0 1 60.2 20H30.1Z" fill="url(#tG)"/><path transform="translate(880 230) rotate(85.2)" d="M30.1 -20H0A20 20 0 0 0 0 20H30.1Z" fill="url(#tR)"/><path transform="translate(808 275) rotate(-81)" d="M86.1 -20H172.1A20 20 0 0 1 172.1 20H86.1Z" fill="url(#tW)"/><path transform="translate(808 275) rotate(-81)" d="M86.1 -20H0A20 20 0 0 0 0 20H86.1Z" fill="url(#tR)"/><path transform="translate(808 275) rotate(50.3)" d="M87.7 -20H175.4A20 20 0 0 1 175.4 20H87.7Z" fill="url(#tW)"/><path transform="translate(808 275) rotate(50.3)" d="M87.7 -20H0A20 20 0 0 0 0 20H87.7Z" fill="url(#tR)"/><path transform="translate(1020 132) rotate(20.9)" d="M81.3 -20H162.7A20 20 0 0 1 162.7 20H81.3Z" fill="url(#tW)"/><path transform="translate(1020 132) rotate(20.9)" d="M81.3 -20H0A20 20 0 0 0 0 20H81.3Z" fill="url(#tR)"/><path transform="translate(1020 132) rotate(-170.9)" d="M12.7 -20H25.3A20 20 0 0 1 25.3 20H12.7Z" fill="url(#tG)"/><path transform="translate(1020 132) rotate(-170.9)" d="M12.7 -20H0A20 20 0 0 0 0 20H12.7Z" fill="url(#tR)"/><path transform="translate(1510 150) rotate(-15)" d="M89 -20H178A20 20 0 0 1 178 20H89Z" fill="url(#tG)"/><path transform="translate(1510 150) rotate(-15)" d="M89 -20H0A20 20 0 0 0 0 20H89Z" fill="url(#tR)"/><path transform="translate(1510 150) rotate(82.7)" d="M39.3 -20H78.6A20 20 0 0 1 78.6 20H39.3Z" fill="url(#tG)"/><path transform="translate(1510 150) rotate(82.7)" d="M39.3 -20H0A20 20 0 0 0 0 20H39.3Z" fill="url(#tR)"/><path transform="translate(1400 218) rotate(12.9)" d="M75.9 -20H151.9A20 20 0 0 1 151.9 20H75.9Z" fill="url(#tG)"/><path transform="translate(1400 218) rotate(12.9)" d="M75.9 -20H0A20 20 0 0 0 0 20H75.9Z" fill="url(#tR)"/><path transform="translate(1400 218) rotate(103.9)" d="M79.3 -20H158.6A20 20 0 0 1 158.6 20H79.3Z" fill="url(#tG)"/><path transform="translate(1400 218) rotate(103.9)" d="M79.3 -20H0A20 20 0 0 0 0 20H79.3Z" fill="url(#tR)"/><path transform="translate(1400 218) rotate(-95.3)" d="M81.8 -20H163.7A20 20 0 0 1 163.7 20H81.8Z" fill="url(#tW)"/><path transform="translate(1400 218) rotate(-95.3)" d="M81.8 -20H0A20 20 0 0 0 0 20H81.8Z" fill="url(#tR)"/><path transform="translate(1890 200) rotate(133.5)" d="M93 -20H186A20 20 0 0 1 186 20H93Z" fill="url(#tW)"/><path transform="translate(1890 200) rotate(133.5)" d="M93 -20H0A20 20 0 0 0 0 20H93Z" fill="url(#tR)"/><path transform="translate(1650 400) rotate(16.7)" d="M78.3 -20H156.6A20 20 0 0 1 156.6 20H78.3Z" fill="url(#tG)"/><path transform="translate(1650 400) rotate(16.7)" d="M78.3 -20H0A20 20 0 0 0 0 20H78.3Z" fill="url(#tR)"/><path transform="translate(1650 400) rotate(117)" d="M93.7 -20H187.4A20 20 0 0 1 187.4 20H93.7Z" fill="url(#tW)"/><path transform="translate(1650 400) rotate(117)" d="M93.7 -20H0A20 20 0 0 0 0 20H93.7Z" fill="url(#tR)"/><path transform="translate(1303 492) rotate(-63.4)" d="M52.5 -20H105.1A20 20 0 0 1 105.1 20H52.5Z" fill="url(#tG)"/><path transform="translate(1303 492) rotate(-63.4)" d="M52.5 -20H0A20 20 0 0 0 0 20H52.5Z" fill="url(#tR)"/><path transform="translate(1303 492) rotate(71.4)" d="M100.2 -20H200.5A20 20 0 0 1 200.5 20H100.2Z" fill="url(#tW)"/><path transform="translate(1303 492) rotate(71.4)" d="M100.2 -20H0A20 20 0 0 0 0 20H100.2Z" fill="url(#tR)"/><path transform="translate(905 468) rotate(101.2)" d="M101.5 -17H241.6A17 17 0 0 1 241.6 17H101.5Z" fill="url(#tR)"/><path transform="translate(905 468) rotate(101.2)" d="M101.5 -17H0A17 17 0 0 0 0 17H101.5Z" fill="url(#tW)"/><rect transform="translate(860 690) rotate(101.3)" x="-17" y="-17" width="59.5" height="34" rx="17" fill="url(#tK)"/><path transform="translate(1510 880) rotate(37.1)" d="M51.4 -20H102.8A20 20 0 0 1 102.8 20H51.4Z" fill="url(#tG)"/><path transform="translate(1510 880) rotate(37.1)" d="M51.4 -20H0A20 20 0 0 0 0 20H51.4Z" fill="url(#tR)"/><path transform="translate(1480 965) rotate(134.6)" d="M96.2 -20H192.3A20 20 0 0 1 192.3 20H96.2Z" fill="url(#tW)"/><path transform="translate(1480 965) rotate(134.6)" d="M96.2 -20H0A20 20 0 0 0 0 20H96.2Z" fill="url(#tR)"/><path transform="translate(1480 965) rotate(-4.9)" d="M58.7 -20H117.4A20 20 0 0 1 117.4 20H58.7Z" fill="url(#tW)"/><path transform="translate(1480 965) rotate(-4.9)" d="M58.7 -20H0A20 20 0 0 0 0 20H58.7Z" fill="url(#tR)"/><path transform="translate(1210 1110) rotate(154.1)" d="M91.7 -20H183.4A20 20 0 0 1 183.4 20H91.7Z" fill="url(#tW)"/><path transform="translate(1210 1110) rotate(154.1)" d="M91.7 -20H0A20 20 0 0 0 0 20H91.7Z" fill="url(#tR)"/><path transform="translate(1210 1110) rotate(40.6)" d="M92.2 -20H184.4A20 20 0 0 1 184.4 20H92.2Z" fill="url(#tW)"/><path transform="translate(1210 1110) rotate(40.6)" d="M92.2 -20H0A20 20 0 0 0 0 20H92.2Z" fill="url(#tR)"/><rect transform="translate(1770 1132) rotate(-27.3)" x="-17" y="-17" width="103.8" height="34" rx="17" fill="url(#tK)"/><path transform="translate(1832 1052) rotate(173.6)" d="M89.1 -20H178.1A20 20 0 0 1 178.1 20H89.1Z" fill="url(#tW)"/><path transform="translate(1832 1052) rotate(173.6)" d="M89.1 -20H0A20 20 0 0 0 0 20H89.1Z" fill="url(#tR)"/><path transform="translate(1832 1052) rotate(85.4)" d="M113.4 -20H226.7A20 20 0 0 1 226.7 20H113.4Z" fill="url(#tW)"/><path transform="translate(1832 1052) rotate(85.4)" d="M113.4 -20H0A20 20 0 0 0 0 20H113.4Z" fill="url(#tR)"/><rect transform="translate(1832 1052) rotate(-37.4)" x="-20" y="-20" width="125.6" height="40" rx="20" fill="url(#tR)"/><circle cx="385" cy="850" r="75" fill="url(#bK)"/><circle cx="1015" cy="1000" r="75" fill="url(#bK)"/><circle cx="855" cy="845" r="112" fill="url(#bO)"/><rect transform="translate(610 990) rotate(-8.8)" x="0" y="-30" width="227.7" height="60" fill="url(#sGy)"/><rect transform="translate(610 990) rotate(120.3)" x="152.8" y="-30" width="125" height="60" fill="url(#sC)"/><rect transform="translate(610 990) rotate(120.3)" x="0" y="-30" width="152.8" height="60" fill="url(#sGy)"/><rect transform="translate(835 955) rotate(66.7)" x="152.7" y="-30" width="125" height="60" fill="url(#sC)"/><rect transform="translate(835 955) rotate(66.7)" x="0" y="-30" width="152.7" height="60" fill="url(#sGy)"/><circle cx="610" cy="990" r="108" fill="url(#bC)"/><circle cx="835" cy="955" r="108" fill="url(#bC)"/><circle cx="592" cy="870" r="112" fill="url(#bO)"/><rect transform="translate(445 1310) rotate(-2.2)" x="0" y="-35" width="527.4" height="70" fill="url(#sC)"/><rect transform="translate(445 1310) rotate(119.4)" x="0" y="-35" width="407.5" height="70" fill="url(#sC)"/><rect transform="translate(445 1310) rotate(49.4)" x="0" y="-35" width="461" height="70" fill="url(#sC)"/><rect transform="translate(972 1290) rotate(121.5)" x="0" y="-35" width="434.1" height="70" fill="url(#sC)"/><rect transform="translate(972 1290) rotate(56)" x="0" y="-35" width="434.3" height="70" fill="url(#sC)"/><circle cx="445" cy="1310" r="112" fill="url(#bCuS)"/><circle cx="972" cy="1290" r="112" fill="url(#bCuS)"/><circle cx="200" cy="1600" r="90" fill="url(#bCuI)"/><circle cx="720" cy="1600" r="95" fill="url(#bCuI)"/><circle cx="1210" cy="1590" r="100" fill="url(#bCuI)"/><circle cx="1680" cy="1590" r="95" fill="url(#bCuI)"/><rect transform="translate(40 1614.4) rotate(-0.2)" x="0" y="-29.8" width="1860" height="59.5" fill="url(#sC)"/><rect transform="translate(40 1685.8) rotate(-0.2)" x="0" y="-40.2" width="1860" height="80.5" fill="url(#sC)"/><rect transform="translate(231 1685) rotate(134.2)" x="0" y="-38" width="288.5" height="76" fill="url(#sCd)"/><rect transform="translate(245 1665) rotate(126.8)" x="0" y="-35" width="283.6" height="70" fill="url(#sC)"/><rect transform="translate(259 1685) rotate(45.8)" x="0" y="-38" width="288.5" height="76" fill="url(#sCd)"/><rect transform="translate(245 1665) rotate(53.2)" x="0" y="-35" width="283.6" height="70" fill="url(#sC)"/><rect transform="translate(731 1680) rotate(133.5)" x="0" y="-38" width="292.1" height="76" fill="url(#sCd)"/><rect transform="translate(745 1660) rotate(126.2)" x="0" y="-35" width="287.6" height="70" fill="url(#sC)"/><rect transform="translate(759 1680) rotate(46.5)" x="0" y="-38" width="292.1" height="76" fill="url(#sCd)"/><rect transform="translate(745 1660) rotate(53.8)" x="0" y="-35" width="287.6" height="70" fill="url(#sC)"/><rect transform="translate(1201 1670) rotate(132.2)" x="0" y="-38" width="299.5" height="76" fill="url(#sCd)"/><rect transform="translate(1215 1650) rotate(125.1)" x="0" y="-35" width="295.7" height="70" fill="url(#sC)"/><rect transform="translate(1229 1670) rotate(47.8)" x="0" y="-38" width="299.5" height="76" fill="url(#sCd)"/><rect transform="translate(1215 1650) rotate(54.9)" x="0" y="-35" width="295.7" height="70" fill="url(#sC)"/><rect transform="translate(1676 1660) rotate(130.9)" x="0" y="-38" width="307" height="76" fill="url(#sCd)"/><rect transform="translate(1690 1640) rotate(124)" x="0" y="-35" width="304" height="70" fill="url(#sC)"/><rect transform="translate(1704 1660) rotate(49.1)" x="0" y="-38" width="307" height="76" fill="url(#sCd)"/><rect transform="translate(1690 1640) rotate(56)" x="0" y="-35" width="304" height="70" fill="url(#sC)"/><circle cx="245" cy="1665" r="110" fill="url(#bCuI)"/><circle cx="745" cy="1660" r="110" fill="url(#bCuI)"/><circle cx="1215" cy="1650" r="108" fill="url(#bCuI)"/><circle cx="1690" cy="1640" r="108" fill="url(#bCuI)"/></g></g><rect x="1288.5" y="2082.5" width="947.2" height="921.5" fill="none" stroke="#000" stroke-width="6.6"/><text x="1416.7" y="3085" font-size="78.5" text-anchor="middle" class="b">3.2</text><text x="1588.9" y="3085" font-size="78.5" text-anchor="middle" class="b">2.8</text><text x="1761.1" y="3085" font-size="78.5" text-anchor="middle" class="b">2.4</text><text x="1933.3" y="3085" font-size="78.5" text-anchor="middle" class="b">2.0</text><text x="2105.5" y="3085" font-size="78.5" text-anchor="middle" class="b">1.6</text><path d="M1417.7 3004v-22M1589.9 3004v-22M1762.1 3004v-22M1934.3 3004v-22M2106.5 3004v-22M1288.5 2850.4h11M1288.5 2696.8h23M1288.5 2543.2h11M1288.5 2389.7h23M1288.5 2236.1h11" fill="none" stroke="#000" stroke-width="6.6"/><path d="M2585.2 3000C2586.5 2999.3 2590.5 2997 2593 2995.7C2595.4 2994.4 2595.3 2994.4 2600 2992.2C2604.7 2990 2614.1 2986.1 2621.1 2982.4C2628.2 2978.7 2635.2 2973.6 2642.2 2970C2649.3 2966.5 2656.9 2965.6 2663.4 2961.2C2669.8 2956.8 2674.5 2950.7 2681 2943.6C2687.4 2936.6 2695 2927.2 2702.1 2919C2709.1 2910.8 2716.7 2901.7 2723.2 2894.4C2729.6 2887 2734.9 2881.5 2740.8 2875C2746.7 2868.6 2752.5 2863 2758.4 2855.6C2764.2 2848.3 2770.1 2839.2 2776 2831C2781.8 2822.8 2787.7 2814.3 2793.6 2806.4C2799.4 2798.5 2805.3 2790.5 2811.2 2783.5C2817 2776.5 2822.9 2771.2 2828.8 2764.1C2834.6 2757.1 2840.5 2748.6 2846.4 2741.3C2852.2 2733.9 2858.1 2726.6 2864 2720.1C2869.8 2713.7 2875.7 2709 2881.6 2702.5C2887.4 2696.1 2893.3 2686.7 2899.2 2681.4C2905 2676.1 2910.9 2674.1 2916.8 2670.9C2922.6 2667.6 2928.5 2665 2934.4 2662.1C2940.2 2659.1 2946.7 2655.6 2952 2653.3C2957.2 2650.9 2961.3 2648.4 2966 2648C2970.7 2647.6 2974.8 2648.8 2980.1 2650.8C2985.4 2652.9 2992.4 2658.1 2997.7 2660.3C3003 2662.5 3007.1 2661.5 3011.8 2663.8C3016.5 2666.2 3021.2 2669.7 3025.9 2674.4C3030.6 2679.1 3035.3 2685.5 3040 2692C3044.6 2698.4 3049.3 2704.6 3054 2713.1C3058.7 2721.6 3063.4 2732.8 3068.1 2743C3072.8 2753.3 3077.5 2764.1 3082.2 2774.7C3086.9 2785.3 3091.6 2796.4 3096.3 2806.4C3101 2816.3 3105.7 2826.3 3110.3 2834.5C3115 2842.7 3119.7 2848.6 3124.4 2855.6C3129.1 2862.7 3134.4 2870.9 3138.5 2876.8C3142.6 2882.6 3146.1 2887.4 3149.1 2890.8C3152 2894.2 3154.9 2896.1 3156.1 2897.2" fill="none" stroke="#000" stroke-width="7.5" stroke-linejoin="round" stroke-linecap="round"/><path d="M2966 2605.8V2692M2953.7 2605.8H2978.3M2953.7 2692H2978.3" fill="none" stroke="#000" stroke-width="2.6"/><clipPath id="ci4"><rect x="2379" y="2445" width="355" height="344"/></clipPath><rect x="2379" y="2445" width="355" height="344" fill="#fff"/><g clip-path="url(#ci4)"><g transform="translate(2370 2434) scale(0.19358)"><path transform="translate(60 215) rotate(-31.3)" d="M81.9 -20H163.8A20 20 0 0 1 163.8 20H81.9Z" fill="url(#tG)"/><path transform="translate(60 215) rotate(-31.3)" d="M81.9 -20H0A20 20 0 0 0 0 20H81.9Z" fill="url(#tR)"/><path transform="translate(60 215) rotate(-92.6)" d="M55.1 -20H110.1A20 20 0 0 1 110.1 20H55.1Z" fill="url(#tW)"/><path transform="translate(60 215) rotate(-92.6)" d="M55.1 -20H0A20 20 0 0 0 0 20H55.1Z" fill="url(#tR)"/><path transform="translate(415 55) rotate(71.8)" d="M64.2 -20H128.4A20 20 0 0 1 128.4 20H64.2Z" fill="url(#tW)"/><path transform="translate(415 55) rotate(71.8)" d="M64.2 -20H0A20 20 0 0 0 0 20H64.2Z" fill="url(#tR)"/><rect transform="translate(305 50) rotate(28.1)" x="-17" y="-17" width="51" height="34" rx="17" fill="url(#tR)"/><path transform="translate(287 442) rotate(-106.2)" d="M84.3 -20H168.7A20 20 0 0 1 168.7 20H84.3Z" fill="url(#tW)"/><path transform="translate(287 442) rotate(-106.2)" d="M84.3 -20H0A20 20 0 0 0 0 20H84.3Z" fill="url(#tR)"/><path transform="translate(287 442) rotate(173.9)" d="M37.7 -20H75.4A20 20 0 0 1 75.4 20H37.7Z" fill="url(#tK)"/><path transform="translate(287 442) rotate(173.9)" d="M37.7 -20H0A20 20 0 0 0 0 20H37.7Z" fill="url(#tR)"/><path transform="translate(30 512) rotate(-24.7)" d="M56.2 -20H112.3A20 20 0 0 1 112.3 20H56.2Z" fill="url(#tW)"/><path transform="translate(30 512) rotate(-24.7)" d="M56.2 -20H0A20 20 0 0 0 0 20H56.2Z" fill="url(#tR)"/><path transform="translate(460 470) rotate(81.9)" d="M53 -20H106.1A20 20 0 0 1 106.1 20H53Z" fill="url(#tW)"/><path transform="translate(460 470) rotate(81.9)" d="M53 -20H0A20 20 0 0 0 0 20H53Z" fill="url(#tR)"/><rect transform="translate(460 470) rotate(-20.6)" x="-20" y="-20" width="125.4" height="40" rx="20" fill="url(#tR)"/><path transform="translate(555 520) rotate(84.7)" d="M53.7 -20H107.5A20 20 0 0 1 107.5 20H53.7Z" fill="url(#tG)"/><path transform="translate(555 520) rotate(84.7)" d="M53.7 -20H0A20 20 0 0 0 0 20H53.7Z" fill="url(#tR)"/><path transform="translate(530 452) rotate(-119.9)" d="M50.2 -20H100.3A20 20 0 0 1 100.3 20H50.2Z" fill="url(#tW)"/><path transform="translate(530 452) rotate(-119.9)" d="M50.2 -20H0A20 20 0 0 0 0 20H50.2Z" fill="url(#tR)"/><path transform="translate(530 452) rotate(27.8)" d="M40.7 -20H81.4A20 20 0 0 1 81.4 20H40.7Z" fill="url(#tG)"/><path transform="translate(530 452) rotate(27.8)" d="M40.7 -20H0A20 20 0 0 0 0 20H40.7Z" fill="url(#tR)"/><path transform="translate(642 557) rotate(-177.6)" d="M82.1 -20H164.1A20 20 0 0 1 164.1 20H82.1Z" fill="url(#tW)"/><path transform="translate(642 557) rotate(-177.6)" d="M82.1 -20H0A20 20 0 0 0 0 20H82.1Z" fill="url(#tR)"/><path transform="translate(642 557) rotate(-46)" d="M79.2 -20H158.4A20 20 0 0 1 158.4 20H79.2Z" fill="url(#tG)"/><path transform="translate(642 557) rotate(-46)" d="M79.2 -20H0A20 20 0 0 0 0 20H79.2Z" fill="url(#tR)"/><path transform="translate(852 238) rotate(132.8)" d="M64 -20H128.1A20 20 0 0 1 128.1 20H64Z" fill="url(#tW)"/><path transform="translate(852 238) rotate(132.8)" d="M64 -20H0A20 20 0 0 0 0 20H64Z" fill="url(#tR)"/><path transform="translate(852 238) rotate(-29.7)" d="M80.6 -20H161.2A20 20 0 0 1 161.2 20H80.6Z" fill="url(#tG)"/><path transform="translate(852 238) rotate(-29.7)" d="M80.6 -20H0A20 20 0 0 0 0 20H80.6Z" fill="url(#tR)"/><path transform="translate(1018 195) rotate(-118.8)" d="M75.9 -20H151.7A20 20 0 0 1 151.7 20H75.9Z" fill="url(#tW)"/><path transform="translate(1018 195) rotate(-118.8)" d="M75.9 -20H0A20 20 0 0 0 0 20H75.9Z" fill="url(#tR)"/><path transform="translate(1018 195) rotate(83.8)" d="M79 -20H157.9A20 20 0 0 1 157.9 20H79Z" fill="url(#tW)"/><path transform="translate(1018 195) rotate(83.8)" d="M79 -20H0A20 20 0 0 0 0 20H79Z" fill="url(#tR)"/><path transform="translate(1040 190) rotate(-11.2)" d="M77.5 -20H154.9A20 20 0 0 1 154.9 20H77.5Z" fill="url(#tW)"/><path transform="translate(1040 190) rotate(-11.2)" d="M77.5 -20H0A20 20 0 0 0 0 20H77.5Z" fill="url(#tR)"/><path transform="translate(1460 160) rotate(-17.4)" d="M53.5 -20H106.9A20 20 0 0 1 106.9 20H53.5Z" fill="url(#tG)"/><path transform="translate(1460 160) rotate(-17.4)" d="M53.5 -20H0A20 20 0 0 0 0 20H53.5Z" fill="url(#tR)"/><path transform="translate(1460 160) rotate(81.6)" d="M92 -20H184A20 20 0 0 1 184 20H92Z" fill="url(#tW)"/><path transform="translate(1460 160) rotate(81.6)" d="M92 -20H0A20 20 0 0 0 0 20H92Z" fill="url(#tR)"/><path transform="translate(1640 85) rotate(45)" d="M58 -20H116A20 20 0 0 1 116 20H58Z" fill="url(#tG)"/><path transform="translate(1640 85) rotate(45)" d="M58 -20H0A20 20 0 0 0 0 20H58Z" fill="url(#tR)"/><rect transform="translate(1640 85) rotate(-151.7)" x="-20" y="-20" width="113.8" height="40" rx="20" fill="url(#tR)"/><path transform="translate(1870 215) rotate(-90)" d="M57.5 -20H115A20 20 0 0 1 115 20H57.5Z" fill="url(#tW)"/><path transform="translate(1870 215) rotate(-90)" d="M57.5 -20H0A20 20 0 0 0 0 20H57.5Z" fill="url(#tR)"/><path transform="translate(1040 620) rotate(-97.6)" d="M37.8 -20H75.7A20 20 0 0 1 75.7 20H37.8Z" fill="url(#tK)"/><path transform="translate(1040 620) rotate(-97.6)" d="M37.8 -20H0A20 20 0 0 0 0 20H37.8Z" fill="url(#tR)"/><path transform="translate(1040 620) rotate(7.3)" d="M86.7 -20H173.4A20 20 0 0 1 173.4 20H86.7Z" fill="url(#tW)"/><path transform="translate(1040 620) rotate(7.3)" d="M86.7 -20H0A20 20 0 0 0 0 20H86.7Z" fill="url(#tR)"/><path transform="translate(1520 630) rotate(0.9)" d="M61 -20H122A20 20 0 0 1 122 20H61Z" fill="url(#tG)"/><path transform="translate(1520 630) rotate(0.9)" d="M61 -20H0A20 20 0 0 0 0 20H61Z" fill="url(#tR)"/><path transform="translate(1520 630) rotate(76.7)" d="M76 -20H152.1A20 20 0 0 1 152.1 20H76Z" fill="url(#tW)"/><path transform="translate(1520 630) rotate(76.7)" d="M76 -20H0A20 20 0 0 0 0 20H76Z" fill="url(#tR)"/><path transform="translate(1490 745) rotate(-142.8)" d="M91 -20H182A20 20 0 0 1 182 20H91Z" fill="url(#tW)"/><path transform="translate(1490 745) rotate(-142.8)" d="M91 -20H0A20 20 0 0 0 0 20H91Z" fill="url(#tR)"/><path transform="translate(1490 745) rotate(96.8)" d="M75.5 -20H151.1A20 20 0 0 1 151.1 20H75.5Z" fill="url(#tG)"/><path transform="translate(1490 745) rotate(96.8)" d="M75.5 -20H0A20 20 0 0 0 0 20H75.5Z" fill="url(#tR)"/><path transform="translate(1800 530) rotate(146.2)" d="M60.2 -20H120.4A20 20 0 0 1 120.4 20H60.2Z" fill="url(#tG)"/><path transform="translate(1800 530) rotate(146.2)" d="M60.2 -20H0A20 20 0 0 0 0 20H60.2Z" fill="url(#tR)"/><rect transform="translate(1800 530) rotate(-25.3)" x="-20" y="-20" width="145.1" height="40" rx="20" fill="url(#tR)"/><path transform="translate(1792 648) rotate(160.9)" d="M67.2 -20H134.4A20 20 0 0 1 134.4 20H67.2Z" fill="url(#tW)"/><path transform="translate(1792 648) rotate(160.9)" d="M67.2 -20H0A20 20 0 0 0 0 20H67.2Z" fill="url(#tR)"/><path transform="translate(1792 648) rotate(-70)" d="M58.5 -20H117A20 20 0 0 1 117 20H58.5Z" fill="url(#tG)"/><path transform="translate(1792 648) rotate(-70)" d="M58.5 -20H0A20 20 0 0 0 0 20H58.5Z" fill="url(#tR)"/><path transform="translate(1365 1003) rotate(-165.8)" d="M77.4 -20H154.7A20 20 0 0 1 154.7 20H77.4Z" fill="url(#tW)"/><path transform="translate(1365 1003) rotate(-165.8)" d="M77.4 -20H0A20 20 0 0 0 0 20H77.4Z" fill="url(#tR)"/><path transform="translate(1365 1003) rotate(-41)" d="M80.8 -20H161.6A20 20 0 0 1 161.6 20H80.8Z" fill="url(#tW)"/><path transform="translate(1365 1003) rotate(-41)" d="M80.8 -20H0A20 20 0 0 0 0 20H80.8Z" fill="url(#tR)"/><path transform="translate(906 940) rotate(-134)" d="M83.5 -20H166.9A20 20 0 0 1 166.9 20H83.5Z" fill="url(#tW)"/><path transform="translate(906 940) rotate(-134)" d="M83.5 -20H0A20 20 0 0 0 0 20H83.5Z" fill="url(#tR)"/><path transform="translate(906 940) rotate(137.5)" d="M48.1 -20H96.3A20 20 0 0 1 96.3 20H48.1Z" fill="url(#tK)"/><path transform="translate(906 940) rotate(137.5)" d="M48.1 -20H0A20 20 0 0 0 0 20H48.1Z" fill="url(#tR)"/><circle cx="120" cy="1145" r="72" fill="url(#bK)"/><circle cx="1100" cy="1070" r="55" fill="url(#bK)"/><path transform="translate(103 1177) rotate(-53.2)" d="M86.8 -20H173.6A20 20 0 0 1 173.6 20H86.8Z" fill="url(#tW)"/><path transform="translate(103 1177) rotate(-53.2)" d="M86.8 -20H0A20 20 0 0 0 0 20H86.8Z" fill="url(#tR)"/><path transform="translate(103 1177) rotate(58.3)" d="M94.1 -20H188.2A20 20 0 0 1 188.2 20H94.1Z" fill="url(#tW)"/><path transform="translate(103 1177) rotate(58.3)" d="M94.1 -20H0A20 20 0 0 0 0 20H94.1Z" fill="url(#tR)"/><path transform="translate(495 1250) rotate(109.4)" d="M75.3 -20H150.5A20 20 0 0 1 150.5 20H75.3Z" fill="url(#tW)"/><path transform="translate(495 1250) rotate(109.4)" d="M75.3 -20H0A20 20 0 0 0 0 20H75.3Z" fill="url(#tR)"/><path transform="translate(495 1250) rotate(43.2)" d="M56.2 -20H112.5A20 20 0 0 1 112.5 20H56.2Z" fill="url(#tW)"/><path transform="translate(495 1250) rotate(43.2)" d="M56.2 -20H0A20 20 0 0 0 0 20H56.2Z" fill="url(#tR)"/><path transform="translate(1470 1142) rotate(144)" d="M34 -20H68A20 20 0 0 1 68 20H34Z" fill="url(#tW)"/><path transform="translate(1470 1142) rotate(144)" d="M34 -20H0A20 20 0 0 0 0 20H34Z" fill="url(#tR)"/><path transform="translate(1470 1142) rotate(84.2)" d="M99.5 -20H199A20 20 0 0 1 199 20H99.5Z" fill="url(#tG)"/><path transform="translate(1470 1142) rotate(84.2)" d="M99.5 -20H0A20 20 0 0 0 0 20H99.5Z" fill="url(#tR)"/><path transform="translate(1590 1190) rotate(6.5)" d="M66.4 -20H132.8A20 20 0 0 1 132.8 20H66.4Z" fill="url(#tG)"/><path transform="translate(1590 1190) rotate(6.5)" d="M66.4 -20H0A20 20 0 0 0 0 20H66.4Z" fill="url(#tR)"/><path transform="translate(1590 1190) rotate(125)" d="M85.4 -20H170.9A20 20 0 0 1 170.9 20H85.4Z" fill="url(#tW)"/><path transform="translate(1590 1190) rotate(125)" d="M85.4 -20H0A20 20 0 0 0 0 20H85.4Z" fill="url(#tR)"/><path transform="translate(1690 1367) rotate(-144.9)" d="M88.6 -20H177.3A20 20 0 0 1 177.3 20H88.6Z" fill="url(#tW)"/><path transform="translate(1690 1367) rotate(-144.9)" d="M88.6 -20H0A20 20 0 0 0 0 20H88.6Z" fill="url(#tR)"/><path transform="translate(1690 1367) rotate(-23.1)" d="M62.5 -20H125A20 20 0 0 1 125 20H62.5Z" fill="url(#tG)"/><path transform="translate(1690 1367) rotate(-23.1)" d="M62.5 -20H0A20 20 0 0 0 0 20H62.5Z" fill="url(#tR)"/><path transform="translate(545 940) rotate(-124.6)" d="M182.3 -19H294A19 19 0 0 1 294 19H182.3Z" fill="url(#tW)"/><path transform="translate(545 940) rotate(-124.6)" d="M182.3 -19H0A19 19 0 0 0 0 19H182.3Z" fill="url(#tR)"/><circle cx="1060" cy="905" r="108" fill="url(#bO)"/><circle cx="545" cy="940" r="110" fill="url(#bO)"/><rect transform="translate(645 1130) rotate(-3.2)" x="0" y="-29" width="360.6" height="58" fill="url(#sGy)"/><rect transform="translate(645 1130) rotate(94.8)" x="132.5" y="-29" width="108.4" height="58" fill="url(#sC)"/><rect transform="translate(645 1130) rotate(94.8)" x="0" y="-29" width="132.5" height="58" fill="url(#sGy)"/><rect transform="translate(1005 1110) rotate(86.3)" x="126.8" y="-29" width="103.7" height="58" fill="url(#sC)"/><rect transform="translate(1005 1110) rotate(86.3)" x="0" y="-29" width="126.8" height="58" fill="url(#sGy)"/><rect transform="translate(1060 1150) rotate(78.1)" x="106.8" y="-25" width="87.4" height="50" fill="url(#sC)"/><rect transform="translate(1060 1150) rotate(78.1)" x="0" y="-25" width="106.8" height="50" fill="url(#sGy)"/><circle cx="645" cy="1130" r="105" fill="url(#bC)"/><circle cx="1005" cy="1110" r="105" fill="url(#bC)"/><circle cx="1130" cy="1420" r="80" fill="url(#bCu)"/><circle cx="680" cy="1420" r="62" fill="url(#bCu)"/><rect transform="translate(1130 1420) rotate(50.2)" x="0" y="-30" width="312.4" height="60" fill="url(#sCd)"/><rect transform="translate(1100 1440) rotate(53.8)" x="0" y="-30" width="322" height="60" fill="url(#sCd)"/><rect transform="translate(680 1430) rotate(66)" x="0" y="-30" width="295.5" height="60" fill="url(#sCd)"/><rect transform="translate(1160 1400) rotate(43.9)" x="0" y="-30" width="360.7" height="60" fill="url(#sCd)"/><rect transform="translate(595 1470) rotate(-3.9)" x="0" y="-35" width="441" height="70" fill="url(#sC)"/><rect transform="translate(595 1470) rotate(136.6)" x="0" y="-35" width="378.5" height="70" fill="url(#sC)"/><rect transform="translate(595 1470) rotate(59.2)" x="0" y="-35" width="302.7" height="70" fill="url(#sC)"/><rect transform="translate(1035 1440) rotate(134.5)" x="0" y="-35" width="406.6" height="70" fill="url(#sC)"/><rect transform="translate(1035 1440) rotate(48.7)" x="0" y="-35" width="326" height="70" fill="url(#sC)"/><rect transform="translate(560 1480) rotate(126)" x="0" y="-35" width="272" height="70" fill="url(#sC)"/><rect transform="translate(990 1460) rotate(123.7)" x="0" y="-35" width="288.4" height="70" fill="url(#sC)"/><circle cx="595" cy="1470" r="105" fill="url(#bCuS)"/><circle cx="1035" cy="1440" r="105" fill="url(#bCuS)"/><circle cx="370" cy="1680" r="70" fill="url(#bCuI)"/><circle cx="1330" cy="1660" r="70" fill="url(#bCuI)"/><circle cx="1740" cy="1640" r="100" fill="url(#bCuI)"/><circle cx="1820" cy="1600" r="80" fill="url(#bCuI)"/><circle cx="1400" cy="1650" r="60" fill="url(#bCuI)"/><rect transform="translate(100 1684.4) rotate(-0.2)" x="0" y="-29.8" width="1800" height="59.5" fill="url(#sC)"/><rect transform="translate(100 1755.8) rotate(-0.3)" x="0" y="-40.2" width="1800" height="80.5" fill="url(#sC)"/><rect transform="translate(306 1750) rotate(148.1)" x="0" y="-38" width="236.7" height="76" fill="url(#sCd)"/><rect transform="translate(320 1730) rotate(139.5)" x="0" y="-35" width="223.4" height="70" fill="url(#sC)"/><rect transform="translate(334 1750) rotate(31.9)" x="0" y="-38" width="236.7" height="76" fill="url(#sCd)"/><rect transform="translate(320 1730) rotate(40.5)" x="0" y="-35" width="223.4" height="70" fill="url(#sC)"/><rect transform="translate(736 1750) rotate(148.1)" x="0" y="-38" width="236.7" height="76" fill="url(#sCd)"/><rect transform="translate(750 1730) rotate(139.5)" x="0" y="-35" width="223.4" height="70" fill="url(#sC)"/><rect transform="translate(764 1750) rotate(31.9)" x="0" y="-38" width="236.7" height="76" fill="url(#sCd)"/><rect transform="translate(750 1730) rotate(40.5)" x="0" y="-35" width="223.4" height="70" fill="url(#sC)"/><rect transform="translate(1236 1705) rotate(139.8)" x="0" y="-38" width="263.3" height="76" fill="url(#sCd)"/><rect transform="translate(1250 1685) rotate(131.8)" x="0" y="-35" width="255" height="70" fill="url(#sC)"/><rect transform="translate(1264 1705) rotate(40.2)" x="0" y="-38" width="263.3" height="76" fill="url(#sCd)"/><rect transform="translate(1250 1685) rotate(48.2)" x="0" y="-35" width="255" height="70" fill="url(#sC)"/><rect transform="translate(1696 1745) rotate(147.1)" x="0" y="-38" width="239.4" height="76" fill="url(#sCd)"/><rect transform="translate(1710 1725) rotate(138.6)" x="0" y="-35" width="226.7" height="70" fill="url(#sC)"/><rect transform="translate(1724 1745) rotate(32.9)" x="0" y="-38" width="239.4" height="76" fill="url(#sCd)"/><rect transform="translate(1710 1725) rotate(41.4)" x="0" y="-35" width="226.7" height="70" fill="url(#sC)"/><circle cx="320" cy="1730" r="100" fill="url(#bCuI)"/><circle cx="750" cy="1730" r="100" fill="url(#bCuI)"/><circle cx="1250" cy="1685" r="102" fill="url(#bCuI)"/><circle cx="1710" cy="1725" r="100" fill="url(#bCuI)"/></g></g><clipPath id="ci5"><rect x="2863" y="2241" width="355" height="338.5"/></clipPath><rect x="2863" y="2241" width="355" height="338.5" fill="#fff"/><g clip-path="url(#ci5)"><g transform="translate(2852 2231) scale(0.19463)"><rect transform="translate(330 92) rotate(-40.5)" x="-17" y="-17" width="106.3" height="34" rx="17" fill="url(#tR)"/><path transform="translate(945 172) rotate(118.8)" d="M64.4 -20H128.9A20 20 0 0 1 128.9 20H64.4Z" fill="url(#tW)"/><path transform="translate(945 172) rotate(118.8)" d="M64.4 -20H0A20 20 0 0 0 0 20H64.4Z" fill="url(#tR)"/><rect transform="translate(945 172) rotate(-13.7)" x="-20" y="-20" width="132.6" height="40" rx="20" fill="url(#tR)"/><path transform="translate(1030 50) rotate(85)" d="M57.7 -20H115.4A20 20 0 0 1 115.4 20H57.7Z" fill="url(#tW)"/><path transform="translate(1030 50) rotate(85)" d="M57.7 -20H0A20 20 0 0 0 0 20H57.7Z" fill="url(#tR)"/><rect transform="translate(1040 150) rotate(-14.5)" x="-17" y="-17" width="121.8" height="34" rx="17" fill="url(#tW)"/><path transform="translate(1400 55) rotate(57.6)" d="M81.1 -20H162.3A20 20 0 0 1 162.3 20H81.1Z" fill="url(#tW)"/><path transform="translate(1400 55) rotate(57.6)" d="M81.1 -20H0A20 20 0 0 0 0 20H81.1Z" fill="url(#tR)"/><rect transform="translate(1670 52) rotate(39.5)" x="-15" y="-15" width="81.9" height="30" rx="15" fill="url(#tW)"/><path transform="translate(1850 330) rotate(125.1)" d="M82.5 -20H165.1A20 20 0 0 1 165.1 20H82.5Z" fill="url(#tG)"/><path transform="translate(1850 330) rotate(125.1)" d="M82.5 -20H0A20 20 0 0 0 0 20H82.5Z" fill="url(#tR)"/><path transform="translate(1770 330) rotate(-50.3)" d="M76.7 -20H153.4A20 20 0 0 1 153.4 20H76.7Z" fill="url(#tG)"/><path transform="translate(1770 330) rotate(-50.3)" d="M76.7 -20H0A20 20 0 0 0 0 20H76.7Z" fill="url(#tR)"/><path transform="translate(1770 330) rotate(141.9)" d="M64.8 -20H129.6A20 20 0 0 1 129.6 20H64.8Z" fill="url(#tW)"/><path transform="translate(1770 330) rotate(141.9)" d="M64.8 -20H0A20 20 0 0 0 0 20H64.8Z" fill="url(#tR)"/><rect transform="translate(1720 352) rotate(29.9)" x="-17" y="-17" width="126.3" height="34" rx="17" fill="url(#tR)"/><path transform="translate(312 403) rotate(-162)" d="M61.5 -20H123A20 20 0 0 1 123 20H61.5Z" fill="url(#tW)"/><path transform="translate(312 403) rotate(-162)" d="M61.5 -20H0A20 20 0 0 0 0 20H61.5Z" fill="url(#tR)"/><path transform="translate(312 403) rotate(-67.4)" d="M84.5 -20H169A20 20 0 0 1 169 20H84.5Z" fill="url(#tG)"/><path transform="translate(312 403) rotate(-67.4)" d="M84.5 -20H0A20 20 0 0 0 0 20H84.5Z" fill="url(#tR)"/><path transform="translate(407 375) rotate(-62.4)" d="M37.8 -20H75.6A20 20 0 0 1 75.6 20H37.8Z" fill="url(#tG)"/><path transform="translate(407 375) rotate(-62.4)" d="M37.8 -20H0A20 20 0 0 0 0 20H37.8Z" fill="url(#tR)"/><path transform="translate(407 375) rotate(67.9)" d="M92.8 -20H185.7A20 20 0 0 1 185.7 20H92.8Z" fill="url(#tW)"/><path transform="translate(407 375) rotate(67.9)" d="M92.8 -20H0A20 20 0 0 0 0 20H92.8Z" fill="url(#tR)"/><path transform="translate(793 397) rotate(-118.6)" d="M86.6 -20H173.2A20 20 0 0 1 173.2 20H86.6Z" fill="url(#tW)"/><path transform="translate(793 397) rotate(-118.6)" d="M86.6 -20H0A20 20 0 0 0 0 20H86.6Z" fill="url(#tR)"/><path transform="translate(793 397) rotate(140.7)" d="M89.2 -20H178.4A20 20 0 0 1 178.4 20H89.2Z" fill="url(#tW)"/><path transform="translate(793 397) rotate(140.7)" d="M89.2 -20H0A20 20 0 0 0 0 20H89.2Z" fill="url(#tR)"/><path transform="translate(850 610) rotate(163.6)" d="M88.6 -20H177.2A20 20 0 0 1 177.2 20H88.6Z" fill="url(#tW)"/><path transform="translate(850 610) rotate(163.6)" d="M88.6 -20H0A20 20 0 0 0 0 20H88.6Z" fill="url(#tR)"/><path transform="translate(850 610) rotate(-76.7)" d="M69.4 -20H138.7A20 20 0 0 1 138.7 20H69.4Z" fill="url(#tG)"/><path transform="translate(850 610) rotate(-76.7)" d="M69.4 -20H0A20 20 0 0 0 0 20H69.4Z" fill="url(#tR)"/><path transform="translate(1052 428) rotate(146.6)" d="M58.1 -20H116.2A20 20 0 0 1 116.2 20H58.1Z" fill="url(#tW)"/><path transform="translate(1052 428) rotate(146.6)" d="M58.1 -20H0A20 20 0 0 0 0 20H58.1Z" fill="url(#tR)"/><path transform="translate(1052 428) rotate(112.2)" d="M75.6 -20H151.2A20 20 0 0 1 151.2 20H75.6Z" fill="url(#tG)"/><path transform="translate(1052 428) rotate(112.2)" d="M75.6 -20H0A20 20 0 0 0 0 20H75.6Z" fill="url(#tR)"/><path transform="translate(1233 582) rotate(-173)" d="M69.5 -20H139A20 20 0 0 1 139 20H69.5Z" fill="url(#tW)"/><path transform="translate(1233 582) rotate(-173)" d="M69.5 -20H0A20 20 0 0 0 0 20H69.5Z" fill="url(#tR)"/><path transform="translate(1233 582) rotate(-38.3)" d="M75.8 -20H151.6A20 20 0 0 1 151.6 20H75.8Z" fill="url(#tG)"/><path transform="translate(1233 582) rotate(-38.3)" d="M75.8 -20H0A20 20 0 0 0 0 20H75.8Z" fill="url(#tR)"/><path transform="translate(1537 662) rotate(-145.2)" d="M89.5 -20H178.9A20 20 0 0 1 178.9 20H89.5Z" fill="url(#tW)"/><path transform="translate(1537 662) rotate(-145.2)" d="M89.5 -20H0A20 20 0 0 0 0 20H89.5Z" fill="url(#tR)"/><path transform="translate(1537 662) rotate(88.7)" d="M67.5 -20H135A20 20 0 0 1 135 20H67.5Z" fill="url(#tW)"/><path transform="translate(1537 662) rotate(88.7)" d="M67.5 -20H0A20 20 0 0 0 0 20H67.5Z" fill="url(#tR)"/><circle cx="128" cy="885" r="72" fill="url(#bK)"/><circle cx="1395" cy="1010" r="70" fill="url(#bK)"/><path transform="translate(1483 1002) rotate(-148.1)" d="M84.2 -20H168.4A20 20 0 0 1 168.4 20H84.2Z" fill="url(#tW)"/><path transform="translate(1483 1002) rotate(-148.1)" d="M84.2 -20H0A20 20 0 0 0 0 20H84.2Z" fill="url(#tR)"/><path transform="translate(1483 1002) rotate(100.7)" d="M89 -20H178.1A20 20 0 0 1 178.1 20H89Z" fill="url(#tW)"/><path transform="translate(1483 1002) rotate(100.7)" d="M89 -20H0A20 20 0 0 0 0 20H89Z" fill="url(#tR)"/><path transform="translate(1590 995) rotate(0)" d="M78.5 -20H157A20 20 0 0 1 157 20H78.5Z" fill="url(#tG)"/><path transform="translate(1590 995) rotate(0)" d="M78.5 -20H0A20 20 0 0 0 0 20H78.5Z" fill="url(#tR)"/><path transform="translate(1590 995) rotate(105.5)" d="M84.1 -20H168.1A20 20 0 0 1 168.1 20H84.1Z" fill="url(#tW)"/><path transform="translate(1590 995) rotate(105.5)" d="M84.1 -20H0A20 20 0 0 0 0 20H84.1Z" fill="url(#tR)"/><path transform="translate(100 1062) rotate(72.6)" d="M80.2 -20H160.4A20 20 0 0 1 160.4 20H80.2Z" fill="url(#tW)"/><path transform="translate(100 1062) rotate(72.6)" d="M80.2 -20H0A20 20 0 0 0 0 20H80.2Z" fill="url(#tR)"/><rect transform="translate(100 1062) rotate(-32.3)" x="-20" y="-20" width="146.5" height="40" rx="20" fill="url(#tR)"/><path transform="translate(195 1005) rotate(-32.7)" d="M39.8 -20H79.6A20 20 0 0 1 79.6 20H39.8Z" fill="url(#tG)"/><path transform="translate(195 1005) rotate(-32.7)" d="M39.8 -20H0A20 20 0 0 0 0 20H39.8Z" fill="url(#tR)"/><path transform="translate(195 1005) rotate(68.5)" d="M68.2 -20H136.5A20 20 0 0 1 136.5 20H68.2Z" fill="url(#tW)"/><path transform="translate(195 1005) rotate(68.5)" d="M68.2 -20H0A20 20 0 0 0 0 20H68.2Z" fill="url(#tR)"/><path transform="translate(195 1005) rotate(100.5)" d="M33 -20H66.1A20 20 0 0 1 66.1 20H33Z" fill="url(#tW)"/><path transform="translate(195 1005) rotate(100.5)" d="M33 -20H0A20 20 0 0 0 0 20H33Z" fill="url(#tR)"/><rect transform="translate(850 1100) rotate(90)" x="-15" y="-15" width="70" height="30" rx="15" fill="url(#tW)"/><rect transform="translate(895 1100) rotate(87.5)" x="-15" y="-15" width="75" height="30" rx="15" fill="url(#tW)"/><path transform="translate(545 830) rotate(-129.3)" d="M158.6 -19H255.8A19 19 0 0 1 255.8 19H158.6Z" fill="url(#tW)"/><path transform="translate(545 830) rotate(-129.3)" d="M158.6 -19H0A19 19 0 0 0 0 19H158.6Z" fill="url(#tR)"/><circle cx="1000" cy="810" r="108" fill="url(#bO)"/><circle cx="490" cy="820" r="108" fill="url(#bO)"/><rect transform="translate(1165 1000) rotate(112.1)" x="-19" y="-19" width="210.7" height="38" rx="19" fill="url(#tD)"/><path transform="translate(1165 1000) rotate(-123.7)" d="M90.1 -20H180.3A20 20 0 0 1 180.3 20H90.1Z" fill="url(#tW)"/><path transform="translate(1165 1000) rotate(-123.7)" d="M90.1 -20H0A20 20 0 0 0 0 20H90.1Z" fill="url(#tR)"/><path transform="translate(1165 1000) rotate(-11.2)" d="M90.2 -20H180.4A20 20 0 0 1 180.4 20H90.2Z" fill="url(#tW)"/><path transform="translate(1165 1000) rotate(-11.2)" d="M90.2 -20H0A20 20 0 0 0 0 20H90.2Z" fill="url(#tR)"/><rect transform="translate(635 990) rotate(-1.1)" x="0" y="-29" width="250" height="58" fill="url(#sGy)"/><rect transform="translate(635 990) rotate(96.8)" x="116.3" y="-29" width="95.2" height="58" fill="url(#sC)"/><rect transform="translate(635 990) rotate(96.8)" x="0" y="-29" width="116.3" height="58" fill="url(#sGy)"/><rect transform="translate(885 985) rotate(50.7)" x="117.3" y="-29" width="95.9" height="58" fill="url(#sC)"/><rect transform="translate(885 985) rotate(50.7)" x="0" y="-29" width="117.3" height="58" fill="url(#sGy)"/><circle cx="635" cy="990" r="105" fill="url(#bC)"/><circle cx="885" cy="985" r="105" fill="url(#bC)"/><circle cx="640" cy="1300" r="80" fill="url(#bCu)"/><circle cx="1085" cy="1262" r="90" fill="url(#bCu)"/><rect transform="translate(640 1310) rotate(-3.3)" x="0" y="-30" width="440.7" height="60" fill="url(#sCd)"/><rect transform="translate(1100 1270) rotate(47.2)" x="0" y="-30" width="368" height="60" fill="url(#sCd)"/><rect transform="translate(640 1320) rotate(126.9)" x="0" y="-30" width="300" height="60" fill="url(#sCd)"/><rect transform="translate(590 1265) rotate(-4.8)" x="0" y="-31" width="476.7" height="62" fill="url(#sC)"/><rect transform="translate(590 1280) rotate(125)" x="0" y="-31" width="366.2" height="62" fill="url(#sC)"/><rect transform="translate(590 1280) rotate(49.6)" x="0" y="-31" width="393.7" height="62" fill="url(#sC)"/><rect transform="translate(1065 1225) rotate(121.8)" x="0" y="-31" width="417.6" height="62" fill="url(#sC)"/><rect transform="translate(1065 1225) rotate(53.5)" x="0" y="-31" width="429" height="62" fill="url(#sC)"/><circle cx="590" cy="1280" r="105" fill="url(#bCuS)"/><circle cx="1065" cy="1225" r="105" fill="url(#bCuS)"/><circle cx="345" cy="1525" r="75" fill="url(#bCuI)"/><circle cx="1350" cy="1520" r="75" fill="url(#bCuI)"/><circle cx="1740" cy="1530" r="80" fill="url(#bCuI)"/><circle cx="880" cy="1530" r="70" fill="url(#bCuI)"/><rect transform="translate(135 1551) rotate(-0.2)" x="0" y="-26.3" width="1765" height="52.7" fill="url(#sC)"/><rect transform="translate(135 1600.3) rotate(-0.3)" x="0" y="-35.6" width="1765" height="71.3" fill="url(#sC)"/><rect transform="translate(366 1600) rotate(131.2)" x="0" y="-34" width="305.5" height="68" fill="url(#sCd)"/><rect transform="translate(380 1580) rotate(124.2)" x="0" y="-31" width="302.3" height="62" fill="url(#sC)"/><rect transform="translate(394 1600) rotate(48.8)" x="0" y="-34" width="305.5" height="68" fill="url(#sCd)"/><rect transform="translate(380 1580) rotate(55.8)" x="0" y="-31" width="302.3" height="62" fill="url(#sC)"/><rect transform="translate(831 1600) rotate(131.2)" x="0" y="-34" width="305.5" height="68" fill="url(#sCd)"/><rect transform="translate(845 1580) rotate(124.2)" x="0" y="-31" width="302.3" height="62" fill="url(#sC)"/><rect transform="translate(859 1600) rotate(48.8)" x="0" y="-34" width="305.5" height="68" fill="url(#sCd)"/><rect transform="translate(845 1580) rotate(55.8)" x="0" y="-31" width="302.3" height="62" fill="url(#sC)"/><rect transform="translate(1306 1590) rotate(129.9)" x="0" y="-34" width="313.1" height="68" fill="url(#sCd)"/><rect transform="translate(1320 1570) rotate(123.2)" x="0" y="-31" width="310.6" height="62" fill="url(#sC)"/><rect transform="translate(1334 1590) rotate(50.1)" x="0" y="-34" width="313.1" height="68" fill="url(#sCd)"/><rect transform="translate(1320 1570) rotate(56.8)" x="0" y="-31" width="310.6" height="62" fill="url(#sC)"/><rect transform="translate(1761 1600) rotate(131.2)" x="0" y="-34" width="305.5" height="68" fill="url(#sCd)"/><rect transform="translate(1775 1580) rotate(124.2)" x="0" y="-31" width="302.3" height="62" fill="url(#sC)"/><rect transform="translate(1789 1600) rotate(48.8)" x="0" y="-34" width="305.5" height="68" fill="url(#sCd)"/><rect transform="translate(1775 1580) rotate(55.8)" x="0" y="-31" width="302.3" height="62" fill="url(#sC)"/><circle cx="380" cy="1580" r="100" fill="url(#bCuI)"/><circle cx="845" cy="1580" r="100" fill="url(#bCuI)"/><circle cx="1320" cy="1570" r="100" fill="url(#bCuI)"/><circle cx="1775" cy="1580" r="100" fill="url(#bCuI)"/></g></g><rect x="2324" y="2079" width="945.8" height="922" fill="none" stroke="#000" stroke-width="6.6"/><text x="2452" y="3085" font-size="78.5" text-anchor="middle" class="b">3.2</text><text x="2623.9" y="3085" font-size="78.5" text-anchor="middle" class="b">2.8</text><text x="2795.9" y="3085" font-size="78.5" text-anchor="middle" class="b">2.4</text><text x="2967.9" y="3085" font-size="78.5" text-anchor="middle" class="b">2.0</text><text x="3139.8" y="3085" font-size="78.5" text-anchor="middle" class="b">1.6</text><path d="M2453 3001v-22M2624.9 3001v-22M2796.9 3001v-22M2968.9 3001v-22M3140.8 3001v-22M2324 2847.3h11M2324 2693.7h23M2324 2540h11M2324 2386.3h23M2324 2232.7h11" fill="none" stroke="#000" stroke-width="6.6"/><text x="354" y="2770" font-size="68" text-anchor="start">SD = 0.17</text><text x="1756" y="2252" font-size="68" text-anchor="start">SD = 0.03</text><text x="2502" y="2248" font-size="68" text-anchor="start">SD = 0.04</text><text x="492" y="2217.5" font-size="84" text-anchor="start" class="b">TS</text><text x="957" y="2614" font-size="84" text-anchor="start" class="b">FS</text><text x="1498" y="2252" font-size="84" text-anchor="start" class="b">TS</text><text x="1923" y="2596" font-size="84" text-anchor="start" class="b">FS</text><text x="2498" y="2380" font-size="84" text-anchor="start" class="b">TS</text><text x="2981" y="2180.5" font-size="84" text-anchor="start" class="b">FS</text></svg></body></html>
